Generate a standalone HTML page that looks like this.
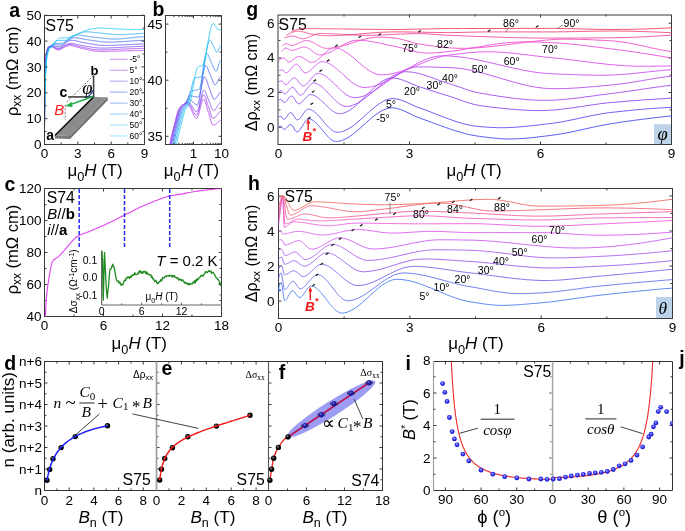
<!DOCTYPE html>
<html><head><meta charset="utf-8"><style>
html,body{margin:0;padding:0;background:#fff;}
svg{display:block;will-change:transform;}
</style></head><body>
<svg width="685" height="531" viewBox="0 0 685 531">
<rect width="685" height="531" fill="#fff"/>
<clipPath id="ca"><rect x="44.5" y="15.5" width="100" height="129"/></clipPath>
<clipPath id="cb"><rect x="165.5" y="15.5" width="56" height="129"/></clipPath>
<clipPath id="cc"><rect x="44.5" y="188.5" width="177" height="128"/></clipPath>
<clipPath id="cg"><rect x="278.5" y="14.5" width="393" height="130"/></clipPath>
<clipPath id="ch"><rect x="278.5" y="188.5" width="394" height="130"/></clipPath>
<clipPath id="ci"><rect x="433.5" y="361.5" width="119" height="129"/></clipPath>
<clipPath id="cj"><rect x="552.5" y="361.5" width="120" height="129"/></clipPath>
<clipPath id="cij"><rect x="433.5" y="361.5" width="239" height="129"/></clipPath>
<g clip-path="url(#ca)">
<path d="M44.5,126.4 44.6,108.3 44.7,97.7 44.8,90.2 45.0,84.4 45.1,79.5 45.2,75.2 45.3,71.3 45.4,68.0 45.5,65.3 45.6,62.8 45.7,60.5 45.9,58.6 46.0,57.1 46.1,55.8 46.2,54.9 46.3,54.0 46.4,53.3 46.5,52.7 46.6,52.1 46.8,51.5 46.9,51.0 47.0,50.5 47.1,50.0 47.2,49.5 47.3,49.0 47.4,48.6 47.6,48.3 47.7,48.1 47.8,47.9 47.9,47.7 48.0,47.5 48.1,47.4 48.2,47.3 48.3,47.1 48.5,47.0 48.6,47.0 48.7,46.9 48.8,46.8 48.9,46.8 49.0,46.8 49.1,46.7 49.2,46.7 49.4,46.7 49.5,46.7 49.6,46.7 49.7,46.6 49.8,46.6 49.9,46.6 50.0,46.6 50.1,46.6 50.3,46.6 50.4,46.6 50.5,46.6 50.6,46.5 50.7,46.5 50.8,46.5 50.9,46.5 51.1,46.5 51.2,46.5 51.6,46.6 52.1,46.8 52.6,47.1 53.1,47.4 53.6,47.7 54.0,48.1 54.5,48.4 55.0,48.7 55.5,49.0 56.0,49.2 56.4,49.4 56.9,49.6 57.4,49.7 57.9,49.8 58.4,49.9 58.8,49.9 59.3,49.8 59.8,49.7 60.3,49.5 60.8,49.3 61.3,49.1 61.7,48.8 62.2,48.5 62.7,48.2 63.2,47.9 63.7,47.6 64.1,47.4 64.6,47.1 65.1,46.8 65.6,46.6 66.1,46.4 66.5,46.2 67.0,46.0 67.5,45.9 68.0,45.7 68.5,45.6 68.9,45.6 69.4,45.5 69.9,45.5 70.4,45.5 70.9,45.5 71.3,45.6 71.8,45.7 72.3,45.7 72.8,45.8 73.3,46.0 73.7,46.1 74.2,46.2 74.7,46.4 75.2,46.5 75.7,46.6 76.1,46.8 76.6,46.9 77.1,47.1 77.6,47.2 78.1,47.4 78.5,47.5 79.0,47.7 79.5,47.8 80.0,47.9 80.5,48.1 80.9,48.2 81.4,48.3 81.9,48.4 82.4,48.5 82.9,48.6 83.3,48.7 83.8,48.8 84.3,48.9 84.8,49.1 85.3,49.2 85.7,49.3 86.2,49.4 86.7,49.5 87.2,49.6 87.7,49.7 88.1,49.9 88.6,50.0 89.1,50.1 89.6,50.2 90.1,50.3 90.5,50.4 91.0,50.5 91.5,50.6 92.0,50.7 92.5,50.7 92.9,50.8 93.4,50.9 93.9,51.0 94.4,51.0 94.9,51.1 95.3,51.2 95.8,51.2 96.3,51.3 96.8,51.3 97.3,51.3 97.7,51.4 98.2,51.4 98.7,51.4 99.2,51.4 99.7,51.4 100.1,51.4 100.6,51.4 101.1,51.4 101.6,51.4 102.1,51.4 102.5,51.4 103.0,51.4 103.5,51.4 104.0,51.4 104.5,51.4 104.9,51.4 105.4,51.4 105.9,51.4 106.4,51.4 106.9,51.4 107.3,51.4 107.8,51.4 108.3,51.3 108.8,51.3 109.3,51.3 109.7,51.3 110.2,51.3 110.7,51.3 111.2,51.3 111.7,51.3 112.1,51.3 112.6,51.2 113.1,51.2 113.6,51.2 114.1,51.2 114.6,51.2 115.0,51.2 115.5,51.2 116.0,51.1 116.5,51.1 117.0,51.1 117.4,51.1 117.9,51.1 118.4,51.1 118.9,51.1 119.4,51.1 119.8,51.0 120.3,51.0 120.8,51.0 121.3,51.0 121.8,51.0 122.2,51.0 122.7,51.0 123.2,50.9 123.7,50.9 124.2,50.9 124.6,50.9 125.1,50.9 125.6,50.9 126.1,50.9 126.6,50.8 127.0,50.8 127.5,50.8 128.0,50.8 128.5,50.8 129.0,50.8 129.4,50.8 129.9,50.7 130.4,50.7 130.9,50.7 131.4,50.7 131.8,50.7 132.3,50.7 132.8,50.7 133.3,50.7 133.8,50.6 134.2,50.6 134.7,50.6 135.2,50.6 135.7,50.6 136.2,50.6 136.6,50.6 137.1,50.6 137.6,50.6 138.1,50.5 138.6,50.5 139.0,50.5 139.5,50.5 140.0,50.5 140.5,50.5 141.0,50.5 141.4,50.5 141.9,50.5 142.4,50.4 142.9,50.4 143.4,50.4 143.8,50.4 144.3,50.4 144.8,50.4 145.3,50.4 145.8,50.4 146.2,50.4 146.7,50.4" fill="none" stroke="#b84cf0" stroke-width="0.9" stroke-linejoin="round" />
<path d="M44.5,126.4 44.6,108.8 44.7,98.4 44.8,91.0 45.0,85.2 45.1,80.4 45.2,76.1 45.3,72.3 45.4,69.0 45.5,66.2 45.6,63.7 45.7,61.5 45.9,59.5 46.0,57.8 46.1,56.5 46.2,55.4 46.3,54.5 46.4,53.8 46.5,53.1 46.6,52.5 46.8,51.9 46.9,51.4 47.0,50.9 47.1,50.4 47.2,49.9 47.3,49.5 47.4,49.0 47.6,48.7 47.7,48.3 47.8,48.1 47.9,47.9 48.0,47.7 48.1,47.6 48.2,47.4 48.3,47.3 48.5,47.2 48.6,47.1 48.7,47.0 48.8,47.0 48.9,46.9 49.0,46.8 49.1,46.8 49.2,46.7 49.4,46.7 49.5,46.6 49.6,46.6 49.7,46.6 49.8,46.5 49.9,46.5 50.0,46.4 50.1,46.4 50.3,46.4 50.4,46.4 50.5,46.3 50.6,46.3 50.7,46.3 50.8,46.3 50.9,46.3 51.1,46.3 51.2,46.3 51.6,46.3 52.1,46.5 52.6,46.7 53.1,47.0 53.6,47.3 54.0,47.6 54.5,47.9 55.0,48.1 55.5,48.3 56.0,48.6 56.4,48.7 56.9,48.9 57.4,49.0 57.9,49.1 58.4,49.1 58.8,49.1 59.3,49.0 59.8,48.9 60.3,48.7 60.8,48.5 61.3,48.2 61.7,47.9 62.2,47.6 62.7,47.3 63.2,47.0 63.7,46.7 64.1,46.4 64.6,46.2 65.1,45.9 65.6,45.6 66.1,45.4 66.5,45.2 67.0,45.0 67.5,44.9 68.0,44.7 68.5,44.6 68.9,44.5 69.4,44.5 69.9,44.5 70.4,44.5 70.9,44.5 71.3,44.5 71.8,44.6 72.3,44.7 72.8,44.8 73.3,44.9 73.7,45.0 74.2,45.1 74.7,45.2 75.2,45.4 75.7,45.5 76.1,45.6 76.6,45.8 77.1,45.9 77.6,46.1 78.1,46.2 78.5,46.3 79.0,46.5 79.5,46.6 80.0,46.7 80.5,46.8 80.9,46.9 81.4,47.0 81.9,47.1 82.4,47.2 82.9,47.3 83.3,47.4 83.8,47.5 84.3,47.6 84.8,47.7 85.3,47.8 85.7,47.9 86.2,48.0 86.7,48.1 87.2,48.2 87.7,48.3 88.1,48.4 88.6,48.5 89.1,48.6 89.6,48.7 90.1,48.8 90.5,48.9 91.0,49.0 91.5,49.1 92.0,49.2 92.5,49.3 92.9,49.3 93.4,49.4 93.9,49.5 94.4,49.5 94.9,49.6 95.3,49.6 95.8,49.7 96.3,49.7 96.8,49.8 97.3,49.8 97.7,49.8 98.2,49.9 98.7,49.9 99.2,49.9 99.7,49.9 100.1,49.9 100.6,49.9 101.1,49.9 101.6,49.9 102.1,49.9 102.5,49.9 103.0,49.9 103.5,49.9 104.0,49.8 104.5,49.8 104.9,49.8 105.4,49.8 105.9,49.8 106.4,49.8 106.9,49.8 107.3,49.8 107.8,49.7 108.3,49.7 108.8,49.7 109.3,49.7 109.7,49.7 110.2,49.7 110.7,49.6 111.2,49.6 111.7,49.6 112.1,49.6 112.6,49.6 113.1,49.5 113.6,49.5 114.1,49.5 114.6,49.5 115.0,49.5 115.5,49.4 116.0,49.4 116.5,49.4 117.0,49.4 117.4,49.4 117.9,49.3 118.4,49.3 118.9,49.3 119.4,49.3 119.8,49.2 120.3,49.2 120.8,49.2 121.3,49.2 121.8,49.2 122.2,49.1 122.7,49.1 123.2,49.1 123.7,49.1 124.2,49.0 124.6,49.0 125.1,49.0 125.6,49.0 126.1,49.0 126.6,48.9 127.0,48.9 127.5,48.9 128.0,48.9 128.5,48.9 129.0,48.8 129.4,48.8 129.9,48.8 130.4,48.8 130.9,48.8 131.4,48.7 131.8,48.7 132.3,48.7 132.8,48.7 133.3,48.7 133.8,48.7 134.2,48.6 134.7,48.6 135.2,48.6 135.7,48.6 136.2,48.6 136.6,48.6 137.1,48.5 137.6,48.5 138.1,48.5 138.6,48.5 139.0,48.5 139.5,48.5 140.0,48.5 140.5,48.4 141.0,48.4 141.4,48.4 141.9,48.4 142.4,48.4 142.9,48.4 143.4,48.4 143.8,48.4 144.3,48.3 144.8,48.3 145.3,48.3 145.8,48.3 146.2,48.3 146.7,48.3" fill="none" stroke="#a04cf2" stroke-width="0.9" stroke-linejoin="round" />
<path d="M44.5,126.4 44.6,109.3 44.7,99.2 44.8,91.9 45.0,86.2 45.1,81.4 45.2,77.3 45.3,73.5 45.4,70.2 45.5,67.3 45.6,64.8 45.7,62.6 45.9,60.5 46.0,58.8 46.1,57.3 46.2,56.1 46.3,55.2 46.4,54.3 46.5,53.6 46.6,53.0 46.8,52.4 46.9,51.9 47.0,51.4 47.1,50.9 47.2,50.5 47.3,50.0 47.4,49.6 47.6,49.1 47.7,48.8 47.8,48.4 47.9,48.2 48.0,48.0 48.1,47.8 48.2,47.7 48.3,47.5 48.5,47.4 48.6,47.3 48.7,47.2 48.8,47.1 48.9,47.1 49.0,47.0 49.1,46.9 49.2,46.8 49.4,46.8 49.5,46.7 49.6,46.6 49.7,46.6 49.8,46.5 49.9,46.5 50.0,46.4 50.1,46.3 50.3,46.3 50.4,46.2 50.5,46.2 50.6,46.1 50.7,46.1 50.8,46.1 50.9,46.1 51.1,46.0 51.2,46.0 51.6,46.0 52.1,46.1 52.6,46.3 53.1,46.5 53.6,46.7 54.0,47.0 54.5,47.2 55.0,47.4 55.5,47.6 56.0,47.8 56.4,48.0 56.9,48.1 57.4,48.2 57.9,48.3 58.4,48.3 58.8,48.3 59.3,48.3 59.8,48.2 60.3,48.0 60.8,47.8 61.3,47.6 61.7,47.3 62.2,47.0 62.7,46.7 63.2,46.4 63.7,46.1 64.1,45.8 64.6,45.5 65.1,45.2 65.6,44.9 66.1,44.6 66.5,44.4 67.0,44.2 67.5,44.0 68.0,43.8 68.5,43.7 68.9,43.6 69.4,43.5 69.9,43.5 70.4,43.4 70.9,43.4 71.3,43.4 71.8,43.5 72.3,43.5 72.8,43.6 73.3,43.7 73.7,43.7 74.2,43.8 74.7,43.9 75.2,44.0 75.7,44.1 76.1,44.3 76.6,44.4 77.1,44.5 77.6,44.6 78.1,44.7 78.5,44.8 79.0,44.9 79.5,45.0 80.0,45.1 80.5,45.2 80.9,45.3 81.4,45.4 81.9,45.5 82.4,45.6 82.9,45.7 83.3,45.8 83.8,45.8 84.3,45.9 84.8,46.0 85.3,46.1 85.7,46.1 86.2,46.2 86.7,46.3 87.2,46.4 87.7,46.5 88.1,46.6 88.6,46.7 89.1,46.7 89.6,46.8 90.1,46.9 90.5,47.0 91.0,47.1 91.5,47.1 92.0,47.2 92.5,47.3 92.9,47.4 93.4,47.4 93.9,47.5 94.4,47.6 94.9,47.6 95.3,47.7 95.8,47.7 96.3,47.8 96.8,47.8 97.3,47.9 97.7,47.9 98.2,47.9 98.7,48.0 99.2,48.0 99.7,48.0 100.1,48.0 100.6,48.1 101.1,48.1 101.6,48.1 102.1,48.1 102.5,48.1 103.0,48.1 103.5,48.1 104.0,48.1 104.5,48.1 104.9,48.1 105.4,48.0 105.9,48.0 106.4,48.0 106.9,48.0 107.3,48.0 107.8,48.0 108.3,48.0 108.8,47.9 109.3,47.9 109.7,47.9 110.2,47.9 110.7,47.9 111.2,47.8 111.7,47.8 112.1,47.8 112.6,47.8 113.1,47.7 113.6,47.7 114.1,47.7 114.6,47.7 115.0,47.6 115.5,47.6 116.0,47.6 116.5,47.6 117.0,47.5 117.4,47.5 117.9,47.5 118.4,47.5 118.9,47.4 119.4,47.4 119.8,47.4 120.3,47.4 120.8,47.3 121.3,47.3 121.8,47.3 122.2,47.2 122.7,47.2 123.2,47.2 123.7,47.2 124.2,47.1 124.6,47.1 125.1,47.1 125.6,47.1 126.1,47.0 126.6,47.0 127.0,47.0 127.5,46.9 128.0,46.9 128.5,46.9 129.0,46.9 129.4,46.8 129.9,46.8 130.4,46.8 130.9,46.8 131.4,46.8 131.8,46.7 132.3,46.7 132.8,46.7 133.3,46.7 133.8,46.6 134.2,46.6 134.7,46.6 135.2,46.6 135.7,46.6 136.2,46.5 136.6,46.5 137.1,46.5 137.6,46.5 138.1,46.5 138.6,46.4 139.0,46.4 139.5,46.4 140.0,46.4 140.5,46.4 141.0,46.4 141.4,46.4 141.9,46.3 142.4,46.3 142.9,46.3 143.4,46.3 143.8,46.3 144.3,46.3 144.8,46.3 145.3,46.3 145.8,46.2 146.2,46.2 146.7,46.2" fill="none" stroke="#8a52f2" stroke-width="0.9" stroke-linejoin="round" />
<path d="M44.5,126.4 44.6,110.0 44.7,100.2 44.8,93.1 45.0,87.5 45.1,82.8 45.2,78.7 45.3,75.0 45.4,71.7 45.5,68.8 45.6,66.3 45.7,64.0 45.9,62.0 46.0,60.1 46.1,58.5 46.2,57.2 46.3,56.1 46.4,55.2 46.5,54.4 46.6,53.7 46.8,53.1 46.9,52.6 47.0,52.1 47.1,51.6 47.2,51.2 47.3,50.7 47.4,50.3 47.6,49.8 47.7,49.4 47.8,49.0 47.9,48.7 48.0,48.4 48.1,48.2 48.2,48.0 48.3,47.8 48.5,47.7 48.6,47.6 48.7,47.5 48.8,47.4 48.9,47.3 49.0,47.2 49.1,47.1 49.2,47.1 49.4,47.0 49.5,46.9 49.6,46.8 49.7,46.8 49.8,46.7 49.9,46.6 50.0,46.5 50.1,46.4 50.3,46.3 50.4,46.2 50.5,46.1 50.6,46.0 50.7,45.9 50.8,45.9 50.9,45.8 51.1,45.7 51.2,45.7 51.6,45.5 52.1,45.5 52.6,45.6 53.1,45.7 53.6,45.8 54.0,45.9 54.5,46.0 55.0,46.1 55.5,46.3 56.0,46.4 56.4,46.5 56.9,46.6 57.4,46.6 57.9,46.7 58.4,46.7 58.8,46.8 59.3,46.8 59.8,46.8 60.3,46.7 60.8,46.5 61.3,46.3 61.7,46.0 62.2,45.6 62.7,45.3 63.2,44.9 63.7,44.5 64.1,44.1 64.6,43.7 65.1,43.3 65.6,42.9 66.1,42.6 66.5,42.2 67.0,41.9 67.5,41.6 68.0,41.3 68.5,41.1 68.9,40.9 69.4,40.7 69.9,40.6 70.4,40.5 70.9,40.4 71.3,40.3 71.8,40.3 72.3,40.3 72.8,40.4 73.3,40.4 73.7,40.5 74.2,40.5 74.7,40.6 75.2,40.7 75.7,40.8 76.1,40.9 76.6,41.0 77.1,41.1 77.6,41.2 78.1,41.4 78.5,41.5 79.0,41.6 79.5,41.7 80.0,41.8 80.5,41.9 80.9,42.0 81.4,42.2 81.9,42.3 82.4,42.4 82.9,42.5 83.3,42.6 83.8,42.7 84.3,42.7 84.8,42.8 85.3,42.9 85.7,43.0 86.2,43.1 86.7,43.1 87.2,43.2 87.7,43.3 88.1,43.4 88.6,43.5 89.1,43.6 89.6,43.7 90.1,43.8 90.5,43.8 91.0,43.9 91.5,44.0 92.0,44.1 92.5,44.2 92.9,44.3 93.4,44.4 93.9,44.4 94.4,44.5 94.9,44.6 95.3,44.7 95.8,44.7 96.3,44.8 96.8,44.9 97.3,44.9 97.7,45.0 98.2,45.1 98.7,45.1 99.2,45.2 99.7,45.2 100.1,45.2 100.6,45.3 101.1,45.3 101.6,45.4 102.1,45.4 102.5,45.4 103.0,45.4 103.5,45.5 104.0,45.5 104.5,45.5 104.9,45.5 105.4,45.5 105.9,45.5 106.4,45.5 106.9,45.5 107.3,45.5 107.8,45.5 108.3,45.5 108.8,45.5 109.3,45.4 109.7,45.4 110.2,45.4 110.7,45.4 111.2,45.4 111.7,45.4 112.1,45.4 112.6,45.3 113.1,45.3 113.6,45.3 114.1,45.3 114.6,45.3 115.0,45.2 115.5,45.2 116.0,45.2 116.5,45.2 117.0,45.2 117.4,45.1 117.9,45.1 118.4,45.1 118.9,45.1 119.4,45.0 119.8,45.0 120.3,45.0 120.8,45.0 121.3,44.9 121.8,44.9 122.2,44.9 122.7,44.9 123.2,44.8 123.7,44.8 124.2,44.8 124.6,44.8 125.1,44.7 125.6,44.7 126.1,44.7 126.6,44.7 127.0,44.6 127.5,44.6 128.0,44.6 128.5,44.6 129.0,44.5 129.4,44.5 129.9,44.5 130.4,44.5 130.9,44.4 131.4,44.4 131.8,44.4 132.3,44.4 132.8,44.4 133.3,44.3 133.8,44.3 134.2,44.3 134.7,44.3 135.2,44.3 135.7,44.2 136.2,44.2 136.6,44.2 137.1,44.2 137.6,44.2 138.1,44.1 138.6,44.1 139.0,44.1 139.5,44.1 140.0,44.1 140.5,44.1 141.0,44.0 141.4,44.0 141.9,44.0 142.4,44.0 142.9,44.0 143.4,44.0 143.8,44.0 144.3,43.9 144.8,43.9 145.3,43.9 145.8,43.9 146.2,43.9 146.7,43.9" fill="none" stroke="#6a5cf2" stroke-width="0.9" stroke-linejoin="round" />
<path d="M44.5,126.4 44.6,110.9 44.7,101.5 44.8,94.6 45.0,89.1 45.1,84.5 45.2,80.6 45.3,77.0 45.4,73.8 45.5,70.8 45.6,68.2 45.7,66.0 45.9,63.9 46.0,62.0 46.1,60.3 46.2,58.8 46.3,57.5 46.4,56.4 46.5,55.5 46.6,54.8 46.8,54.1 46.9,53.5 47.0,53.0 47.1,52.5 47.2,52.0 47.3,51.6 47.4,51.2 47.6,50.8 47.7,50.4 47.8,50.0 47.9,49.6 48.0,49.2 48.1,48.9 48.2,48.6 48.3,48.3 48.5,48.1 48.6,47.9 48.7,47.8 48.8,47.7 48.9,47.6 49.0,47.5 49.1,47.4 49.2,47.3 49.4,47.3 49.5,47.2 49.6,47.1 49.7,47.1 49.8,47.0 49.9,46.9 50.0,46.8 50.1,46.7 50.3,46.6 50.4,46.5 50.5,46.4 50.6,46.3 50.7,46.1 50.8,46.0 50.9,45.9 51.1,45.7 51.2,45.6 51.6,45.1 52.1,44.8 52.6,44.7 53.1,44.7 53.6,44.7 54.0,44.8 54.5,44.8 55.0,44.8 55.5,44.8 56.0,44.8 56.4,44.9 56.9,44.9 57.4,44.9 57.9,44.9 58.4,44.9 58.8,44.9 59.3,45.0 59.8,45.0 60.3,45.0 60.8,45.0 61.3,45.0 61.7,44.9 62.2,44.8 62.7,44.5 63.2,44.3 63.7,44.0 64.1,43.6 64.6,43.2 65.1,42.8 65.6,42.4 66.1,42.0 66.5,41.6 67.0,41.2 67.5,40.8 68.0,40.5 68.5,40.1 68.9,39.8 69.4,39.5 69.9,39.2 70.4,38.9 70.9,38.6 71.3,38.4 71.8,38.2 72.3,38.1 72.8,37.9 73.3,37.8 73.7,37.8 74.2,37.7 74.7,37.7 75.2,37.8 75.7,37.8 76.1,37.8 76.6,37.9 77.1,37.9 77.6,38.0 78.1,38.0 78.5,38.1 79.0,38.2 79.5,38.3 80.0,38.4 80.5,38.5 80.9,38.6 81.4,38.6 81.9,38.7 82.4,38.8 82.9,38.9 83.3,39.0 83.8,39.1 84.3,39.2 84.8,39.3 85.3,39.4 85.7,39.5 86.2,39.5 86.7,39.6 87.2,39.7 87.7,39.8 88.1,39.8 88.6,39.9 89.1,40.0 89.6,40.0 90.1,40.1 90.5,40.2 91.0,40.2 91.5,40.3 92.0,40.4 92.5,40.4 92.9,40.5 93.4,40.6 93.9,40.7 94.4,40.7 94.9,40.8 95.3,40.9 95.8,41.0 96.3,41.0 96.8,41.1 97.3,41.2 97.7,41.2 98.2,41.3 98.7,41.3 99.2,41.4 99.7,41.5 100.1,41.5 100.6,41.6 101.1,41.6 101.6,41.7 102.1,41.7 102.5,41.8 103.0,41.8 103.5,41.9 104.0,41.9 104.5,41.9 104.9,42.0 105.4,42.0 105.9,42.0 106.4,42.0 106.9,42.1 107.3,42.1 107.8,42.1 108.3,42.1 108.8,42.1 109.3,42.1 109.7,42.1 110.2,42.1 110.7,42.1 111.2,42.1 111.7,42.1 112.1,42.1 112.6,42.1 113.1,42.1 113.6,42.1 114.1,42.1 114.6,42.0 115.0,42.0 115.5,42.0 116.0,42.0 116.5,41.9 117.0,41.9 117.4,41.9 117.9,41.9 118.4,41.8 118.9,41.8 119.4,41.8 119.8,41.8 120.3,41.7 120.8,41.7 121.3,41.7 121.8,41.6 122.2,41.6 122.7,41.6 123.2,41.5 123.7,41.5 124.2,41.5 124.6,41.4 125.1,41.4 125.6,41.4 126.1,41.3 126.6,41.3 127.0,41.3 127.5,41.2 128.0,41.2 128.5,41.2 129.0,41.1 129.4,41.1 129.9,41.1 130.4,41.0 130.9,41.0 131.4,41.0 131.8,40.9 132.3,40.9 132.8,40.9 133.3,40.8 133.8,40.8 134.2,40.8 134.7,40.7 135.2,40.7 135.7,40.7 136.2,40.7 136.6,40.6 137.1,40.6 137.6,40.6 138.1,40.6 138.6,40.5 139.0,40.5 139.5,40.5 140.0,40.5 140.5,40.5 141.0,40.4 141.4,40.4 141.9,40.4 142.4,40.4 142.9,40.4 143.4,40.4 143.8,40.3 144.3,40.3 144.8,40.3 145.3,40.3 145.8,40.3 146.2,40.3 146.7,40.3" fill="none" stroke="#5070f2" stroke-width="0.9" stroke-linejoin="round" />
<path d="M44.5,126.4 44.6,111.9 44.7,102.9 44.8,96.2 45.0,90.9 45.1,86.5 45.2,82.6 45.3,79.2 45.4,76.0 45.5,73.1 45.6,70.5 45.7,68.1 45.9,66.1 46.0,64.2 46.1,62.4 46.2,60.8 46.3,59.4 46.4,58.1 46.5,57.0 46.6,56.1 46.8,55.3 46.9,54.7 47.0,54.1 47.1,53.5 47.2,53.0 47.3,52.6 47.4,52.2 47.6,51.8 47.7,51.4 47.8,51.0 47.9,50.6 48.0,50.2 48.1,49.9 48.2,49.5 48.3,49.2 48.5,48.9 48.6,48.6 48.7,48.4 48.8,48.2 48.9,48.0 49.0,47.9 49.1,47.8 49.2,47.7 49.4,47.6 49.5,47.5 49.6,47.4 49.7,47.4 49.8,47.3 49.9,47.2 50.0,47.2 50.1,47.1 50.3,47.1 50.4,47.0 50.5,46.9 50.6,46.8 50.7,46.7 50.8,46.6 50.9,46.5 51.1,46.3 51.2,46.2 51.6,45.4 52.1,44.7 52.6,44.2 53.1,43.8 53.6,43.7 54.0,43.6 54.5,43.5 55.0,43.5 55.5,43.5 56.0,43.5 56.4,43.4 56.9,43.4 57.4,43.4 57.9,43.4 58.4,43.4 58.8,43.4 59.3,43.3 59.8,43.3 60.3,43.3 60.8,43.3 61.3,43.2 61.7,43.2 62.2,43.2 62.7,43.1 63.2,42.9 63.7,42.7 64.1,42.5 64.6,42.1 65.1,41.8 65.6,41.4 66.1,41.0 66.5,40.6 67.0,40.2 67.5,39.7 68.0,39.3 68.5,38.9 68.9,38.5 69.4,38.1 69.9,37.7 70.4,37.4 70.9,37.0 71.3,36.7 71.8,36.4 72.3,36.1 72.8,35.9 73.3,35.7 73.7,35.5 74.2,35.3 74.7,35.2 75.2,35.1 75.7,35.0 76.1,34.9 76.6,34.9 77.1,34.9 77.6,34.9 78.1,34.9 78.5,35.0 79.0,35.0 79.5,35.1 80.0,35.1 80.5,35.2 80.9,35.2 81.4,35.3 81.9,35.4 82.4,35.4 82.9,35.5 83.3,35.6 83.8,35.7 84.3,35.8 84.8,35.8 85.3,35.9 85.7,36.0 86.2,36.1 86.7,36.2 87.2,36.2 87.7,36.3 88.1,36.4 88.6,36.5 89.1,36.5 89.6,36.6 90.1,36.7 90.5,36.7 91.0,36.8 91.5,36.9 92.0,36.9 92.5,37.0 92.9,37.0 93.4,37.1 93.9,37.1 94.4,37.2 94.9,37.3 95.3,37.3 95.8,37.4 96.3,37.4 96.8,37.5 97.3,37.6 97.7,37.6 98.2,37.7 98.7,37.8 99.2,37.8 99.7,37.9 100.1,37.9 100.6,38.0 101.1,38.1 101.6,38.1 102.1,38.2 102.5,38.2 103.0,38.3 103.5,38.3 104.0,38.4 104.5,38.4 104.9,38.5 105.4,38.5 105.9,38.6 106.4,38.6 106.9,38.7 107.3,38.7 107.8,38.7 108.3,38.8 108.8,38.8 109.3,38.8 109.7,38.9 110.2,38.9 110.7,38.9 111.2,38.9 111.7,39.0 112.1,39.0 112.6,39.0 113.1,39.0 113.6,39.0 114.1,39.0 114.6,39.0 115.0,39.0 115.5,39.0 116.0,39.0 116.5,39.0 117.0,39.0 117.4,39.0 117.9,39.0 118.4,39.0 118.9,38.9 119.4,38.9 119.8,38.9 120.3,38.8 120.8,38.8 121.3,38.8 121.8,38.7 122.2,38.7 122.7,38.6 123.2,38.6 123.7,38.6 124.2,38.5 124.6,38.5 125.1,38.4 125.6,38.4 126.1,38.3 126.6,38.2 127.0,38.2 127.5,38.1 128.0,38.1 128.5,38.0 129.0,38.0 129.4,37.9 129.9,37.9 130.4,37.8 130.9,37.8 131.4,37.7 131.8,37.7 132.3,37.6 132.8,37.6 133.3,37.5 133.8,37.5 134.2,37.4 134.7,37.4 135.2,37.3 135.7,37.3 136.2,37.2 136.6,37.2 137.1,37.1 137.6,37.1 138.1,37.1 138.6,37.0 139.0,37.0 139.5,37.0 140.0,36.9 140.5,36.9 141.0,36.9 141.4,36.8 141.9,36.8 142.4,36.8 142.9,36.8 143.4,36.7 143.8,36.7 144.3,36.7 144.8,36.7 145.3,36.7 145.8,36.7 146.2,36.7 146.7,36.6" fill="none" stroke="#3c90f4" stroke-width="0.9" stroke-linejoin="round" />
<path d="M44.5,126.4 44.6,113.0 44.7,104.5 44.8,98.2 45.0,93.2 45.1,88.8 45.2,85.1 45.3,81.8 45.4,78.8 45.5,76.0 45.6,73.4 45.7,71.0 45.9,68.8 46.0,66.9 46.1,65.2 46.2,63.6 46.3,62.0 46.4,60.6 46.5,59.3 46.6,58.2 46.8,57.2 46.9,56.3 47.0,55.6 47.1,55.0 47.2,54.4 47.3,53.9 47.4,53.5 47.6,53.0 47.7,52.6 47.8,52.2 47.9,51.9 48.0,51.5 48.1,51.2 48.2,50.8 48.3,50.5 48.5,50.2 48.6,49.9 48.7,49.5 48.8,49.2 48.9,49.0 49.0,48.7 49.1,48.5 49.2,48.3 49.4,48.1 49.5,48.0 49.6,47.9 49.7,47.8 49.8,47.7 49.9,47.6 50.0,47.5 50.1,47.5 50.3,47.4 50.4,47.4 50.5,47.3 50.6,47.3 50.7,47.2 50.8,47.1 50.9,47.1 51.1,47.0 51.2,46.9 51.6,46.5 52.1,45.9 52.6,45.2 53.1,44.4 53.6,43.6 54.0,42.8 54.5,42.1 55.0,41.6 55.5,41.1 56.0,40.8 56.4,40.6 56.9,40.6 57.4,40.5 57.9,40.5 58.4,40.5 58.8,40.5 59.3,40.5 59.8,40.5 60.3,40.5 60.8,40.4 61.3,40.4 61.7,40.4 62.2,40.4 62.7,40.4 63.2,40.4 63.7,40.4 64.1,40.4 64.6,40.4 65.1,40.3 65.6,40.3 66.1,40.3 66.5,40.2 67.0,40.1 67.5,39.9 68.0,39.7 68.5,39.5 68.9,39.3 69.4,39.0 69.9,38.7 70.4,38.5 70.9,38.2 71.3,37.9 71.8,37.6 72.3,37.3 72.8,37.0 73.3,36.7 73.7,36.4 74.2,36.1 74.7,35.8 75.2,35.5 75.7,35.2 76.1,34.9 76.6,34.7 77.1,34.4 77.6,34.2 78.1,33.9 78.5,33.7 79.0,33.5 79.5,33.3 80.0,33.1 80.5,32.9 80.9,32.8 81.4,32.6 81.9,32.5 82.4,32.3 82.9,32.2 83.3,32.1 83.8,32.0 84.3,32.0 84.8,31.9 85.3,31.9 85.7,31.8 86.2,31.8 86.7,31.8 87.2,31.8 87.7,31.8 88.1,31.8 88.6,31.9 89.1,31.9 89.6,31.9 90.1,32.0 90.5,32.0 91.0,32.0 91.5,32.1 92.0,32.1 92.5,32.2 92.9,32.3 93.4,32.3 93.9,32.4 94.4,32.4 94.9,32.5 95.3,32.6 95.8,32.6 96.3,32.7 96.8,32.7 97.3,32.8 97.7,32.8 98.2,32.9 98.7,33.0 99.2,33.0 99.7,33.1 100.1,33.1 100.6,33.1 101.1,33.2 101.6,33.2 102.1,33.3 102.5,33.3 103.0,33.4 103.5,33.4 104.0,33.5 104.5,33.5 104.9,33.6 105.4,33.6 105.9,33.6 106.4,33.7 106.9,33.7 107.3,33.8 107.8,33.8 108.3,33.9 108.8,33.9 109.3,34.0 109.7,34.0 110.2,34.1 110.7,34.1 111.2,34.2 111.7,34.2 112.1,34.2 112.6,34.3 113.1,34.3 113.6,34.4 114.1,34.4 114.6,34.4 115.0,34.4 115.5,34.5 116.0,34.5 116.5,34.5 117.0,34.5 117.4,34.6 117.9,34.6 118.4,34.6 118.9,34.6 119.4,34.6 119.8,34.6 120.3,34.6 120.8,34.6 121.3,34.6 121.8,34.6 122.2,34.6 122.7,34.6 123.2,34.6 123.7,34.6 124.2,34.6 124.6,34.6 125.1,34.5 125.6,34.5 126.1,34.5 126.6,34.5 127.0,34.4 127.5,34.4 128.0,34.4 128.5,34.3 129.0,34.3 129.4,34.3 129.9,34.2 130.4,34.2 130.9,34.2 131.4,34.1 131.8,34.1 132.3,34.1 132.8,34.0 133.3,34.0 133.8,34.0 134.2,33.9 134.7,33.9 135.2,33.8 135.7,33.8 136.2,33.8 136.6,33.7 137.1,33.7 137.6,33.7 138.1,33.6 138.6,33.6 139.0,33.6 139.5,33.6 140.0,33.5 140.5,33.5 141.0,33.5 141.4,33.5 141.9,33.4 142.4,33.4 142.9,33.4 143.4,33.4 143.8,33.4 144.3,33.4 144.8,33.3 145.3,33.3 145.8,33.3 146.2,33.3 146.7,33.3" fill="none" stroke="#2cb0f6" stroke-width="0.9" stroke-linejoin="round" />
<path d="M44.5,126.4 44.6,114.1 44.7,106.1 44.8,100.2 45.0,95.4 45.1,91.3 45.2,87.6 45.3,84.4 45.4,81.5 45.5,78.9 45.6,76.4 45.7,74.0 45.9,71.8 46.0,69.9 46.1,68.0 46.2,66.4 46.3,64.9 46.4,63.5 46.5,62.1 46.6,60.9 46.8,59.7 46.9,58.6 47.0,57.7 47.1,56.9 47.2,56.2 47.3,55.5 47.4,55.0 47.6,54.5 47.7,54.0 47.8,53.6 47.9,53.2 48.0,52.8 48.1,52.5 48.2,52.1 48.3,51.8 48.5,51.5 48.6,51.2 48.7,50.9 48.8,50.6 48.9,50.3 49.0,50.0 49.1,49.8 49.2,49.5 49.4,49.2 49.5,49.0 49.6,48.8 49.7,48.5 49.8,48.4 49.9,48.2 50.0,48.1 50.1,47.9 50.3,47.8 50.4,47.8 50.5,47.7 50.6,47.6 50.7,47.5 50.8,47.5 50.9,47.4 51.1,47.4 51.2,47.3 51.6,47.1 52.1,46.9 52.6,46.5 53.1,46.0 53.6,45.3 54.0,44.6 54.5,43.8 55.0,43.1 55.5,42.3 56.0,41.6 56.4,41.0 56.9,40.4 57.4,39.8 57.9,39.4 58.4,39.0 58.8,38.6 59.3,38.4 59.8,38.2 60.3,38.0 60.8,38.0 61.3,38.0 61.7,37.9 62.2,37.9 62.7,37.9 63.2,37.9 63.7,37.9 64.1,37.9 64.6,37.8 65.1,37.8 65.6,37.8 66.1,37.8 66.5,37.8 67.0,37.8 67.5,37.7 68.0,37.7 68.5,37.6 68.9,37.5 69.4,37.4 69.9,37.2 70.4,37.1 70.9,36.9 71.3,36.7 71.8,36.6 72.3,36.4 72.8,36.2 73.3,35.9 73.7,35.7 74.2,35.5 74.7,35.3 75.2,35.1 75.7,34.8 76.1,34.6 76.6,34.4 77.1,34.1 77.6,33.9 78.1,33.7 78.5,33.5 79.0,33.2 79.5,33.0 80.0,32.8 80.5,32.6 80.9,32.4 81.4,32.2 81.9,32.0 82.4,31.8 82.9,31.6 83.3,31.4 83.8,31.2 84.3,31.0 84.8,30.8 85.3,30.7 85.7,30.5 86.2,30.3 86.7,30.2 87.2,30.0 87.7,29.9 88.1,29.7 88.6,29.6 89.1,29.5 89.6,29.3 90.1,29.2 90.5,29.1 91.0,29.0 91.5,28.9 92.0,28.8 92.5,28.7 92.9,28.6 93.4,28.6 93.9,28.5 94.4,28.4 94.9,28.4 95.3,28.3 95.8,28.3 96.3,28.2 96.8,28.2 97.3,28.1 97.7,28.1 98.2,28.1 98.7,28.1 99.2,28.1 99.7,28.0 100.1,28.0 100.6,28.0 101.1,28.1 101.6,28.1 102.1,28.1 102.5,28.1 103.0,28.1 103.5,28.1 104.0,28.1 104.5,28.2 104.9,28.2 105.4,28.2 105.9,28.2 106.4,28.3 106.9,28.3 107.3,28.3 107.8,28.4 108.3,28.4 108.8,28.4 109.3,28.5 109.7,28.5 110.2,28.5 110.7,28.5 111.2,28.6 111.7,28.6 112.1,28.6 112.6,28.7 113.1,28.7 113.6,28.7 114.1,28.7 114.6,28.8 115.0,28.8 115.5,28.8 116.0,28.8 116.5,28.9 117.0,28.9 117.4,28.9 117.9,28.9 118.4,29.0 118.9,29.0 119.4,29.0 119.8,29.0 120.3,29.1 120.8,29.1 121.3,29.1 121.8,29.1 122.2,29.2 122.7,29.2 123.2,29.2 123.7,29.2 124.2,29.3 124.6,29.3 125.1,29.3 125.6,29.3 126.1,29.4 126.6,29.4 127.0,29.4 127.5,29.4 128.0,29.4 128.5,29.5 129.0,29.5 129.4,29.5 129.9,29.5 130.4,29.5 130.9,29.5 131.4,29.5 131.8,29.6 132.3,29.6 132.8,29.6 133.3,29.6 133.8,29.6 134.2,29.6 134.7,29.6 135.2,29.6 135.7,29.6 136.2,29.6 136.6,29.6 137.1,29.6 137.6,29.6 138.1,29.6 138.6,29.6 139.0,29.6 139.5,29.6 140.0,29.6 140.5,29.6 141.0,29.6 141.4,29.5 141.9,29.5 142.4,29.5 142.9,29.5 143.4,29.5 143.8,29.5 144.3,29.5 144.8,29.5 145.3,29.5 145.8,29.5 146.2,29.4 146.7,29.4" fill="none" stroke="#28ccf6" stroke-width="0.9" stroke-linejoin="round" />
</g>
<g clip-path="url(#cb)">
<path d="M164.1,187.8 164.3,185.9 164.5,184.1 164.8,182.3 165.0,180.4 165.2,178.5 165.4,176.7 165.7,174.8 165.9,172.9 166.1,171.0 166.3,169.2 166.5,167.3 166.8,165.5 167.0,163.7 167.2,161.9 167.4,160.1 167.6,158.4 167.9,156.7 168.1,155.0 168.3,153.4 168.5,151.9 168.8,150.4 169.0,148.9 169.2,147.6 169.4,146.3 169.6,145.0 169.9,143.8 170.1,142.6 170.3,141.5 170.5,140.4 170.7,139.4 171.0,138.3 171.2,137.3 171.4,136.3 171.6,135.3 171.9,134.4 172.1,133.5 172.3,132.6 172.5,131.7 172.7,130.8 173.0,129.9 173.2,129.1 173.4,128.2 173.6,127.3 173.9,126.5 174.1,125.7 174.3,124.8 174.5,124.0 174.7,123.1 175.0,122.2 175.2,121.4 175.4,120.5 175.6,119.6 175.8,118.6 176.1,117.7 176.3,116.8 176.5,116.0 176.7,115.1 177.0,114.3 177.2,113.5 177.4,112.7 177.6,112.0 177.8,111.4 178.1,110.8 178.3,110.3 178.5,109.8 178.7,109.4 178.9,109.0 179.2,108.6 179.4,108.2 179.6,107.9 179.8,107.5 180.1,107.2 180.3,106.8 180.5,106.5 180.7,106.3 180.9,106.0 181.2,105.8 181.4,105.5 181.6,105.3 181.8,105.2 182.1,105.0 182.3,104.9 182.5,104.8 182.7,104.7 182.9,104.7 183.2,104.6 183.4,104.5 183.6,104.4 183.8,104.4 184.0,104.3 184.3,104.2 184.5,104.2 184.7,104.1 184.9,104.1 185.2,104.0 185.4,104.0 185.6,103.9 185.8,103.9 186.0,103.8 186.3,103.8 186.5,103.8 186.7,103.8 186.9,103.8 187.1,103.8 187.4,103.8 187.6,103.8 187.8,103.9 188.0,104.0 188.3,104.2 188.5,104.4 188.7,104.7 188.9,105.0 189.1,105.3 189.4,105.6 189.6,106.0 189.8,106.4 190.0,106.9 190.3,107.3 190.5,107.8 190.7,108.2 190.9,108.7 191.1,109.3 191.4,109.8 191.6,110.3 191.8,110.8 192.0,111.3 192.2,111.9 192.5,112.4 192.7,112.9 192.9,113.4 193.1,113.9 193.4,114.4 193.6,114.9 193.8,115.3 194.0,115.7 194.2,116.1 194.5,116.5 194.7,116.9 194.9,117.2 195.1,117.5 195.3,117.7 195.6,117.9 195.8,118.1 196.0,118.2 196.2,118.3 196.5,118.3 196.7,118.3 196.9,118.2 197.1,117.9 197.3,117.6 197.6,117.2 197.8,116.7 198.0,116.2 198.2,115.5 198.5,114.9 198.7,114.1 198.9,113.4 199.1,112.5 199.3,111.7 199.6,110.8 199.8,110.0 200.0,109.1 200.2,108.2 200.4,107.3 200.7,106.4 200.9,105.6 201.1,104.7 201.3,103.9 201.6,103.2 201.8,102.5 202.0,101.8 202.2,101.2 202.4,100.7 202.7,100.2 202.9,99.9 203.1,99.6 203.3,99.4 203.5,99.3 203.8,99.3 204.0,99.4 204.2,99.6 204.4,100.0 204.7,100.4 204.9,100.8 205.1,101.4 205.3,102.0 205.5,102.7 205.8,103.4 206.0,104.1 206.2,104.9 206.4,105.7 206.7,106.5 206.9,107.3 207.1,108.1 207.3,108.9 207.5,109.6 207.8,110.4 208.0,111.1 208.2,111.8 208.4,112.4 208.6,113.0 208.9,113.7 209.1,114.5 209.3,115.2 209.5,116.0 209.8,116.8 210.0,117.6 210.2,118.4 210.4,119.2 210.6,120.0 210.9,120.8 211.1,121.5 211.3,122.1 211.5,122.8 211.7,123.3 212.0,123.8 212.2,124.3 212.4,124.6 212.6,124.9 212.9,125.0 213.1,125.1 213.3,125.1 213.5,125.0 213.7,125.0 214.0,125.0 214.2,124.9 214.4,124.8 214.6,124.7 214.9,124.6 215.1,124.5 215.3,124.4 215.5,124.2 215.7,124.1 216.0,123.9 216.2,123.8 216.4,123.6 216.6,123.5 216.8,123.3 217.1,123.1 217.3,122.9 217.5,122.7 217.7,122.6 218.0,122.4 218.2,122.2 218.4,122.0 218.6,121.8 218.8,121.6 219.1,121.5 219.3,121.3 219.5,121.1 219.7,120.9 219.9,120.8 220.2,120.6 220.4,120.5 220.6,120.3 220.8,120.2 221.1,120.0 221.3,119.8 221.5,119.7" fill="none" stroke="#b84cf0" stroke-width="0.9" stroke-linejoin="round" />
<path d="M164.1,191.7 164.3,189.9 164.5,188.0 164.8,186.2 165.0,184.4 165.2,182.5 165.4,180.7 165.7,178.8 165.9,176.9 166.1,175.1 166.3,173.2 166.5,171.3 166.8,169.4 167.0,167.6 167.2,165.7 167.4,163.9 167.6,162.1 167.9,160.4 168.1,158.6 168.3,156.9 168.5,155.3 168.8,153.7 169.0,152.1 169.2,150.6 169.4,149.2 169.6,147.8 169.9,146.4 170.1,145.2 170.3,144.0 170.5,142.8 170.7,141.7 171.0,140.6 171.2,139.5 171.4,138.5 171.6,137.5 171.9,136.5 172.1,135.5 172.3,134.5 172.5,133.6 172.7,132.7 173.0,131.8 173.2,130.9 173.4,130.0 173.6,129.2 173.9,128.3 174.1,127.5 174.3,126.6 174.5,125.8 174.7,124.9 175.0,124.1 175.2,123.2 175.4,122.4 175.6,121.5 175.8,120.6 176.1,119.7 176.3,118.8 176.5,117.9 176.7,117.0 177.0,116.1 177.2,115.2 177.4,114.4 177.6,113.6 177.8,112.8 178.1,112.1 178.3,111.5 178.5,110.9 178.7,110.3 178.9,109.9 179.2,109.5 179.4,109.1 179.6,108.7 179.8,108.3 180.1,108.0 180.3,107.7 180.5,107.3 180.7,107.0 180.9,106.8 181.2,106.5 181.4,106.2 181.6,106.0 181.8,105.8 182.1,105.5 182.3,105.3 182.5,105.1 182.7,105.0 182.9,104.8 183.2,104.6 183.4,104.5 183.6,104.3 183.8,104.2 184.0,104.0 184.3,103.9 184.5,103.7 184.7,103.6 184.9,103.4 185.2,103.3 185.4,103.2 185.6,103.1 185.8,103.0 186.0,102.9 186.3,102.8 186.5,102.7 186.7,102.7 186.9,102.7 187.1,102.6 187.4,102.6 187.6,102.7 187.8,102.8 188.0,102.9 188.3,103.0 188.5,103.2 188.7,103.4 188.9,103.7 189.1,103.9 189.4,104.2 189.6,104.5 189.8,104.9 190.0,105.3 190.3,105.6 190.5,106.0 190.7,106.4 190.9,106.9 191.1,107.3 191.4,107.7 191.6,108.2 191.8,108.6 192.0,109.1 192.2,109.5 192.5,109.9 192.7,110.4 192.9,110.8 193.1,111.2 193.4,111.6 193.6,112.0 193.8,112.4 194.0,112.8 194.2,113.1 194.5,113.4 194.7,113.7 194.9,114.0 195.1,114.2 195.3,114.4 195.6,114.6 195.8,114.8 196.0,114.9 196.2,115.0 196.5,115.0 196.7,114.9 196.9,114.8 197.1,114.6 197.3,114.2 197.6,113.8 197.8,113.3 198.0,112.7 198.2,112.0 198.5,111.3 198.7,110.5 198.9,109.7 199.1,108.8 199.3,107.9 199.6,107.0 199.8,106.1 200.0,105.2 200.2,104.2 200.4,103.3 200.7,102.4 200.9,101.5 201.1,100.6 201.3,99.7 201.6,98.9 201.8,98.2 202.0,97.5 202.2,96.8 202.4,96.3 202.7,95.8 202.9,95.4 203.1,95.1 203.3,94.9 203.5,94.8 203.8,94.8 204.0,94.9 204.2,95.1 204.4,95.4 204.7,95.8 204.9,96.2 205.1,96.7 205.3,97.3 205.5,97.9 205.8,98.5 206.0,99.2 206.2,99.9 206.4,100.6 206.7,101.4 206.9,102.1 207.1,102.8 207.3,103.5 207.5,104.3 207.8,104.9 208.0,105.6 208.2,106.2 208.4,106.8 208.6,107.3 208.9,108.0 209.1,108.7 209.3,109.4 209.5,110.1 209.8,110.8 210.0,111.5 210.2,112.3 210.4,113.0 210.6,113.7 210.9,114.4 211.1,115.1 211.3,115.7 211.5,116.2 211.7,116.8 212.0,117.2 212.2,117.6 212.4,117.9 212.6,118.2 212.9,118.3 213.1,118.3 213.3,118.3 213.5,118.3 213.7,118.2 214.0,118.1 214.2,118.0 214.4,117.9 214.6,117.7 214.9,117.6 215.1,117.4 215.3,117.2 215.5,117.0 215.7,116.7 216.0,116.5 216.2,116.2 216.4,116.0 216.6,115.7 216.8,115.4 217.1,115.2 217.3,114.9 217.5,114.6 217.7,114.3 218.0,114.1 218.2,113.8 218.4,113.5 218.6,113.2 218.8,113.0 219.1,112.7 219.3,112.5 219.5,112.3 219.7,112.0 219.9,111.8 220.2,111.7 220.4,111.5 220.6,111.3 220.8,111.1 221.1,111.0 221.3,110.8 221.5,110.7" fill="none" stroke="#a04cf2" stroke-width="0.9" stroke-linejoin="round" />
<path d="M164.1,196.6 164.3,194.7 164.5,192.8 164.8,190.9 165.0,189.1 165.2,187.3 165.4,185.5 165.7,183.6 165.9,181.8 166.1,179.9 166.3,178.0 166.5,176.1 166.8,174.3 167.0,172.4 167.2,170.5 167.4,168.7 167.6,166.8 167.9,165.0 168.1,163.2 168.3,161.4 168.5,159.6 168.8,157.9 169.0,156.2 169.2,154.6 169.4,153.0 169.6,151.5 169.9,150.0 170.1,148.6 170.3,147.2 170.5,145.9 170.7,144.7 171.0,143.5 171.2,142.3 171.4,141.2 171.6,140.1 171.9,139.1 172.1,138.0 172.3,137.0 172.5,136.1 172.7,135.1 173.0,134.1 173.2,133.2 173.4,132.3 173.6,131.4 173.9,130.5 174.1,129.7 174.3,128.8 174.5,128.0 174.7,127.1 175.0,126.3 175.2,125.4 175.4,124.6 175.6,123.7 175.8,122.9 176.1,122.0 176.3,121.1 176.5,120.2 176.7,119.3 177.0,118.4 177.2,117.5 177.4,116.6 177.6,115.7 177.8,114.9 178.1,114.0 178.3,113.3 178.5,112.5 178.7,111.8 178.9,111.2 179.2,110.6 179.4,110.1 179.6,109.7 179.8,109.3 180.1,108.9 180.3,108.6 180.5,108.2 180.7,107.9 180.9,107.6 181.2,107.3 181.4,107.0 181.6,106.8 181.8,106.5 182.1,106.3 182.3,106.0 182.5,105.8 182.7,105.6 182.9,105.3 183.2,105.1 183.4,104.9 183.6,104.7 183.8,104.5 184.0,104.2 184.3,104.0 184.5,103.8 184.7,103.5 184.9,103.3 185.2,103.1 185.4,102.8 185.6,102.6 185.8,102.4 186.0,102.2 186.3,102.1 186.5,101.9 186.7,101.8 186.9,101.7 187.1,101.6 187.4,101.5 187.6,101.5 187.8,101.5 188.0,101.6 188.3,101.6 188.5,101.7 188.7,101.9 188.9,102.0 189.1,102.2 189.4,102.4 189.6,102.7 189.8,102.9 190.0,103.2 190.3,103.5 190.5,103.8 190.7,104.1 190.9,104.5 191.1,104.8 191.4,105.2 191.6,105.5 191.8,105.9 192.0,106.3 192.2,106.6 192.5,107.0 192.7,107.4 192.9,107.8 193.1,108.1 193.4,108.5 193.6,108.8 193.8,109.1 194.0,109.5 194.2,109.8 194.5,110.1 194.7,110.3 194.9,110.6 195.1,110.8 195.3,111.0 195.6,111.2 195.8,111.3 196.0,111.5 196.2,111.5 196.5,111.6 196.7,111.6 196.9,111.6 197.1,111.4 197.3,111.1 197.6,110.8 197.8,110.3 198.0,109.7 198.2,109.1 198.5,108.4 198.7,107.7 198.9,106.9 199.1,106.0 199.3,105.1 199.6,104.2 199.8,103.2 200.0,102.2 200.2,101.3 200.4,100.3 200.7,99.3 200.9,98.3 201.1,97.4 201.3,96.5 201.6,95.6 201.8,94.7 202.0,94.0 202.2,93.2 202.4,92.5 202.7,92.0 202.9,91.4 203.1,91.0 203.3,90.7 203.5,90.4 203.8,90.3 204.0,90.3 204.2,90.4 204.4,90.5 204.7,90.8 204.9,91.1 205.1,91.4 205.3,91.8 205.5,92.3 205.8,92.8 206.0,93.3 206.2,93.8 206.4,94.4 206.7,95.0 206.9,95.6 207.1,96.2 207.3,96.9 207.5,97.5 207.8,98.1 208.0,98.7 208.2,99.2 208.4,99.7 208.6,100.2 208.9,100.7 209.1,101.2 209.3,101.8 209.5,102.3 209.8,102.9 210.0,103.5 210.2,104.1 210.4,104.8 210.6,105.4 210.9,106.0 211.1,106.6 211.3,107.1 211.5,107.7 211.7,108.2 212.0,108.7 212.2,109.1 212.4,109.5 212.6,109.8 212.9,110.1 213.1,110.3 213.3,110.4 213.5,110.5 213.7,110.5 214.0,110.4 214.2,110.3 214.4,110.2 214.6,110.1 214.9,109.9 215.1,109.7 215.3,109.4 215.5,109.2 215.7,108.9 216.0,108.6 216.2,108.3 216.4,108.0 216.6,107.7 216.8,107.3 217.1,107.0 217.3,106.6 217.5,106.3 217.7,105.9 218.0,105.6 218.2,105.2 218.4,104.9 218.6,104.6 218.8,104.2 219.1,103.9 219.3,103.6 219.5,103.4 219.7,103.1 219.9,102.9 220.2,102.7 220.4,102.5 220.6,102.3 220.8,102.1 221.1,102.0 221.3,101.8 221.5,101.7" fill="none" stroke="#8a52f2" stroke-width="0.9" stroke-linejoin="round" />
<path d="M164.1,203.2 164.3,201.2 164.5,199.3 164.8,197.4 165.0,195.5 165.2,193.6 165.4,191.7 165.7,189.9 165.9,188.0 166.1,186.2 166.3,184.4 166.5,182.5 166.8,180.7 167.0,178.8 167.2,176.9 167.4,175.0 167.6,173.2 167.9,171.3 168.1,169.4 168.3,167.6 168.5,165.7 168.8,163.9 169.0,162.1 169.2,160.4 169.4,158.6 169.6,156.9 169.9,155.3 170.1,153.7 170.3,152.1 170.5,150.6 170.7,149.1 171.0,147.8 171.2,146.4 171.4,145.2 171.6,144.0 171.9,142.8 172.1,141.7 172.3,140.6 172.5,139.5 172.7,138.5 173.0,137.4 173.2,136.5 173.4,135.5 173.6,134.5 173.9,133.6 174.1,132.7 174.3,131.8 174.5,130.9 174.7,130.0 175.0,129.2 175.2,128.3 175.4,127.5 175.6,126.6 175.8,125.8 176.1,124.9 176.3,124.1 176.5,123.2 176.7,122.4 177.0,121.5 177.2,120.6 177.4,119.7 177.6,118.8 177.8,117.9 178.1,117.0 178.3,116.1 178.5,115.2 178.7,114.4 178.9,113.6 179.2,112.8 179.4,112.1 179.6,111.5 179.8,110.9 180.1,110.3 180.3,109.9 180.5,109.5 180.7,109.1 180.9,108.8 181.2,108.4 181.4,108.1 181.6,107.8 181.8,107.6 182.1,107.3 182.3,107.0 182.5,106.8 182.7,106.5 182.9,106.3 183.2,106.1 183.4,105.8 183.6,105.6 183.8,105.3 184.0,105.0 184.3,104.7 184.5,104.4 184.7,104.1 184.9,103.7 185.2,103.4 185.4,103.0 185.6,102.6 185.8,102.2 186.0,101.8 186.3,101.5 186.5,101.1 186.7,100.8 186.9,100.4 187.1,100.2 187.4,99.9 187.6,99.7 187.8,99.5 188.0,99.4 188.3,99.3 188.5,99.3 188.7,99.3 188.9,99.3 189.1,99.4 189.4,99.4 189.6,99.5 189.8,99.6 190.0,99.8 190.3,99.9 190.5,100.0 190.7,100.2 190.9,100.3 191.1,100.5 191.4,100.7 191.6,100.9 191.8,101.1 192.0,101.3 192.2,101.5 192.5,101.7 192.7,101.9 192.9,102.1 193.1,102.3 193.4,102.6 193.6,102.8 193.8,103.0 194.0,103.2 194.2,103.4 194.5,103.6 194.7,103.7 194.9,103.9 195.1,104.1 195.3,104.2 195.6,104.4 195.8,104.5 196.0,104.6 196.2,104.7 196.5,104.8 196.7,104.8 196.9,104.9 197.1,104.9 197.3,104.9 197.6,104.7 197.8,104.4 198.0,104.0 198.2,103.4 198.5,102.7 198.7,102.0 198.9,101.1 199.1,100.1 199.3,99.1 199.6,98.0 199.8,96.8 200.0,95.6 200.2,94.3 200.4,93.1 200.7,91.8 200.9,90.5 201.1,89.2 201.3,87.9 201.6,86.6 201.8,85.4 202.0,84.2 202.2,83.1 202.4,82.0 202.7,81.0 202.9,80.1 203.1,79.2 203.3,78.5 203.5,77.9 203.8,77.4 204.0,77.1 204.2,76.9 204.4,76.8 204.7,76.9 204.9,77.0 205.1,77.3 205.3,77.6 205.5,77.9 205.8,78.3 206.0,78.8 206.2,79.3 206.4,79.9 206.7,80.5 206.9,81.1 207.1,81.7 207.3,82.4 207.5,83.1 207.8,83.7 208.0,84.4 208.2,85.1 208.4,85.7 208.6,86.4 208.9,87.0 209.1,87.5 209.3,88.0 209.5,88.6 209.8,89.1 210.0,89.7 210.2,90.4 210.4,91.0 210.6,91.7 210.9,92.4 211.1,93.0 211.3,93.7 211.5,94.4 211.7,95.0 212.0,95.6 212.2,96.2 212.4,96.8 212.6,97.3 212.9,97.8 213.1,98.2 213.3,98.5 213.5,98.8 213.7,99.1 214.0,99.2 214.2,99.3 214.4,99.3 214.6,99.2 214.9,99.1 215.1,99.0 215.3,98.8 215.5,98.7 215.7,98.4 216.0,98.2 216.2,98.0 216.4,97.7 216.6,97.4 216.8,97.1 217.1,96.8 217.3,96.4 217.5,96.1 217.7,95.8 218.0,95.4 218.2,95.1 218.4,94.8 218.6,94.5 218.8,94.1 219.1,93.8 219.3,93.5 219.5,93.3 219.7,93.0 219.9,92.8 220.2,92.6 220.4,92.4 220.6,92.2 220.8,92.1 221.1,91.9 221.3,91.7 221.5,91.6" fill="none" stroke="#6a5cf2" stroke-width="0.9" stroke-linejoin="round" />
<path d="M164.1,212.1 164.3,210.1 164.5,208.2 164.8,206.2 165.0,204.2 165.2,202.3 165.4,200.3 165.7,198.4 165.9,196.5 166.1,194.6 166.3,192.7 166.5,190.9 166.8,189.0 167.0,187.2 167.2,185.4 167.4,183.5 167.6,181.7 167.9,179.8 168.1,177.9 168.3,176.1 168.5,174.2 168.8,172.3 169.0,170.4 169.2,168.6 169.4,166.7 169.6,164.9 169.9,163.1 170.1,161.3 170.3,159.6 170.5,157.8 170.7,156.2 171.0,154.5 171.2,152.9 171.4,151.4 171.6,149.9 171.9,148.5 172.1,147.1 172.3,145.8 172.5,144.6 172.7,143.4 173.0,142.3 173.2,141.2 173.4,140.1 173.6,139.0 173.9,138.0 174.1,137.0 174.3,136.0 174.5,135.0 174.7,134.1 175.0,133.2 175.2,132.3 175.4,131.4 175.6,130.5 175.8,129.6 176.1,128.8 176.3,127.9 176.5,127.1 176.7,126.2 177.0,125.4 177.2,124.5 177.4,123.7 177.6,122.8 177.8,122.0 178.1,121.1 178.3,120.2 178.5,119.3 178.7,118.3 178.9,117.4 179.2,116.5 179.4,115.7 179.6,114.8 179.8,114.0 180.1,113.2 180.3,112.5 180.5,111.8 180.7,111.2 180.9,110.6 181.2,110.1 181.4,109.7 181.6,109.3 181.8,109.0 182.1,108.6 182.3,108.3 182.5,108.1 182.7,107.8 182.9,107.5 183.2,107.3 183.4,107.1 183.6,106.8 183.8,106.6 184.0,106.4 184.3,106.1 184.5,105.8 184.7,105.5 184.9,105.2 185.2,104.9 185.4,104.5 185.6,104.1 185.8,103.6 186.0,103.1 186.3,102.5 186.5,101.9 186.7,101.3 186.9,100.7 187.1,100.1 187.4,99.5 187.6,98.9 187.8,98.3 188.0,97.8 188.3,97.3 188.5,96.9 188.7,96.5 188.9,96.2 189.1,96.0 189.4,95.9 189.6,95.9 189.8,95.9 190.0,95.9 190.3,95.9 190.5,95.9 190.7,96.0 190.9,96.0 191.1,96.0 191.4,96.0 191.6,96.1 191.8,96.1 192.0,96.1 192.2,96.2 192.5,96.2 192.7,96.2 192.9,96.3 193.1,96.3 193.4,96.4 193.6,96.4 193.8,96.4 194.0,96.5 194.2,96.5 194.5,96.6 194.7,96.6 194.9,96.6 195.1,96.7 195.3,96.7 195.6,96.8 195.8,96.8 196.0,96.8 196.2,96.9 196.5,96.9 196.7,96.9 196.9,96.9 197.1,97.0 197.3,97.0 197.6,97.0 197.8,97.0 198.0,97.0 198.2,97.0 198.5,97.0 198.7,96.9 198.9,96.7 199.1,96.2 199.3,95.6 199.6,94.9 199.8,94.1 200.0,93.1 200.2,92.1 200.4,91.0 200.7,89.7 200.9,88.5 201.1,87.1 201.3,85.7 201.6,84.3 201.8,82.8 202.0,81.4 202.2,79.9 202.4,78.5 202.7,77.0 202.9,75.7 203.1,74.3 203.3,73.0 203.5,71.8 203.8,70.6 204.0,69.6 204.2,68.6 204.4,67.8 204.7,67.0 204.9,66.5 205.1,66.0 205.3,65.7 205.5,65.6 205.8,65.6 206.0,65.7 206.2,65.9 206.4,66.2 206.7,66.5 206.9,66.8 207.1,67.2 207.3,67.7 207.5,68.2 207.8,68.7 208.0,69.3 208.2,69.8 208.4,70.4 208.6,71.0 208.9,71.6 209.1,72.2 209.3,72.8 209.5,73.3 209.8,73.9 210.0,74.4 210.2,74.9 210.4,75.3 210.6,75.8 210.9,76.3 211.1,76.9 211.3,77.4 211.5,78.0 211.7,78.6 212.0,79.2 212.2,79.8 212.4,80.4 212.6,80.9 212.9,81.5 213.1,82.0 213.3,82.5 213.5,83.0 213.7,83.4 214.0,83.8 214.2,84.1 214.4,84.3 214.6,84.5 214.9,84.6 215.1,84.7 215.3,84.7 215.5,84.6 215.7,84.4 216.0,84.2 216.2,83.9 216.4,83.6 216.6,83.3 216.8,82.9 217.1,82.5 217.3,82.1 217.5,81.6 217.7,81.2 218.0,80.7 218.2,80.3 218.4,79.8 218.6,79.3 218.8,78.9 219.1,78.5 219.3,78.1 219.5,77.7 219.7,77.4 219.9,77.1 220.2,76.9 220.4,76.7 220.6,76.5 220.8,76.3 221.1,76.1 221.3,76.0 221.5,75.8" fill="none" stroke="#5070f2" stroke-width="0.9" stroke-linejoin="round" />
<path d="M164.1,222.0 164.3,220.0 164.5,218.0 164.8,216.0 165.0,214.1 165.2,212.1 165.4,210.1 165.7,208.1 165.9,206.2 166.1,204.2 166.3,202.3 166.5,200.3 166.8,198.4 167.0,196.5 167.2,194.6 167.4,192.7 167.6,190.8 167.9,189.0 168.1,187.2 168.3,185.4 168.5,183.5 168.8,181.7 169.0,179.8 169.2,177.9 169.4,176.0 169.6,174.2 169.9,172.3 170.1,170.4 170.3,168.5 170.5,166.7 170.7,164.9 171.0,163.1 171.2,161.3 171.4,159.5 171.6,157.8 171.9,156.1 172.1,154.5 172.3,152.9 172.5,151.4 172.7,149.9 173.0,148.5 173.2,147.1 173.4,145.8 173.6,144.6 173.9,143.4 174.1,142.3 174.3,141.2 174.5,140.1 174.7,139.0 175.0,138.0 175.2,137.0 175.4,136.0 175.6,135.0 175.8,134.1 176.1,133.2 176.3,132.3 176.5,131.4 176.7,130.5 177.0,129.6 177.2,128.8 177.4,127.9 177.6,127.1 177.8,126.2 178.1,125.4 178.3,124.5 178.5,123.7 178.7,122.8 178.9,122.0 179.2,121.1 179.4,120.2 179.6,119.3 179.8,118.3 180.1,117.4 180.3,116.5 180.5,115.7 180.7,114.8 180.9,114.0 181.2,113.2 181.4,112.5 181.6,111.8 181.8,111.2 182.1,110.6 182.3,110.1 182.5,109.7 182.7,109.3 182.9,109.0 183.2,108.7 183.4,108.4 183.6,108.1 183.8,107.9 184.0,107.6 184.3,107.4 184.5,107.2 184.7,107.0 184.9,106.7 185.2,106.5 185.4,106.2 185.6,105.9 185.8,105.6 186.0,105.3 186.3,104.9 186.5,104.5 186.7,103.9 186.9,103.3 187.1,102.6 187.4,101.9 187.6,101.1 187.8,100.2 188.0,99.4 188.3,98.5 188.5,97.7 188.7,96.8 188.9,96.0 189.1,95.2 189.4,94.4 189.6,93.7 189.8,93.1 190.0,92.5 190.3,92.1 190.5,91.7 190.7,91.5 190.9,91.4 191.1,91.2 191.4,91.1 191.6,91.1 191.8,91.0 192.0,90.9 192.2,90.8 192.5,90.8 192.7,90.7 192.9,90.6 193.1,90.6 193.4,90.5 193.6,90.5 193.8,90.5 194.0,90.4 194.2,90.4 194.5,90.4 194.7,90.3 194.9,90.3 195.1,90.3 195.3,90.2 195.6,90.2 195.8,90.2 196.0,90.1 196.2,90.1 196.5,90.1 196.7,90.0 196.9,90.0 197.1,89.9 197.3,89.9 197.6,89.8 197.8,89.8 198.0,89.7 198.2,89.6 198.5,89.5 198.7,89.4 198.9,89.3 199.1,89.2 199.3,89.1 199.6,88.8 199.8,88.3 200.0,87.7 200.2,86.9 200.4,86.0 200.7,84.9 200.9,83.8 201.1,82.5 201.3,81.2 201.6,79.8 201.8,78.3 202.0,76.8 202.2,75.2 202.4,73.6 202.7,72.0 202.9,70.4 203.1,68.8 203.3,67.2 203.5,65.6 203.8,64.1 204.0,62.6 204.2,61.2 204.4,59.9 204.7,58.6 204.9,57.5 205.1,56.4 205.3,55.5 205.5,54.8 205.8,54.1 206.0,53.7 206.2,53.4 206.4,53.3 206.7,53.3 206.9,53.4 207.1,53.6 207.3,53.8 207.5,54.1 207.8,54.4 208.0,54.8 208.2,55.2 208.4,55.7 208.6,56.2 208.9,56.7 209.1,57.2 209.3,57.7 209.5,58.3 209.8,58.8 210.0,59.4 210.2,59.9 210.4,60.5 210.6,61.0 210.9,61.4 211.1,61.9 211.3,62.3 211.5,62.8 211.7,63.2 212.0,63.7 212.2,64.3 212.4,64.8 212.6,65.3 212.9,65.9 213.1,66.4 213.3,67.0 213.5,67.5 213.7,68.0 214.0,68.5 214.2,69.0 214.4,69.4 214.6,69.9 214.9,70.2 215.1,70.5 215.3,70.8 215.5,71.0 215.7,71.1 216.0,71.2 216.2,71.2 216.4,71.1 216.6,70.8 216.8,70.4 217.1,69.9 217.3,69.4 217.5,68.8 217.7,68.1 218.0,67.4 218.2,66.6 218.4,65.9 218.6,65.1 218.8,64.4 219.1,63.7 219.3,63.0 219.5,62.4 219.7,61.9 219.9,61.5 220.2,61.2 220.4,60.9 220.6,60.7 220.8,60.5 221.1,60.3 221.3,60.2 221.5,60.0" fill="none" stroke="#3c90f4" stroke-width="0.9" stroke-linejoin="round" />
<path d="M164.1,234.4 164.3,232.4 164.5,230.5 164.8,228.6 165.0,226.6 165.2,224.7 165.4,222.7 165.7,220.7 165.9,218.8 166.1,216.8 166.3,214.8 166.5,212.8 166.8,210.9 167.0,208.9 167.2,206.9 167.4,205.0 167.6,203.0 167.9,201.1 168.1,199.1 168.3,197.2 168.5,195.3 168.8,193.4 169.0,191.5 169.2,189.7 169.4,187.8 169.6,186.0 169.9,184.2 170.1,182.4 170.3,180.5 170.5,178.6 170.7,176.7 171.0,174.9 171.2,173.0 171.4,171.1 171.6,169.2 171.9,167.4 172.1,165.6 172.3,163.7 172.5,161.9 172.7,160.2 173.0,158.5 173.2,156.8 173.4,155.1 173.6,153.5 173.9,152.0 174.1,150.5 174.3,149.0 174.5,147.6 174.7,146.3 175.0,145.1 175.2,143.9 175.4,142.7 175.6,141.6 175.8,140.5 176.1,139.4 176.3,138.4 176.5,137.4 176.7,136.4 177.0,135.4 177.2,134.4 177.4,133.5 177.6,132.6 177.8,131.7 178.1,130.8 178.3,130.0 178.5,129.1 178.7,128.2 178.9,127.4 179.2,126.5 179.4,125.7 179.6,124.8 179.8,124.0 180.1,123.1 180.3,122.3 180.5,121.4 180.7,120.5 180.9,119.6 181.2,118.7 181.4,117.8 181.6,116.9 181.8,116.0 182.1,115.1 182.3,114.3 182.5,113.5 182.7,112.7 182.9,112.0 183.2,111.4 183.4,110.8 183.6,110.3 183.8,109.8 184.0,109.5 184.3,109.1 184.5,108.8 184.7,108.5 184.9,108.2 185.2,108.0 185.4,107.7 185.6,107.5 185.8,107.3 186.0,107.1 186.3,106.8 186.5,106.6 186.7,106.3 186.9,106.1 187.1,105.8 187.4,105.4 187.6,105.1 187.8,104.6 188.0,104.1 188.3,103.5 188.5,102.8 188.7,102.0 188.9,101.2 189.1,100.3 189.4,99.3 189.6,98.3 189.8,97.2 190.0,96.1 190.3,95.0 190.5,93.8 190.7,92.6 190.9,91.5 191.1,90.3 191.4,89.1 191.6,88.0 191.8,86.9 192.0,85.8 192.2,84.7 192.5,83.7 192.7,82.8 192.9,81.9 193.1,81.1 193.4,80.4 193.6,79.7 193.8,79.1 194.0,78.7 194.2,78.3 194.5,78.1 194.7,77.9 194.9,77.9 195.1,77.8 195.3,77.8 195.6,77.7 195.8,77.7 196.0,77.6 196.2,77.6 196.5,77.6 196.7,77.5 196.9,77.5 197.1,77.5 197.3,77.5 197.6,77.4 197.8,77.4 198.0,77.4 198.2,77.4 198.5,77.3 198.7,77.3 198.9,77.3 199.1,77.3 199.3,77.2 199.6,77.2 199.8,77.2 200.0,77.1 200.2,77.1 200.4,77.1 200.7,77.0 200.9,77.0 201.1,76.9 201.3,76.8 201.6,76.7 201.8,76.4 202.0,75.9 202.2,75.4 202.4,74.7 202.7,74.0 202.9,73.1 203.1,72.1 203.3,71.1 203.5,70.0 203.8,68.8 204.0,67.6 204.2,66.3 204.4,64.9 204.7,63.6 204.9,62.2 205.1,60.7 205.3,59.3 205.5,57.9 205.8,56.4 206.0,55.0 206.2,53.6 206.4,52.2 206.7,50.8 206.9,49.5 207.1,48.3 207.3,47.1 207.5,45.9 207.8,44.8 208.0,43.9 208.2,43.0 208.4,42.2 208.6,41.5 208.9,40.9 209.1,40.4 209.3,40.1 209.5,39.9 209.8,39.8 210.0,39.9 210.2,40.0 210.4,40.2 210.6,40.5 210.9,40.8 211.1,41.2 211.3,41.6 211.5,42.1 211.7,42.6 212.0,43.1 212.2,43.6 212.4,44.1 212.6,44.5 212.9,45.0 213.1,45.5 213.3,45.9 213.5,46.3 213.7,46.7 214.0,47.1 214.2,47.6 214.4,48.1 214.6,48.6 214.9,49.1 215.1,49.6 215.3,50.1 215.5,50.5 215.7,50.9 216.0,51.3 216.2,51.6 216.4,51.9 216.6,52.0 216.8,52.1 217.1,52.1 217.3,52.0 217.5,51.8 217.7,51.5 218.0,51.1 218.2,50.7 218.4,50.2 218.6,49.7 218.8,49.2 219.1,48.6 219.3,48.1 219.5,47.7 219.7,47.2 219.9,46.9 220.2,46.6 220.4,46.4 220.6,46.2 220.8,46.0 221.1,45.8 221.3,45.6 221.5,45.5" fill="none" stroke="#2cb0f6" stroke-width="0.9" stroke-linejoin="round" />
<path d="M164.1,246.7 164.3,244.9 164.5,243.1 164.8,241.2 165.0,239.4 165.2,237.5 165.4,235.6 165.7,233.7 165.9,231.8 166.1,229.9 166.3,227.9 166.5,226.0 166.8,224.0 167.0,222.0 167.2,220.1 167.4,218.1 167.6,216.1 167.9,214.1 168.1,212.2 168.3,210.2 168.5,208.2 168.8,206.2 169.0,204.3 169.2,202.3 169.4,200.4 169.6,198.5 169.9,196.6 170.1,194.7 170.3,192.8 170.5,190.9 170.7,189.1 171.0,187.2 171.2,185.4 171.4,183.6 171.6,181.7 171.9,179.9 172.1,178.0 172.3,176.1 172.5,174.2 172.7,172.3 173.0,170.5 173.2,168.6 173.4,166.8 173.6,164.9 173.9,163.1 174.1,161.3 174.3,159.6 174.5,157.9 174.7,156.2 175.0,154.6 175.2,153.0 175.4,151.4 175.6,150.0 175.8,148.5 176.1,147.2 176.3,145.9 176.5,144.7 176.7,143.5 177.0,142.3 177.2,141.2 177.4,140.1 177.6,139.0 177.8,138.0 178.1,137.0 178.3,136.0 178.5,135.1 178.7,134.1 178.9,133.2 179.2,132.3 179.4,131.4 179.6,130.5 179.8,129.7 180.1,128.8 180.3,127.9 180.5,127.1 180.7,126.3 180.9,125.4 181.2,124.6 181.4,123.7 181.6,122.9 181.8,122.0 182.1,121.1 182.3,120.2 182.5,119.3 182.7,118.4 182.9,117.5 183.2,116.6 183.4,115.7 183.6,114.8 183.8,114.0 184.0,113.2 184.3,112.5 184.5,111.8 184.7,111.2 184.9,110.6 185.2,110.1 185.4,109.7 185.6,109.3 185.8,109.0 186.0,108.7 186.3,108.4 186.5,108.1 186.7,107.9 186.9,107.7 187.1,107.4 187.4,107.2 187.6,107.0 187.8,106.8 188.0,106.5 188.3,106.3 188.5,106.0 188.7,105.7 188.9,105.3 189.1,104.9 189.4,104.5 189.6,103.9 189.8,103.3 190.0,102.6 190.3,101.8 190.5,100.9 190.7,100.0 190.9,99.0 191.1,98.0 191.4,96.9 191.6,95.8 191.8,94.6 192.0,93.4 192.2,92.1 192.5,90.9 192.7,89.6 192.9,88.3 193.1,87.0 193.4,85.7 193.6,84.4 193.8,83.1 194.0,81.8 194.2,80.5 194.5,79.3 194.7,78.1 194.9,76.9 195.1,75.7 195.3,74.6 195.6,73.6 195.8,72.6 196.0,71.6 196.2,70.8 196.5,69.9 196.7,69.2 196.9,68.6 197.1,68.0 197.3,67.5 197.6,67.2 197.8,66.9 198.0,66.7 198.2,66.6 198.5,66.6 198.7,66.5 198.9,66.4 199.1,66.4 199.3,66.3 199.6,66.3 199.8,66.2 200.0,66.2 200.2,66.2 200.4,66.1 200.7,66.1 200.9,66.0 201.1,66.0 201.3,65.9 201.6,65.9 201.8,65.8 202.0,65.7 202.2,65.6 202.4,65.5 202.7,65.2 202.9,64.9 203.1,64.5 203.3,64.0 203.5,63.5 203.8,62.8 204.0,62.1 204.2,61.3 204.4,60.5 204.7,59.6 204.9,58.6 205.1,57.7 205.3,56.6 205.5,55.5 205.8,54.4 206.0,53.3 206.2,52.1 206.4,50.9 206.7,49.7 206.9,48.4 207.1,47.2 207.3,45.9 207.5,44.6 207.8,43.4 208.0,42.1 208.2,40.9 208.4,39.6 208.6,38.4 208.9,37.2 209.1,36.0 209.3,34.9 209.5,33.7 209.8,32.6 210.0,31.6 210.2,30.6 210.4,29.7 210.6,28.8 210.9,27.9 211.1,27.1 211.3,26.4 211.5,25.8 211.7,25.2 212.0,24.7 212.2,24.3 212.4,24.0 212.6,23.7 212.9,23.6 213.1,23.5 213.3,23.6 213.5,23.7 213.7,23.8 214.0,24.0 214.2,24.3 214.4,24.6 214.6,24.9 214.9,25.2 215.1,25.5 215.3,25.9 215.5,26.2 215.7,26.5 216.0,26.8 216.2,27.0 216.4,27.3 216.6,27.6 216.8,27.9 217.1,28.3 217.3,28.6 217.5,28.9 217.7,29.2 218.0,29.5 218.2,29.7 218.4,30.0 218.6,30.1 218.8,30.2 219.1,30.3 219.3,30.3 219.5,30.2 219.7,30.1 219.9,30.0 220.2,29.8 220.4,29.6 220.6,29.4 220.8,29.1 221.1,28.8 221.3,28.5 221.5,28.1" fill="none" stroke="#28ccf6" stroke-width="0.9" stroke-linejoin="round" />
</g>
<rect x="44.5" y="15.5" width="100" height="129" fill="none" stroke="#3a3a3a" stroke-width="1"/>
<line x1="44.5" y1="144.5" x2="47.5" y2="144.5" stroke="#3a3a3a" stroke-width="1" />
<line x1="144.5" y1="144.5" x2="141.5" y2="144.5" stroke="#3a3a3a" stroke-width="1" />
<line x1="44.5" y1="118.65" x2="47.5" y2="118.65" stroke="#3a3a3a" stroke-width="1" />
<line x1="144.5" y1="118.65" x2="141.5" y2="118.65" stroke="#3a3a3a" stroke-width="1" />
<line x1="44.5" y1="92.8" x2="47.5" y2="92.8" stroke="#3a3a3a" stroke-width="1" />
<line x1="144.5" y1="92.8" x2="141.5" y2="92.8" stroke="#3a3a3a" stroke-width="1" />
<line x1="44.5" y1="66.95" x2="47.5" y2="66.95" stroke="#3a3a3a" stroke-width="1" />
<line x1="144.5" y1="66.95" x2="141.5" y2="66.95" stroke="#3a3a3a" stroke-width="1" />
<line x1="44.5" y1="41.1" x2="47.5" y2="41.1" stroke="#3a3a3a" stroke-width="1" />
<line x1="144.5" y1="41.1" x2="141.5" y2="41.1" stroke="#3a3a3a" stroke-width="1" />
<line x1="44.5" y1="15.25" x2="47.5" y2="15.25" stroke="#3a3a3a" stroke-width="1" />
<line x1="144.5" y1="15.25" x2="141.5" y2="15.25" stroke="#3a3a3a" stroke-width="1" />
<line x1="44.5" y1="131.57" x2="46.5" y2="131.57" stroke="#3a3a3a" stroke-width="1" />
<line x1="144.5" y1="131.57" x2="142.5" y2="131.57" stroke="#3a3a3a" stroke-width="1" />
<line x1="44.5" y1="105.72" x2="46.5" y2="105.72" stroke="#3a3a3a" stroke-width="1" />
<line x1="144.5" y1="105.72" x2="142.5" y2="105.72" stroke="#3a3a3a" stroke-width="1" />
<line x1="44.5" y1="79.88" x2="46.5" y2="79.88" stroke="#3a3a3a" stroke-width="1" />
<line x1="144.5" y1="79.88" x2="142.5" y2="79.88" stroke="#3a3a3a" stroke-width="1" />
<line x1="44.5" y1="54.03" x2="46.5" y2="54.03" stroke="#3a3a3a" stroke-width="1" />
<line x1="144.5" y1="54.03" x2="142.5" y2="54.03" stroke="#3a3a3a" stroke-width="1" />
<line x1="44.5" y1="28.17" x2="46.5" y2="28.17" stroke="#3a3a3a" stroke-width="1" />
<line x1="144.5" y1="28.17" x2="142.5" y2="28.17" stroke="#3a3a3a" stroke-width="1" />
<line x1="77.83" y1="144.5" x2="77.83" y2="141.5" stroke="#3a3a3a" stroke-width="1" />
<line x1="77.83" y1="15.5" x2="77.83" y2="18.5" stroke="#3a3a3a" stroke-width="1" />
<line x1="111.17" y1="144.5" x2="111.17" y2="141.5" stroke="#3a3a3a" stroke-width="1" />
<line x1="111.17" y1="15.5" x2="111.17" y2="18.5" stroke="#3a3a3a" stroke-width="1" />
<line x1="61.17" y1="144.5" x2="61.17" y2="142.5" stroke="#3a3a3a" stroke-width="1" />
<line x1="61.17" y1="15.5" x2="61.17" y2="17.5" stroke="#3a3a3a" stroke-width="1" />
<line x1="94.5" y1="144.5" x2="94.5" y2="142.5" stroke="#3a3a3a" stroke-width="1" />
<line x1="94.5" y1="15.5" x2="94.5" y2="17.5" stroke="#3a3a3a" stroke-width="1" />
<line x1="127.83" y1="144.5" x2="127.83" y2="142.5" stroke="#3a3a3a" stroke-width="1" />
<line x1="127.83" y1="15.5" x2="127.83" y2="17.5" stroke="#3a3a3a" stroke-width="1" />
<text x="41.5" y="149.1" font-family="Liberation Sans" font-size="13.5" text-anchor="end" fill="#000" >0</text>
<text x="41.5" y="123.25" font-family="Liberation Sans" font-size="13.5" text-anchor="end" fill="#000" >10</text>
<text x="41.5" y="97.4" font-family="Liberation Sans" font-size="13.5" text-anchor="end" fill="#000" >20</text>
<text x="41.5" y="71.55" font-family="Liberation Sans" font-size="13.5" text-anchor="end" fill="#000" >30</text>
<text x="41.5" y="45.7" font-family="Liberation Sans" font-size="13.5" text-anchor="end" fill="#000" >40</text>
<text x="41.5" y="19.85" font-family="Liberation Sans" font-size="13.5" text-anchor="end" fill="#000" >50</text>
<text x="44.5" y="158" font-family="Liberation Sans" font-size="13.5" text-anchor="middle" fill="#000" >0</text>
<text x="77.83" y="158" font-family="Liberation Sans" font-size="13.5" text-anchor="middle" fill="#000" >3</text>
<text x="111.17" y="158" font-family="Liberation Sans" font-size="13.5" text-anchor="middle" fill="#000" >6</text>
<text x="144.5" y="158" font-family="Liberation Sans" font-size="13.5" text-anchor="middle" fill="#000" >9</text>
<text x="45.6" y="31.3" font-family="Liberation Sans" font-size="15.8" text-anchor="start" fill="#000" >S75</text>
<text x="9.3" y="16.7" font-family="Liberation Sans" font-size="19.5" text-anchor="start" font-weight="bold" fill="#000" >a</text>
<rect x="165.5" y="15.5" width="56" height="129" fill="none" stroke="#3a3a3a" stroke-width="1"/>
<line x1="165.5" y1="136.3" x2="168.5" y2="136.3" stroke="#3a3a3a" stroke-width="1" />
<line x1="221.5" y1="136.3" x2="218.5" y2="136.3" stroke="#3a3a3a" stroke-width="1" />
<line x1="165.5" y1="80.2" x2="168.5" y2="80.2" stroke="#3a3a3a" stroke-width="1" />
<line x1="221.5" y1="80.2" x2="218.5" y2="80.2" stroke="#3a3a3a" stroke-width="1" />
<line x1="165.5" y1="24.1" x2="168.5" y2="24.1" stroke="#3a3a3a" stroke-width="1" />
<line x1="221.5" y1="24.1" x2="218.5" y2="24.1" stroke="#3a3a3a" stroke-width="1" />
<line x1="165.5" y1="108.25" x2="167.5" y2="108.25" stroke="#3a3a3a" stroke-width="1" />
<line x1="221.5" y1="108.25" x2="219.5" y2="108.25" stroke="#3a3a3a" stroke-width="1" />
<line x1="165.5" y1="52.15" x2="167.5" y2="52.15" stroke="#3a3a3a" stroke-width="1" />
<line x1="221.5" y1="52.15" x2="219.5" y2="52.15" stroke="#3a3a3a" stroke-width="1" />
<line x1="193.5" y1="144.5" x2="193.5" y2="141.5" stroke="#3a3a3a" stroke-width="1" />
<line x1="193.5" y1="15.5" x2="193.5" y2="18.5" stroke="#3a3a3a" stroke-width="1" />
<line x1="173.93" y1="144.5" x2="173.93" y2="142.9" stroke="#3a3a3a" stroke-width="1" />
<line x1="173.93" y1="15.5" x2="173.93" y2="17.1" stroke="#3a3a3a" stroke-width="1" />
<line x1="178.86" y1="144.5" x2="178.86" y2="142.9" stroke="#3a3a3a" stroke-width="1" />
<line x1="178.86" y1="15.5" x2="178.86" y2="17.1" stroke="#3a3a3a" stroke-width="1" />
<line x1="182.36" y1="144.5" x2="182.36" y2="142.9" stroke="#3a3a3a" stroke-width="1" />
<line x1="182.36" y1="15.5" x2="182.36" y2="17.1" stroke="#3a3a3a" stroke-width="1" />
<line x1="185.07" y1="144.5" x2="185.07" y2="142.9" stroke="#3a3a3a" stroke-width="1" />
<line x1="185.07" y1="15.5" x2="185.07" y2="17.1" stroke="#3a3a3a" stroke-width="1" />
<line x1="187.29" y1="144.5" x2="187.29" y2="142.9" stroke="#3a3a3a" stroke-width="1" />
<line x1="187.29" y1="15.5" x2="187.29" y2="17.1" stroke="#3a3a3a" stroke-width="1" />
<line x1="189.16" y1="144.5" x2="189.16" y2="142.9" stroke="#3a3a3a" stroke-width="1" />
<line x1="189.16" y1="15.5" x2="189.16" y2="17.1" stroke="#3a3a3a" stroke-width="1" />
<line x1="190.79" y1="144.5" x2="190.79" y2="142.9" stroke="#3a3a3a" stroke-width="1" />
<line x1="190.79" y1="15.5" x2="190.79" y2="17.1" stroke="#3a3a3a" stroke-width="1" />
<line x1="192.22" y1="144.5" x2="192.22" y2="142.9" stroke="#3a3a3a" stroke-width="1" />
<line x1="192.22" y1="15.5" x2="192.22" y2="17.1" stroke="#3a3a3a" stroke-width="1" />
<line x1="201.93" y1="144.5" x2="201.93" y2="142.9" stroke="#3a3a3a" stroke-width="1" />
<line x1="201.93" y1="15.5" x2="201.93" y2="17.1" stroke="#3a3a3a" stroke-width="1" />
<line x1="206.86" y1="144.5" x2="206.86" y2="142.9" stroke="#3a3a3a" stroke-width="1" />
<line x1="206.86" y1="15.5" x2="206.86" y2="17.1" stroke="#3a3a3a" stroke-width="1" />
<line x1="210.36" y1="144.5" x2="210.36" y2="142.9" stroke="#3a3a3a" stroke-width="1" />
<line x1="210.36" y1="15.5" x2="210.36" y2="17.1" stroke="#3a3a3a" stroke-width="1" />
<line x1="213.07" y1="144.5" x2="213.07" y2="142.9" stroke="#3a3a3a" stroke-width="1" />
<line x1="213.07" y1="15.5" x2="213.07" y2="17.1" stroke="#3a3a3a" stroke-width="1" />
<line x1="215.29" y1="144.5" x2="215.29" y2="142.9" stroke="#3a3a3a" stroke-width="1" />
<line x1="215.29" y1="15.5" x2="215.29" y2="17.1" stroke="#3a3a3a" stroke-width="1" />
<line x1="217.16" y1="144.5" x2="217.16" y2="142.9" stroke="#3a3a3a" stroke-width="1" />
<line x1="217.16" y1="15.5" x2="217.16" y2="17.1" stroke="#3a3a3a" stroke-width="1" />
<line x1="218.79" y1="144.5" x2="218.79" y2="142.9" stroke="#3a3a3a" stroke-width="1" />
<line x1="218.79" y1="15.5" x2="218.79" y2="17.1" stroke="#3a3a3a" stroke-width="1" />
<line x1="220.22" y1="144.5" x2="220.22" y2="142.9" stroke="#3a3a3a" stroke-width="1" />
<line x1="220.22" y1="15.5" x2="220.22" y2="17.1" stroke="#3a3a3a" stroke-width="1" />
<text x="162.5" y="140.9" font-family="Liberation Sans" font-size="13.5" text-anchor="end" fill="#000" >35</text>
<text x="162.5" y="84.8" font-family="Liberation Sans" font-size="13.5" text-anchor="end" fill="#000" >40</text>
<text x="162.5" y="28.7" font-family="Liberation Sans" font-size="13.5" text-anchor="end" fill="#000" >45</text>
<text x="193.5" y="158" font-family="Liberation Sans" font-size="13.5" text-anchor="middle" fill="#000" >1</text>
<text x="221.5" y="158" font-family="Liberation Sans" font-size="13.5" text-anchor="middle" fill="#000" >10</text>
<text x="152.6" y="16" font-family="Liberation Sans" font-size="19.5" text-anchor="start" font-weight="bold" fill="#000" >b</text>
<text x="67.4" y="175.5" font-family="Liberation Sans" font-size="16.9">&#956;<tspan font-size="12.8" dy="5.1">0</tspan><tspan font-style="italic" dy="-5.1">H</tspan> (T)</text>
<text x="163.8" y="175.5" font-family="Liberation Sans" font-size="16.9">&#956;<tspan font-size="12.8" dy="5.1">0</tspan><tspan font-style="italic" dy="-5.1">H</tspan> (T)</text>
<text x="0" y="0" font-family="Liberation Sans" font-size="16.5" text-anchor="middle" transform="translate(17.6 71.3) rotate(-90)">&#961;<tspan font-size="11.9" dy="3.6">xx</tspan><tspan dy="-3.6"> (m&#937; cm)</tspan></text>
<line x1="109.9" y1="59.3" x2="127.6" y2="59.3" stroke="#d99cf8" stroke-width="1.2" />
<text x="129.5" y="62.3" font-family="Liberation Sans" font-size="8.5" text-anchor="start" fill="#000" >-5&#176;</text>
<line x1="109.9" y1="70.25" x2="127.6" y2="70.25" stroke="#c9a4f8" stroke-width="1.2" />
<text x="129.5" y="73.25" font-family="Liberation Sans" font-size="8.5" text-anchor="start" fill="#000" >5&#176;</text>
<line x1="109.9" y1="81.2" x2="127.6" y2="81.2" stroke="#bdb0f8" stroke-width="1.2" />
<text x="129.5" y="84.2" font-family="Liberation Sans" font-size="8.5" text-anchor="start" fill="#000" >10&#176;</text>
<line x1="109.9" y1="92.15" x2="127.6" y2="92.15" stroke="#a9b2f8" stroke-width="1.2" />
<text x="129.5" y="95.15" font-family="Liberation Sans" font-size="8.5" text-anchor="start" fill="#000" >20&#176;</text>
<line x1="109.9" y1="103.1" x2="127.6" y2="103.1" stroke="#a6c2f8" stroke-width="1.2" />
<text x="129.5" y="106.1" font-family="Liberation Sans" font-size="8.5" text-anchor="start" fill="#000" >30&#176;</text>
<line x1="109.9" y1="114.05" x2="127.6" y2="114.05" stroke="#a8d4f8" stroke-width="1.2" />
<text x="129.5" y="117.05" font-family="Liberation Sans" font-size="8.5" text-anchor="start" fill="#000" >40&#176;</text>
<line x1="109.9" y1="125" x2="127.6" y2="125" stroke="#a8e2f8" stroke-width="1.2" />
<text x="129.5" y="128" font-family="Liberation Sans" font-size="8.5" text-anchor="start" fill="#000" >50&#176;</text>
<line x1="109.9" y1="135.95" x2="127.6" y2="135.95" stroke="#a8ecfa" stroke-width="1.2" />
<text x="129.5" y="138.95" font-family="Liberation Sans" font-size="8.5" text-anchor="start" fill="#000" >60&#176;</text>
<path d="M54.9,135.5 L93.6,96.9 L107.7,97.3 L70,136 Z" fill="#8c8c8c" stroke="none" stroke-width="0"/>
<path d="M70,136 L107.7,97.3 L107.7,100.3 L70,138.9 Z" fill="#6c6c6c" stroke="none" stroke-width="0"/>
<path d="M54.9,135.5 L70,136 L70,138.9 L54.9,138.5 Z" fill="#7a7a7a" stroke="none" stroke-width="0"/>
<line x1="54.9" y1="135.5" x2="93.6" y2="96.9" stroke="#111" stroke-width="1.5" />
<line x1="68.1" y1="96.9" x2="94.2" y2="96.9" stroke="#444" stroke-width="1.6" />
<line x1="93.6" y1="97.5" x2="93.6" y2="75.3" stroke="#444" stroke-width="1.6" />
<line x1="93.6" y1="75.3" x2="66.1" y2="102.7" stroke="#555" stroke-width="0.8" stroke-dasharray="2.2,1.4"/>
<line x1="65.2" y1="104.7" x2="65.2" y2="120.3" stroke="#777" stroke-width="0.9" stroke-dasharray="2.2,1.4"/>
<path d="M87.2,97.2 Q91.5,94.5 93.2,90.3" fill="none" stroke="#1c3c8c" stroke-width="1.3"/>
<line x1="93" y1="96.6" x2="70.5" y2="104.4" stroke="#22b04a" stroke-width="1.6" />
<path d="M65.2,106.1 L71.6,101.9 L72.6,107.2 Z" fill="#22b04a" stroke="none" stroke-width="0"/>
<text x="54.2" y="114.6" font-family="Liberation Sans" font-size="15" text-anchor="start" font-style="italic" fill="#ff1a1a" >B</text>
<text x="82.2" y="94.2" font-family="Liberation Serif" font-size="18.5" text-anchor="start" font-style="italic" fill="#000" >&#966;</text>
<text x="46.2" y="140.2" font-family="Liberation Sans" font-size="14" text-anchor="start" font-weight="bold" fill="#000" >a</text>
<text x="90.6" y="74.6" font-family="Liberation Sans" font-size="13" text-anchor="start" font-weight="bold" fill="#000" >b</text>
<text x="59.6" y="96.6" font-family="Liberation Sans" font-size="14" text-anchor="start" font-weight="bold" fill="#000" >c</text>
<rect x="44.5" y="188.5" width="177" height="128" fill="none" stroke="#3a3a3a" stroke-width="1"/>
<line x1="44.5" y1="284.5" x2="47.5" y2="284.5" stroke="#3a3a3a" stroke-width="1" />
<line x1="221.5" y1="284.5" x2="218.5" y2="284.5" stroke="#3a3a3a" stroke-width="1" />
<line x1="44.5" y1="252.5" x2="47.5" y2="252.5" stroke="#3a3a3a" stroke-width="1" />
<line x1="221.5" y1="252.5" x2="218.5" y2="252.5" stroke="#3a3a3a" stroke-width="1" />
<line x1="44.5" y1="220.5" x2="47.5" y2="220.5" stroke="#3a3a3a" stroke-width="1" />
<line x1="221.5" y1="220.5" x2="218.5" y2="220.5" stroke="#3a3a3a" stroke-width="1" />
<line x1="44.5" y1="300.5" x2="46.5" y2="300.5" stroke="#3a3a3a" stroke-width="1" />
<line x1="221.5" y1="300.5" x2="219.5" y2="300.5" stroke="#3a3a3a" stroke-width="1" />
<line x1="44.5" y1="268.5" x2="46.5" y2="268.5" stroke="#3a3a3a" stroke-width="1" />
<line x1="221.5" y1="268.5" x2="219.5" y2="268.5" stroke="#3a3a3a" stroke-width="1" />
<line x1="44.5" y1="236.5" x2="46.5" y2="236.5" stroke="#3a3a3a" stroke-width="1" />
<line x1="221.5" y1="236.5" x2="219.5" y2="236.5" stroke="#3a3a3a" stroke-width="1" />
<line x1="44.5" y1="204.5" x2="46.5" y2="204.5" stroke="#3a3a3a" stroke-width="1" />
<line x1="221.5" y1="204.5" x2="219.5" y2="204.5" stroke="#3a3a3a" stroke-width="1" />
<line x1="103.5" y1="316.5" x2="103.5" y2="313.5" stroke="#3a3a3a" stroke-width="1" />
<line x1="103.5" y1="188.5" x2="103.5" y2="191.5" stroke="#3a3a3a" stroke-width="1" />
<line x1="162.5" y1="316.5" x2="162.5" y2="313.5" stroke="#3a3a3a" stroke-width="1" />
<line x1="162.5" y1="188.5" x2="162.5" y2="191.5" stroke="#3a3a3a" stroke-width="1" />
<line x1="74" y1="316.5" x2="74" y2="314.5" stroke="#3a3a3a" stroke-width="1" />
<line x1="74" y1="188.5" x2="74" y2="190.5" stroke="#3a3a3a" stroke-width="1" />
<line x1="133" y1="316.5" x2="133" y2="314.5" stroke="#3a3a3a" stroke-width="1" />
<line x1="133" y1="188.5" x2="133" y2="190.5" stroke="#3a3a3a" stroke-width="1" />
<line x1="192" y1="316.5" x2="192" y2="314.5" stroke="#3a3a3a" stroke-width="1" />
<line x1="192" y1="188.5" x2="192" y2="190.5" stroke="#3a3a3a" stroke-width="1" />
<text x="41.5" y="321.1" font-family="Liberation Sans" font-size="13.5" text-anchor="end" fill="#000" >40</text>
<text x="41.5" y="289.1" font-family="Liberation Sans" font-size="13.5" text-anchor="end" fill="#000" >60</text>
<text x="41.5" y="257.1" font-family="Liberation Sans" font-size="13.5" text-anchor="end" fill="#000" >80</text>
<text x="41.5" y="225.1" font-family="Liberation Sans" font-size="13.5" text-anchor="end" fill="#000" >100</text>
<text x="41.5" y="193.1" font-family="Liberation Sans" font-size="13.5" text-anchor="end" fill="#000" >120</text>
<text x="44.5" y="330" font-family="Liberation Sans" font-size="13.5" text-anchor="middle" fill="#000" >0</text>
<text x="103.5" y="330" font-family="Liberation Sans" font-size="13.5" text-anchor="middle" fill="#000" >6</text>
<text x="162.5" y="330" font-family="Liberation Sans" font-size="13.5" text-anchor="middle" fill="#000" >12</text>
<text x="221.5" y="330" font-family="Liberation Sans" font-size="13.5" text-anchor="middle" fill="#000" >18</text>
<text x="4.4" y="190.8" font-family="Liberation Sans" font-size="19.5" text-anchor="start" font-weight="bold" fill="#000" >c</text>
<text x="0" y="0" font-family="Liberation Sans" font-size="16.5" text-anchor="middle" transform="translate(17.6 249.6) rotate(-90)">&#961;<tspan font-size="11.9" dy="3.6">xx</tspan><tspan dy="-3.6"> (m&#937; cm)</tspan></text>
<text x="111.6" y="349" font-family="Liberation Sans" font-size="16.9">&#956;<tspan font-size="12.8" dy="5.1">0</tspan><tspan font-style="italic" dy="-5.1">H</tspan> (T)</text>
<g clip-path="url(#cc)">
<path d="M44.5,318.9 44.8,318.6 45.0,318.0 45.3,316.9 45.5,313.8 45.8,309.0 46.0,303.8 46.3,299.3 46.5,296.4 46.8,293.9 47.0,291.6 47.3,289.5 47.5,287.5 47.8,285.7 48.0,284.0 48.3,282.4 48.5,280.8 48.8,279.3 49.0,277.8 49.3,276.3 49.5,274.8 49.8,273.3 50.0,271.8 50.3,270.4 50.6,269.0 50.8,267.7 51.1,266.4 51.3,265.3 51.6,264.2 51.8,263.3 52.1,262.5 52.3,261.9 52.6,261.5 52.8,261.1 53.1,260.8 53.3,260.5 53.6,260.2 53.8,259.9 54.1,259.7 54.3,259.5 55.7,258.5 57.1,257.6 58.5,256.6 60.0,255.2 61.4,253.7 62.8,252.1 64.2,250.5 65.6,248.8 67.0,247.2 68.4,245.6 69.8,244.0 71.2,242.4 72.6,240.7 74.0,239.2 75.4,237.8 76.8,236.7 78.2,235.9 79.6,235.2 81.0,234.6 82.4,234.1 83.8,233.6 85.2,233.1 86.6,232.6 88.0,232.0 89.5,231.4 90.9,230.8 92.3,230.2 93.7,229.6 95.1,229.0 96.5,228.4 97.9,227.8 99.3,227.2 100.7,226.6 102.1,226.0 103.5,225.4 104.9,224.7 106.3,224.1 107.7,223.4 109.1,222.7 110.5,222.1 111.9,221.4 113.3,220.7 114.7,220.0 116.1,219.2 117.5,218.5 119.0,217.8 120.4,217.1 121.8,216.4 123.2,215.7 124.6,215.0 126.0,214.3 127.4,213.6 128.8,212.9 130.2,212.2 131.6,211.4 133.0,210.7 134.4,210.0 135.8,209.3 137.2,208.7 138.6,208.0 140.0,207.3 141.4,206.7 142.8,206.1 144.2,205.4 145.6,204.8 147.0,204.2 148.5,203.6 149.9,203.0 151.3,202.5 152.7,201.9 154.1,201.3 155.5,200.8 156.9,200.3 158.3,199.8 159.7,199.2 161.1,198.7 162.5,198.2 163.9,197.7 165.3,197.3 166.7,196.8 168.1,196.4 169.5,196.1 170.9,195.8 172.3,195.5 173.7,195.3 175.1,195.1 176.5,194.8 178.0,194.6 179.4,194.4 180.8,194.2 182.2,193.9 183.6,193.6 185.0,193.4 186.4,193.1 187.8,192.8 189.2,192.5 190.6,192.3 192.0,192.0 193.4,191.8 194.8,191.5 196.2,191.3 197.6,191.1 199.0,190.9 200.4,190.8 201.8,190.6 203.2,190.4 204.6,190.2 206.0,190.0 207.5,189.9 208.9,189.7 210.3,189.5 211.7,189.4 213.1,189.2 214.5,189.1 215.9,189.0 217.3,188.8 218.7,188.7 220.1,188.6 221.5,188.5" fill="none" stroke="#e040f0" stroke-width="1.1" stroke-linejoin="round" />
</g>
<line x1="79.2" y1="189" x2="79.2" y2="248" stroke="#2a2af5" stroke-width="1.5" stroke-dasharray="4,2"/>
<line x1="124.5" y1="189" x2="124.5" y2="248" stroke="#2a2af5" stroke-width="1.5" stroke-dasharray="4,2"/>
<line x1="169.7" y1="189" x2="169.7" y2="248" stroke="#2a2af5" stroke-width="1.5" stroke-dasharray="4,2"/>
<text x="46.8" y="203.3" font-family="Liberation Sans" font-size="15.8" text-anchor="start" fill="#000" >S74</text>
<text x="47.3" y="219" font-family="Liberation Sans" font-size="15"><tspan font-style="italic">B</tspan>//<tspan font-weight="bold">b</tspan></text>
<text x="47.3" y="234.8" font-family="Liberation Sans" font-size="15"><tspan font-style="italic">i</tspan>//<tspan font-weight="bold">a</tspan></text>
<line x1="101.7" y1="250.5" x2="101.7" y2="305" stroke="#444" stroke-width="1" />
<line x1="101.7" y1="305" x2="221.5" y2="305" stroke="#999" stroke-width="1.4" />
<line x1="101.7" y1="259.9" x2="103.7" y2="259.9" stroke="#444" stroke-width="0.8" />
<line x1="221.5" y1="259.9" x2="219.5" y2="259.9" stroke="#444" stroke-width="0.8" />
<line x1="101.7" y1="277.4" x2="103.7" y2="277.4" stroke="#444" stroke-width="0.8" />
<line x1="221.5" y1="277.4" x2="219.5" y2="277.4" stroke="#444" stroke-width="0.8" />
<line x1="101.7" y1="294.9" x2="103.7" y2="294.9" stroke="#444" stroke-width="0.8" />
<line x1="221.5" y1="294.9" x2="219.5" y2="294.9" stroke="#444" stroke-width="0.8" />
<line x1="101.7" y1="268.65" x2="102.9" y2="268.65" stroke="#444" stroke-width="0.7" />
<line x1="101.7" y1="286.15" x2="102.9" y2="286.15" stroke="#444" stroke-width="0.7" />
<line x1="121.67" y1="305" x2="121.67" y2="303.3" stroke="#444" stroke-width="0.8" />
<line x1="141.63" y1="305" x2="141.63" y2="302.6" stroke="#444" stroke-width="0.8" />
<line x1="161.6" y1="305" x2="161.6" y2="303.3" stroke="#444" stroke-width="0.8" />
<line x1="181.57" y1="305" x2="181.57" y2="302.6" stroke="#444" stroke-width="0.8" />
<line x1="201.53" y1="305" x2="201.53" y2="303.3" stroke="#444" stroke-width="0.8" />
<text x="97.4" y="263.6" font-family="Liberation Sans" font-size="10.5" text-anchor="end" fill="#000" >0.1</text>
<text x="97.4" y="281.1" font-family="Liberation Sans" font-size="10.5" text-anchor="end" fill="#000" >0.0</text>
<text x="97.4" y="298.6" font-family="Liberation Sans" font-size="10.5" text-anchor="end" fill="#000" >-0.1</text>
<text x="101.7" y="315.4" font-family="Liberation Sans" font-size="10.5" text-anchor="middle" fill="#000" >0</text>
<text x="141.63" y="315.4" font-family="Liberation Sans" font-size="10.5" text-anchor="middle" fill="#000" >6</text>
<text x="181.57" y="315.4" font-family="Liberation Sans" font-size="10.5" text-anchor="middle" fill="#000" >12</text>
<text x="145.5" y="300" font-family="Liberation Sans" font-size="10">&#956;<tspan font-size="7.2" dy="2.6">0</tspan><tspan font-style="italic" dy="-2.6">H</tspan> (T)</text>
<text x="0" y="0" font-family="Liberation Sans" font-size="10" text-anchor="middle" transform="translate(77.4 281.3) rotate(-90)">&#916;&#963;<tspan font-size="7.5" dy="2.3">xx</tspan><tspan dy="-2.3"> (&#937;</tspan><tspan font-size="7.5" dy="-3.4">-1</tspan><tspan dy="3.4">cm</tspan><tspan font-size="7.5" dy="-3.4">-1</tspan><tspan dy="3.4">)</tspan></text>
<text x="156.3" y="266" font-family="Liberation Sans" font-size="15"><tspan font-style="italic">T</tspan> = 0.2 K</text>
<path d="M101.9,251.1 102.6,262.0 102.9,285.0 103.3,300.0 103.8,280.0 104.5,252.3 105.4,269.5 106.3,288.0 107.2,298.2 107.8,291.8 108.5,286.7 109.1,278.7 109.7,271.4 110.3,268.9 110.9,269.0 111.5,267.9 112.1,266.3 112.7,264.1 113.3,266.1 114.0,267.2 114.6,269.3 115.2,273.6 115.8,276.3 116.4,279.6 117.0,281.1 117.5,281.2 118.0,281.4 118.5,281.0 119.0,283.3 119.5,282.1 120.0,282.4 120.5,283.6 121.0,285.3 121.5,284.7 122.0,284.2 122.5,284.9 123.0,284.6 123.5,282.8 124.0,281.2 124.5,280.3 125.0,279.9 125.6,280.6 126.2,278.0 126.8,278.3 127.4,278.0 127.9,276.6 128.4,277.5 128.9,277.2 129.5,278.6 130.0,277.5 130.5,276.2 131.0,277.5 131.6,276.4 132.1,275.0 132.7,275.5 133.2,275.1 133.7,274.5 134.3,274.8 134.8,272.7 135.3,274.0 135.9,274.7 136.4,274.3 136.9,274.3 137.4,274.1 137.9,274.1 138.5,271.9 139.0,273.1 139.5,271.0 140.1,271.9 140.6,270.9 141.1,273.0 141.7,273.2 142.2,271.9 142.7,273.3 143.2,271.4 143.8,272.0 144.3,271.9 144.8,271.2 145.4,272.5 145.9,273.9 146.4,271.8 147.0,273.5 147.5,272.9 148.1,274.7 148.6,274.1 149.2,274.6 149.7,275.0 150.3,275.1 150.8,274.6 151.4,277.4 151.9,276.1 152.4,278.0 152.9,279.0 153.5,278.6 154.0,280.1 154.5,281.5 155.0,281.2 155.5,281.1 156.0,280.2 156.5,282.2 157.0,283.1 157.5,283.7 158.0,282.8 158.5,283.2 159.0,281.9 159.5,281.6 160.0,281.6 160.5,279.9 161.0,279.7 161.5,281.1 162.1,279.6 162.6,277.4 163.1,277.8 163.6,277.7 164.2,278.0 164.7,277.0 165.3,276.3 165.9,275.9 166.4,276.7 167.0,276.2 167.5,275.6 168.1,275.7 168.6,275.5 169.2,276.3 169.7,275.2 170.3,276.0 170.8,276.2 171.3,276.1 171.9,275.3 172.4,277.1 172.9,275.7 173.5,276.7 174.0,275.9 174.5,275.4 175.0,277.2 175.5,277.5 176.0,277.4 176.5,278.0 177.0,277.5 177.5,277.7 178.0,278.4 178.5,280.2 179.0,279.6 179.5,278.9 180.0,279.9 180.5,279.4 181.0,279.7 181.5,280.9 182.0,280.1 182.5,279.6 183.0,280.4 183.5,281.5 184.0,281.8 184.5,283.0 185.0,281.8 185.5,283.2 186.0,283.3 186.5,283.1 187.0,284.0 187.5,284.0 188.0,283.2 188.5,284.8 189.0,283.3 189.5,284.4 190.0,284.6 190.5,284.6 191.0,283.5 191.5,283.7 192.0,283.3 192.5,283.8 193.0,282.2 193.5,282.6 194.0,281.9 194.6,280.7 195.1,283.3 195.7,280.8 196.2,279.4 196.8,281.2 197.3,278.9 197.8,279.5 198.4,279.4 198.9,277.8 199.4,277.5 199.9,277.0 200.5,276.9 201.0,275.3 201.5,275.2 202.0,275.6 202.5,276.1 203.0,275.4 203.5,275.8 204.0,274.6 204.5,273.3 205.0,273.3 205.5,271.6 206.0,272.1 206.5,271.8 207.0,272.5 207.5,272.5 208.0,271.5 208.5,271.3 209.0,270.5 209.5,271.4 210.0,271.6 210.5,271.6 211.0,271.0 211.5,273.4 212.0,273.0 212.5,272.4 213.0,272.3 213.5,272.8 214.0,273.8 214.5,274.4 215.1,275.5 215.6,276.4 216.1,277.6 216.6,278.2 217.2,278.1 217.8,279.4 218.4,279.8 219.0,280.6 219.6,283.4 220.2,282.7 220.7,285.5 221.3,285.0" fill="none" stroke="#1f8a1f" stroke-width="1.3" stroke-linejoin="round" />
<rect x="278" y="15" width="393.5" height="129.5" fill="none" stroke="#3a3a3a" stroke-width="1"/>
<line x1="278.5" y1="127.2" x2="281.5" y2="127.2" stroke="#3a3a3a" stroke-width="1" />
<line x1="671.5" y1="127.2" x2="668.5" y2="127.2" stroke="#3a3a3a" stroke-width="1" />
<line x1="278.5" y1="92.54" x2="281.5" y2="92.54" stroke="#3a3a3a" stroke-width="1" />
<line x1="671.5" y1="92.54" x2="668.5" y2="92.54" stroke="#3a3a3a" stroke-width="1" />
<line x1="278.5" y1="57.88" x2="281.5" y2="57.88" stroke="#3a3a3a" stroke-width="1" />
<line x1="671.5" y1="57.88" x2="668.5" y2="57.88" stroke="#3a3a3a" stroke-width="1" />
<line x1="278.5" y1="23.22" x2="281.5" y2="23.22" stroke="#3a3a3a" stroke-width="1" />
<line x1="671.5" y1="23.22" x2="668.5" y2="23.22" stroke="#3a3a3a" stroke-width="1" />
<line x1="278.5" y1="144.53" x2="280.5" y2="144.53" stroke="#3a3a3a" stroke-width="1" />
<line x1="671.5" y1="144.53" x2="669.5" y2="144.53" stroke="#3a3a3a" stroke-width="1" />
<line x1="278.5" y1="109.87" x2="280.5" y2="109.87" stroke="#3a3a3a" stroke-width="1" />
<line x1="671.5" y1="109.87" x2="669.5" y2="109.87" stroke="#3a3a3a" stroke-width="1" />
<line x1="278.5" y1="75.21" x2="280.5" y2="75.21" stroke="#3a3a3a" stroke-width="1" />
<line x1="671.5" y1="75.21" x2="669.5" y2="75.21" stroke="#3a3a3a" stroke-width="1" />
<line x1="278.5" y1="40.55" x2="280.5" y2="40.55" stroke="#3a3a3a" stroke-width="1" />
<line x1="671.5" y1="40.55" x2="669.5" y2="40.55" stroke="#3a3a3a" stroke-width="1" />
<line x1="409.51" y1="144.5" x2="409.51" y2="141.5" stroke="#3a3a3a" stroke-width="1" />
<line x1="409.51" y1="14.5" x2="409.51" y2="17.5" stroke="#3a3a3a" stroke-width="1" />
<line x1="540.52" y1="144.5" x2="540.52" y2="141.5" stroke="#3a3a3a" stroke-width="1" />
<line x1="540.52" y1="14.5" x2="540.52" y2="17.5" stroke="#3a3a3a" stroke-width="1" />
<line x1="344" y1="144.5" x2="344" y2="142.5" stroke="#3a3a3a" stroke-width="1" />
<line x1="344" y1="14.5" x2="344" y2="16.5" stroke="#3a3a3a" stroke-width="1" />
<line x1="475.01" y1="144.5" x2="475.01" y2="142.5" stroke="#3a3a3a" stroke-width="1" />
<line x1="475.01" y1="14.5" x2="475.01" y2="16.5" stroke="#3a3a3a" stroke-width="1" />
<line x1="606.03" y1="144.5" x2="606.03" y2="142.5" stroke="#3a3a3a" stroke-width="1" />
<line x1="606.03" y1="14.5" x2="606.03" y2="16.5" stroke="#3a3a3a" stroke-width="1" />
<text x="274.5" y="131.8" font-family="Liberation Sans" font-size="13.5" text-anchor="end" fill="#000" >0</text>
<text x="274.5" y="97.14" font-family="Liberation Sans" font-size="13.5" text-anchor="end" fill="#000" >2</text>
<text x="274.5" y="62.48" font-family="Liberation Sans" font-size="13.5" text-anchor="end" fill="#000" >4</text>
<text x="274.5" y="27.82" font-family="Liberation Sans" font-size="13.5" text-anchor="end" fill="#000" >6</text>
<text x="278.5" y="158" font-family="Liberation Sans" font-size="13.5" text-anchor="middle" fill="#000" >0</text>
<text x="409.51" y="158" font-family="Liberation Sans" font-size="13.5" text-anchor="middle" fill="#000" >3</text>
<text x="540.52" y="158" font-family="Liberation Sans" font-size="13.5" text-anchor="middle" fill="#000" >6</text>
<text x="671.53" y="158" font-family="Liberation Sans" font-size="13.5" text-anchor="middle" fill="#000" >9</text>
<text x="246.2" y="16.3" font-family="Liberation Sans" font-size="19.5" text-anchor="start" font-weight="bold" fill="#000" >g</text>
<text x="0" y="0" font-family="Liberation Sans" font-size="16" text-anchor="middle" transform="translate(256.5 82.5) rotate(-90)">&#916;&#961;<tspan font-size="11.5" dy="3.5">xx</tspan><tspan dy="-3.5"> (m&#937; cm)</tspan></text>
<text x="446.4" y="175.5" font-family="Liberation Sans" font-size="16.9">&#956;<tspan font-size="12.8" dy="5.1">0</tspan><tspan font-style="italic" dy="-5.1">H</tspan> (T)</text>
<text x="278.6" y="29.8" font-family="Liberation Sans" font-size="15.8" text-anchor="start" fill="#000" >S75</text>
<g clip-path="url(#cg)">
<path d="M278.5,127.2 279.0,126.8 279.6,126.5 280.1,126.4 280.7,126.3 281.2,126.3 281.7,126.7 282.3,127.4 282.8,128.2 283.4,128.9 283.9,129.4 284.5,129.4 285.0,129.2 285.5,128.9 286.1,128.4 286.6,127.9 287.2,127.3 287.7,126.7 288.2,126.0 288.8,125.5 289.3,125.0 289.9,124.7 290.4,124.5 291.0,124.5 291.5,124.7 292.0,125.3 292.6,126.1 293.1,127.0 293.7,127.9 294.2,128.9 294.7,129.8 295.3,130.7 295.8,131.3 296.4,131.8 296.9,131.9 297.4,131.8 298.0,131.5 298.5,131.2 299.1,130.7 299.6,130.1 300.2,129.4 300.7,128.6 301.2,127.8 301.8,127.0 302.3,126.1 302.9,125.2 303.4,124.3 303.9,123.4 304.5,122.6 305.0,121.8 305.6,121.1 306.1,120.4 306.7,119.9 307.2,119.4 307.7,119.1 308.3,118.9 308.8,118.9 309.4,118.9 309.9,119.0 310.4,119.2 311.0,119.3 311.5,119.6 312.1,119.8 312.6,120.2 313.1,120.5 313.7,120.9 314.2,121.3 314.8,121.7 315.3,122.2 315.9,122.7 316.4,123.3 316.9,123.8 317.5,124.4 318.0,125.0 318.6,125.6 319.1,126.2 319.6,126.8 320.2,127.5 320.7,128.1 321.3,128.8 321.8,129.4 322.4,130.1 322.9,130.8 323.4,131.4 324.0,132.1 324.5,132.7 325.1,133.4 325.6,134.0 326.1,134.6 326.7,135.2 327.2,135.8 327.8,136.4 328.3,137.0 328.8,137.5 329.4,138.0 329.9,138.5 330.5,138.9 331.0,139.4 331.6,139.7 332.1,140.1 332.6,140.4 333.2,140.7 333.7,140.9 334.3,141.1 334.8,141.3 335.3,141.4 335.9,141.4 336.4,141.4 337.0,141.4 337.5,141.4 338.1,141.3 338.6,141.2 339.1,141.1 339.7,141.0 340.2,140.9 340.8,140.8 341.3,140.6 341.8,140.4 342.4,140.2 342.9,140.0 343.5,139.8 344.0,139.6 346.8,138.2 349.7,136.5 352.5,134.5 355.3,132.3 358.1,129.9 361.0,127.4 363.8,124.9 366.6,122.3 369.4,119.8 372.3,117.4 375.1,115.2 377.9,113.1 380.7,111.4 383.6,109.9 386.4,108.8 389.2,108.0 392.0,107.8 394.9,108.0 397.7,108.6 400.5,109.5 403.3,110.6 406.2,111.9 409.0,113.2 411.8,114.6 414.6,116.0 417.5,117.2 420.3,118.3 423.1,119.3 426.0,120.3 428.8,121.3 431.6,122.3 434.4,123.4 437.3,124.4 440.1,125.5 442.9,126.5 445.7,127.5 448.6,128.5 451.4,129.5 454.2,130.4 457.0,131.3 459.9,132.1 462.7,132.9 465.5,133.7 468.3,134.4 471.2,135.0 474.0,135.5 476.8,136.0 479.6,136.4 482.5,136.7 485.3,137.1 488.1,137.4 490.9,137.8 493.8,138.1 496.6,138.3 499.4,138.6 502.2,138.8 505.1,138.9 507.9,139.0 510.7,139.0 513.5,138.9 516.4,138.8 519.2,138.7 522.0,138.5 524.9,138.3 527.7,138.1 530.5,137.8 533.3,137.5 536.2,137.2 539.0,136.8 541.8,136.5 544.6,136.2 547.5,135.8 550.3,135.5 553.1,135.1 555.9,134.7 558.8,134.3 561.6,133.8 564.4,133.3 567.2,132.8 570.1,132.2 572.9,131.6 575.7,131.0 578.5,130.4 581.4,129.8 584.2,129.1 587.0,128.5 589.8,127.9 592.7,127.3 595.5,126.7 598.3,126.1 601.1,125.5 604.0,125.0 606.8,124.4 609.6,124.0 612.4,123.5 615.3,123.1 618.1,122.7 620.9,122.2 623.7,121.8 626.6,121.4 629.4,121.0 632.2,120.6 635.1,120.2 637.9,119.9 640.7,119.5 643.5,119.1 646.4,118.8 649.2,118.4 652.0,118.1 654.8,117.7 657.7,117.4 660.5,117.1 663.3,116.8 666.1,116.4 669.0,116.2 671.8,115.9 674.6,115.6 677.4,115.3 680.3,115.1" fill="none" stroke="#4848f2" stroke-width="0.9" stroke-linejoin="round" />
<path d="M278.5,117.1 279.0,116.8 279.6,116.6 280.1,116.5 280.7,116.5 281.2,116.5 281.7,116.9 282.3,117.7 282.8,118.6 283.4,119.2 283.9,119.4 284.5,119.2 285.0,118.8 285.5,118.3 286.1,117.6 286.6,116.9 287.2,116.1 287.7,115.3 288.2,114.6 288.8,113.9 289.3,113.3 289.9,112.9 290.4,112.7 291.0,112.7 291.5,112.9 292.0,113.4 292.6,114.1 293.1,114.8 293.7,115.7 294.2,116.6 294.7,117.5 295.3,118.3 295.8,119.0 296.4,119.5 296.9,119.9 297.4,119.9 298.0,119.8 298.5,119.5 299.1,119.1 299.6,118.7 300.2,118.1 300.7,117.4 301.2,116.7 301.8,115.9 302.3,115.2 302.9,114.4 303.4,113.6 303.9,112.8 304.5,112.1 305.0,111.4 305.6,110.7 306.1,110.2 306.7,109.8 307.2,109.4 307.7,109.2 308.3,109.2 308.8,109.2 309.4,109.3 309.9,109.4 310.4,109.6 311.0,109.8 311.5,110.0 312.1,110.3 312.6,110.6 313.1,110.9 313.7,111.3 314.2,111.7 314.8,112.1 315.3,112.6 315.9,113.1 316.4,113.6 316.9,114.1 317.5,114.7 318.0,115.2 318.6,115.8 319.1,116.4 319.6,117.0 320.2,117.6 320.7,118.2 321.3,118.9 321.8,119.5 322.4,120.1 322.9,120.8 323.4,121.4 324.0,122.1 324.5,122.7 325.1,123.3 325.6,123.9 326.1,124.6 326.7,125.2 327.2,125.7 327.8,126.3 328.3,126.9 328.8,127.4 329.4,127.9 329.9,128.4 330.5,128.9 331.0,129.4 331.6,129.8 332.1,130.2 332.6,130.6 333.2,130.9 333.7,131.2 334.3,131.5 334.8,131.7 335.3,131.9 335.9,132.0 336.4,132.1 337.0,132.2 337.5,132.2 338.1,132.2 338.6,132.2 339.1,132.1 339.7,132.1 340.2,132.0 340.8,131.9 341.3,131.8 341.8,131.6 342.4,131.5 342.9,131.3 343.5,131.1 344.0,130.9 346.8,129.7 349.7,128.1 352.5,126.2 355.3,124.0 358.1,121.7 361.0,119.2 363.8,116.7 366.6,114.1 369.4,111.6 372.3,109.1 375.1,106.8 377.9,104.7 380.7,102.8 383.6,101.2 386.4,99.9 389.2,99.0 392.0,98.6 394.9,98.7 397.7,99.2 400.5,99.9 403.3,100.9 406.2,102.1 409.0,103.4 411.8,104.7 414.6,106.0 417.5,107.2 420.3,108.2 423.1,109.2 426.0,110.2 428.8,111.3 431.6,112.4 434.4,113.5 437.3,114.6 440.1,115.7 442.9,116.8 445.7,117.8 448.6,118.9 451.4,119.9 454.2,120.9 457.0,121.9 459.9,122.7 462.7,123.6 465.5,124.3 468.3,124.9 471.2,125.5 474.0,126.0 476.8,126.3 479.6,126.6 482.5,126.8 485.3,127.0 488.1,127.2 490.9,127.4 493.8,127.5 496.6,127.7 499.4,127.7 502.2,127.7 505.1,127.7 507.9,127.6 510.7,127.5 513.5,127.3 516.4,127.1 519.2,126.9 522.0,126.7 524.9,126.4 527.7,126.1 530.5,125.8 533.3,125.5 536.2,125.2 539.0,124.9 541.8,124.5 544.6,124.2 547.5,123.9 550.3,123.5 553.1,123.2 555.9,122.8 558.8,122.3 561.6,121.9 564.4,121.4 567.2,120.8 570.1,120.2 572.9,119.7 575.7,119.1 578.5,118.4 581.4,117.8 584.2,117.2 587.0,116.6 589.8,116.0 592.7,115.4 595.5,114.9 598.3,114.4 601.1,113.9 604.0,113.4 606.8,113.0 609.6,112.6 612.4,112.3 615.3,112.0 618.1,111.7 620.9,111.4 623.7,111.1 626.6,110.8 629.4,110.5 632.2,110.2 635.1,109.9 637.9,109.7 640.7,109.4 643.5,109.2 646.4,108.9 649.2,108.7 652.0,108.5 654.8,108.3 657.7,108.1 660.5,107.9 663.3,107.8 666.1,107.6 669.0,107.5 671.8,107.4 674.6,107.3 677.4,107.2 680.3,107.1" fill="none" stroke="#6448f2" stroke-width="0.9" stroke-linejoin="round" />
<path d="M278.5,100.3 279.0,99.9 279.6,99.7 280.1,99.5 280.7,99.5 281.2,99.5 281.7,99.8 282.3,100.5 282.8,101.3 283.4,102.1 283.9,102.5 284.5,102.6 285.0,102.4 285.5,102.0 286.1,101.5 286.6,100.9 287.2,100.3 287.7,99.5 288.2,98.8 288.8,98.1 289.3,97.5 289.9,96.9 290.4,96.5 291.0,96.1 291.5,96.0 292.0,96.1 292.6,96.4 293.1,96.9 293.7,97.6 294.2,98.4 294.7,99.3 295.3,100.2 295.8,101.1 296.4,101.9 296.9,102.7 297.4,103.2 298.0,103.6 298.5,103.8 299.1,103.8 299.6,103.6 300.2,103.4 300.7,103.0 301.2,102.6 301.8,102.2 302.3,101.6 302.9,101.1 303.4,100.5 303.9,99.8 304.5,99.2 305.0,98.6 305.6,98.0 306.1,97.4 306.7,96.8 307.2,96.3 307.7,95.8 308.3,95.4 308.8,95.1 309.4,94.8 309.9,94.7 310.4,94.6 311.0,94.6 311.5,94.7 312.1,94.8 312.6,94.9 313.1,95.1 313.7,95.3 314.2,95.5 314.8,95.8 315.3,96.1 315.9,96.4 316.4,96.7 316.9,97.1 317.5,97.4 318.0,97.8 318.6,98.3 319.1,98.7 319.6,99.1 320.2,99.6 320.7,100.1 321.3,100.6 321.8,101.1 322.4,101.6 322.9,102.1 323.4,102.6 324.0,103.1 324.5,103.7 325.1,104.2 325.6,104.7 326.1,105.3 326.7,105.8 327.2,106.3 327.8,106.8 328.3,107.3 328.8,107.8 329.4,108.3 329.9,108.8 330.5,109.2 331.0,109.7 331.6,110.1 332.1,110.5 332.6,110.9 333.2,111.3 333.7,111.7 334.3,112.0 334.8,112.3 335.3,112.6 335.9,112.8 336.4,113.0 337.0,113.2 337.5,113.4 338.1,113.5 338.6,113.6 339.1,113.7 339.7,113.7 340.2,113.7 340.8,113.6 341.3,113.6 341.8,113.5 342.4,113.4 342.9,113.3 343.5,113.1 344.0,113.0 346.8,111.8 349.7,110.3 352.5,108.3 355.3,106.0 358.1,103.5 361.0,100.8 363.8,97.9 366.6,95.0 369.4,92.2 372.3,89.4 375.1,86.8 377.9,84.4 380.7,82.2 383.6,80.5 386.4,79.1 389.2,78.3 392.0,78.0 394.9,78.2 397.7,78.6 400.5,79.4 403.3,80.3 406.2,81.4 409.0,82.6 411.8,83.8 414.6,85.0 417.5,86.1 420.3,87.1 423.1,88.0 426.0,88.9 428.8,89.8 431.6,90.7 434.4,91.6 437.3,92.5 440.1,93.4 442.9,94.2 445.7,95.1 448.6,96.0 451.4,96.9 454.2,97.8 457.0,98.8 459.9,99.9 462.7,100.9 465.5,101.8 468.3,102.8 471.2,103.6 474.0,104.4 476.8,105.0 479.6,105.5 482.5,105.9 485.3,106.3 488.1,106.7 490.9,107.0 493.8,107.4 496.6,107.7 499.4,108.0 502.2,108.3 505.1,108.6 507.9,108.9 510.7,109.2 513.5,109.4 516.4,109.6 519.2,109.8 522.0,110.0 524.9,110.1 527.7,110.3 530.5,110.4 533.3,110.5 536.2,110.5 539.0,110.6 541.8,110.6 544.6,110.5 547.5,110.4 550.3,110.2 553.1,110.1 555.9,109.8 558.8,109.5 561.6,109.2 564.4,108.9 567.2,108.5 570.1,108.2 572.9,107.8 575.7,107.3 578.5,106.9 581.4,106.5 584.2,106.1 587.0,105.6 589.8,105.2 592.7,104.8 595.5,104.4 598.3,104.0 601.1,103.6 604.0,103.3 606.8,102.9 609.6,102.6 612.4,102.4 615.3,102.2 618.1,101.9 620.9,101.7 623.7,101.5 626.6,101.2 629.4,101.0 632.2,100.8 635.1,100.6 637.9,100.4 640.7,100.1 643.5,99.9 646.4,99.7 649.2,99.5 652.0,99.4 654.8,99.2 657.7,99.0 660.5,98.8 663.3,98.6 666.1,98.5 669.0,98.3 671.8,98.2 674.6,98.0 677.4,97.9 680.3,97.7" fill="none" stroke="#8c48f2" stroke-width="0.9" stroke-linejoin="round" />
<path d="M278.5,91.5 279.0,91.2 279.6,91.0 280.1,90.9 280.7,90.8 281.2,90.8 281.7,90.8 282.3,91.3 282.8,92.0 283.4,92.8 283.9,93.5 284.5,93.9 285.0,93.9 285.5,93.7 286.1,93.3 286.6,92.9 287.2,92.3 287.7,91.7 288.2,91.0 288.8,90.3 289.3,89.7 289.9,89.0 290.4,88.5 291.0,88.0 291.5,87.6 292.0,87.4 292.6,87.3 293.1,87.5 293.7,87.8 294.2,88.3 294.7,88.9 295.3,89.6 295.8,90.4 296.4,91.2 296.9,92.0 297.4,92.8 298.0,93.5 298.5,94.1 299.1,94.6 299.6,95.0 300.2,95.1 300.7,95.1 301.2,95.0 301.8,94.7 302.3,94.4 302.9,94.0 303.4,93.5 303.9,92.9 304.5,92.3 305.0,91.6 305.6,90.9 306.1,90.1 306.7,89.4 307.2,88.6 307.7,87.9 308.3,87.2 308.8,86.5 309.4,85.8 309.9,85.2 310.4,84.6 311.0,84.1 311.5,83.7 312.1,83.4 312.6,83.1 313.1,83.0 313.7,83.0 314.2,83.0 314.8,83.1 315.3,83.2 315.9,83.4 316.4,83.5 316.9,83.8 317.5,84.0 318.0,84.3 318.6,84.5 319.1,84.9 319.6,85.2 320.2,85.6 320.7,86.0 321.3,86.4 321.8,86.8 322.4,87.3 322.9,87.7 323.4,88.2 324.0,88.7 324.5,89.2 325.1,89.8 325.6,90.3 326.1,90.8 326.7,91.4 327.2,92.0 327.8,92.5 328.3,93.1 328.8,93.7 329.4,94.3 329.9,94.8 330.5,95.4 331.0,96.0 331.6,96.6 332.1,97.1 332.6,97.7 333.2,98.3 333.7,98.8 334.3,99.4 334.8,99.9 335.3,100.4 335.9,100.9 336.4,101.4 337.0,101.9 337.5,102.3 338.1,102.8 338.6,103.2 339.1,103.6 339.7,104.0 340.2,104.4 340.8,104.7 341.3,105.0 341.8,105.3 342.4,105.5 342.9,105.8 343.5,105.9 344.0,106.1 346.8,106.4 349.7,106.1 352.5,105.3 355.3,104.2 358.1,102.8 361.0,101.1 363.8,99.2 366.6,97.0 369.4,94.8 372.3,92.4 375.1,90.0 377.9,87.5 380.7,85.1 383.6,82.7 386.4,80.5 389.2,78.4 392.0,76.5 394.9,74.9 397.7,73.6 400.5,72.6 403.3,71.9 406.2,71.7 409.0,71.9 411.8,72.1 414.6,72.6 417.5,73.2 420.3,73.9 423.1,74.7 426.0,75.6 428.8,76.5 431.6,77.5 434.4,78.6 437.3,79.6 440.1,80.7 442.9,81.7 445.7,82.6 448.6,83.5 451.4,84.4 454.2,85.3 457.0,86.2 459.9,87.2 462.7,88.2 465.5,89.2 468.3,90.1 471.2,91.0 474.0,91.8 476.8,92.5 479.6,93.0 482.5,93.5 485.3,94.0 488.1,94.5 490.9,95.0 493.8,95.4 496.6,95.9 499.4,96.3 502.2,96.7 505.1,97.1 507.9,97.5 510.7,97.9 513.5,98.3 516.4,98.6 519.2,98.9 522.0,99.2 524.9,99.4 527.7,99.7 530.5,99.9 533.3,100.0 536.2,100.2 539.0,100.3 541.8,100.3 544.6,100.3 547.5,100.3 550.3,100.3 553.1,100.2 555.9,100.0 558.8,99.8 561.6,99.6 564.4,99.4 567.2,99.1 570.1,98.8 572.9,98.5 575.7,98.2 578.5,97.9 581.4,97.5 584.2,97.1 587.0,96.7 589.8,96.4 592.7,96.0 595.5,95.6 598.3,95.2 601.1,94.8 604.0,94.4 606.8,94.1 609.6,93.7 612.4,93.4 615.3,93.0 618.1,92.7 620.9,92.3 623.7,91.9 626.6,91.5 629.4,91.1 632.2,90.7 635.1,90.3 637.9,89.9 640.7,89.4 643.5,89.0 646.4,88.6 649.2,88.2 652.0,87.8 654.8,87.4 657.7,87.0 660.5,86.6 663.3,86.2 666.1,85.9 669.0,85.6 671.8,85.2 674.6,84.9 677.4,84.7 680.3,84.4" fill="none" stroke="#a448f2" stroke-width="0.9" stroke-linejoin="round" />
<path d="M278.5,82.0 279.0,81.6 279.6,81.4 280.1,81.2 280.7,81.1 281.2,81.1 281.7,81.1 282.3,81.2 282.8,81.6 283.4,82.4 283.9,83.2 284.5,84.0 285.0,84.5 285.5,84.7 286.1,84.7 286.6,84.4 287.2,84.1 287.7,83.6 288.2,83.1 288.8,82.5 289.3,81.9 289.9,81.3 290.4,80.6 291.0,80.0 291.5,79.4 292.0,78.9 292.6,78.5 293.1,78.1 293.7,77.9 294.2,77.8 294.7,77.9 295.3,78.1 295.8,78.5 296.4,79.0 296.9,79.6 297.4,80.3 298.0,81.0 298.5,81.8 299.1,82.6 299.6,83.3 300.2,84.0 300.7,84.6 301.2,85.1 301.8,85.6 302.3,85.8 302.9,86.0 303.4,85.9 303.9,85.8 304.5,85.6 305.0,85.3 305.6,84.9 306.1,84.5 306.7,84.0 307.2,83.5 307.7,82.9 308.3,82.3 308.8,81.7 309.4,81.0 309.9,80.3 310.4,79.6 311.0,79.0 311.5,78.3 312.1,77.6 312.6,77.0 313.1,76.4 313.7,75.8 314.2,75.3 314.8,74.8 315.3,74.4 315.9,74.1 316.4,73.8 316.9,73.6 317.5,73.5 318.0,73.5 318.6,73.5 319.1,73.6 319.6,73.7 320.2,73.8 320.7,73.9 321.3,74.1 321.8,74.3 322.4,74.5 322.9,74.7 323.4,75.0 324.0,75.3 324.5,75.6 325.1,75.9 325.6,76.3 326.1,76.7 326.7,77.1 327.2,77.5 327.8,77.9 328.3,78.3 328.8,78.8 329.4,79.2 329.9,79.7 330.5,80.2 331.0,80.6 331.6,81.1 332.1,81.7 332.6,82.2 333.2,82.7 333.7,83.2 334.3,83.7 334.8,84.3 335.3,84.8 335.9,85.4 336.4,85.9 337.0,86.4 337.5,87.0 338.1,87.5 338.6,88.0 339.1,88.5 339.7,89.1 340.2,89.6 340.8,90.1 341.3,90.6 341.8,91.1 342.4,91.6 342.9,92.0 343.5,92.5 344.0,92.9 346.8,95.0 349.7,96.6 352.5,97.5 355.3,97.7 358.1,97.4 361.0,96.8 363.8,96.0 366.6,94.8 369.4,93.4 372.3,91.9 375.1,90.2 377.9,88.3 380.7,86.4 383.6,84.3 386.4,82.3 389.2,80.3 392.0,78.2 394.9,76.3 397.7,74.4 400.5,72.7 403.3,71.2 406.2,69.8 409.0,68.7 411.8,67.8 414.6,67.2 417.5,66.9 420.3,66.9 423.1,66.9 426.0,66.9 428.8,67.0 431.6,67.0 434.4,67.1 437.3,67.2 440.1,67.3 442.9,67.4 445.7,67.4 448.6,67.5 451.4,67.7 454.2,67.8 457.0,68.1 459.9,68.4 462.7,68.8 465.5,69.3 468.3,69.8 471.2,70.4 474.0,71.0 476.8,71.7 479.6,72.4 482.5,73.1 485.3,73.9 488.1,74.6 490.9,75.5 493.8,76.3 496.6,77.1 499.4,77.9 502.2,78.8 505.1,79.6 507.9,80.4 510.7,81.3 513.5,82.1 516.4,82.8 519.2,83.6 522.0,84.3 524.9,85.0 527.7,85.6 530.5,86.2 533.3,86.7 536.2,87.2 539.0,87.6 541.8,88.0 544.6,88.3 547.5,88.5 550.3,88.7 553.1,88.7 555.9,88.7 558.8,88.7 561.6,88.6 564.4,88.5 567.2,88.4 570.1,88.3 572.9,88.1 575.7,88.0 578.5,87.8 581.4,87.6 584.2,87.4 587.0,87.2 589.8,86.9 592.7,86.7 595.5,86.4 598.3,86.2 601.1,85.9 604.0,85.7 606.8,85.4 609.6,85.1 612.4,84.9 615.3,84.6 618.1,84.3 620.9,83.9 623.7,83.6 626.6,83.2 629.4,82.7 632.2,82.3 635.1,81.8 637.9,81.3 640.7,80.9 643.5,80.4 646.4,79.9 649.2,79.4 652.0,78.9 654.8,78.5 657.7,78.0 660.5,77.6 663.3,77.1 666.1,76.7 669.0,76.4 671.8,76.0 674.6,75.7 677.4,75.5 680.3,75.2" fill="none" stroke="#b84cf0" stroke-width="0.9" stroke-linejoin="round" />
<path d="M278.5,70.7 279.0,70.5 279.6,70.3 280.1,70.2 280.7,70.1 281.2,70.0 281.7,70.0 282.3,70.0 282.8,70.1 283.4,70.5 283.9,71.1 284.5,71.7 285.0,72.3 285.5,72.7 286.1,72.8 286.6,72.7 287.2,72.4 287.7,72.1 288.2,71.7 288.8,71.2 289.3,70.6 289.9,70.0 290.4,69.4 291.0,68.7 291.5,68.0 292.0,67.4 292.6,66.7 293.1,66.1 293.7,65.6 294.2,65.1 294.7,64.7 295.3,64.4 295.8,64.2 296.4,64.1 296.9,64.2 297.4,64.5 298.0,64.9 298.5,65.4 299.1,66.0 299.6,66.8 300.2,67.5 300.7,68.3 301.2,69.1 301.8,69.9 302.3,70.7 302.9,71.3 303.4,71.9 303.9,72.3 304.5,72.6 305.0,72.8 305.6,72.8 306.1,72.7 306.7,72.5 307.2,72.3 307.7,72.1 308.3,71.8 308.8,71.5 309.4,71.1 309.9,70.7 310.4,70.2 311.0,69.8 311.5,69.3 312.1,68.8 312.6,68.3 313.1,67.7 313.7,67.2 314.2,66.7 314.8,66.2 315.3,65.6 315.9,65.1 316.4,64.7 316.9,64.2 317.5,63.8 318.0,63.3 318.6,63.0 319.1,62.6 319.6,62.4 320.2,62.1 320.7,61.9 321.3,61.8 321.8,61.7 322.4,61.7 322.9,61.7 323.4,61.8 324.0,61.8 324.5,61.9 325.1,62.0 325.6,62.2 326.1,62.3 326.7,62.5 327.2,62.7 327.8,62.9 328.3,63.2 328.8,63.4 329.4,63.7 329.9,64.0 330.5,64.3 331.0,64.7 331.6,65.0 332.1,65.3 332.6,65.7 333.2,66.1 333.7,66.5 334.3,66.9 334.8,67.3 335.3,67.7 335.9,68.2 336.4,68.6 337.0,69.1 337.5,69.5 338.1,70.0 338.6,70.5 339.1,71.0 339.7,71.4 340.2,71.9 340.8,72.4 341.3,72.9 341.8,73.4 342.4,73.9 342.9,74.4 343.5,74.9 344.0,75.4 346.8,78.0 349.7,80.4 352.5,82.7 355.3,84.6 358.1,86.1 361.0,87.1 363.8,87.5 366.6,87.4 369.4,87.1 372.3,86.5 375.1,85.8 377.9,84.9 380.7,83.8 383.6,82.6 386.4,81.2 389.2,79.8 392.0,78.3 394.9,76.6 397.7,75.0 400.5,73.3 403.3,71.6 406.2,69.8 409.0,68.1 411.8,66.5 414.6,64.9 417.5,63.3 420.3,61.9 423.1,60.6 426.0,59.4 428.8,58.3 431.6,57.4 434.4,56.7 437.3,56.2 440.1,55.9 442.9,55.8 445.7,55.8 448.6,56.0 451.4,56.1 454.2,56.4 457.0,56.6 459.9,57.0 462.7,57.3 465.5,57.7 468.3,58.2 471.2,58.7 474.0,59.2 476.8,59.8 479.6,60.3 482.5,60.9 485.3,61.6 488.1,62.2 490.9,62.9 493.8,63.5 496.6,64.2 499.4,64.9 502.2,65.5 505.1,66.2 507.9,66.8 510.7,67.5 513.5,68.1 516.4,68.7 519.2,69.3 522.0,69.9 524.9,70.5 527.7,71.0 530.5,71.5 533.3,71.9 536.2,72.3 539.0,72.7 541.8,73.0 544.6,73.3 547.5,73.5 550.3,73.7 553.1,73.8 555.9,73.9 558.8,74.1 561.6,74.2 564.4,74.3 567.2,74.4 570.1,74.5 572.9,74.6 575.7,74.7 578.5,74.8 581.4,74.9 584.2,75.0 587.0,75.0 589.8,75.1 592.7,75.1 595.5,75.2 598.3,75.2 601.1,75.2 604.0,75.2 606.8,75.2 609.6,75.1 612.4,75.0 615.3,74.8 618.1,74.7 620.9,74.5 623.7,74.3 626.6,74.1 629.4,73.8 632.2,73.6 635.1,73.3 637.9,73.0 640.7,72.7 643.5,72.4 646.4,72.1 649.2,71.8 652.0,71.5 654.8,71.2 657.7,70.9 660.5,70.7 663.3,70.4 666.1,70.1 669.0,69.9 671.8,69.6 674.6,69.4 677.4,69.2 680.3,69.0" fill="none" stroke="#cc4cf0" stroke-width="0.9" stroke-linejoin="round" />
<path d="M278.5,60.8 279.0,60.2 279.6,59.7 280.1,59.3 280.7,59.0 281.2,58.7 281.7,58.5 282.3,58.4 282.8,58.3 283.4,58.3 283.9,58.2 284.5,58.3 285.0,58.6 285.5,59.1 286.1,59.8 286.6,60.5 287.2,61.1 287.7,61.7 288.2,62.0 288.8,62.0 289.3,62.0 289.9,61.8 290.4,61.6 291.0,61.3 291.5,61.0 292.0,60.6 292.6,60.2 293.1,59.8 293.7,59.4 294.2,58.9 294.7,58.5 295.3,58.1 295.8,57.7 296.4,57.4 296.9,57.1 297.4,56.8 298.0,56.6 298.5,56.5 299.1,56.5 299.6,56.5 300.2,56.6 300.7,56.8 301.2,57.0 301.8,57.2 302.3,57.5 302.9,57.8 303.4,58.1 303.9,58.5 304.5,58.8 305.0,59.2 305.6,59.6 306.1,60.0 306.7,60.3 307.2,60.7 307.7,61.0 308.3,61.3 308.8,61.6 309.4,61.9 309.9,62.1 310.4,62.2 311.0,62.3 311.5,62.4 312.1,62.4 312.6,62.3 313.1,62.2 313.7,62.1 314.2,61.9 314.8,61.6 315.3,61.4 315.9,61.0 316.4,60.7 316.9,60.3 317.5,59.9 318.0,59.5 318.6,59.1 319.1,58.6 319.6,58.1 320.2,57.6 320.7,57.1 321.3,56.6 321.8,56.1 322.4,55.6 322.9,55.0 323.4,54.5 324.0,54.0 324.5,53.5 325.1,52.9 325.6,52.4 326.1,52.0 326.7,51.5 327.2,51.0 327.8,50.6 328.3,50.2 328.8,49.8 329.4,49.4 329.9,49.1 330.5,48.8 331.0,48.5 331.6,48.3 332.1,48.1 332.6,48.0 333.2,47.9 333.7,47.8 334.3,47.8 334.8,47.9 335.3,47.9 335.9,48.0 336.4,48.0 337.0,48.1 337.5,48.3 338.1,48.4 338.6,48.6 339.1,48.7 339.7,48.9 340.2,49.1 340.8,49.4 341.3,49.6 341.8,49.8 342.4,50.1 342.9,50.4 343.5,50.7 344.0,51.0 346.8,52.8 349.7,54.8 352.5,57.1 355.3,59.4 358.1,61.9 361.0,64.3 363.8,66.6 366.6,68.8 369.4,70.7 372.3,72.4 375.1,73.6 377.9,74.5 380.7,74.9 383.6,74.8 386.4,74.6 389.2,74.2 392.0,73.7 394.9,73.0 397.7,72.3 400.5,71.5 403.3,70.5 406.2,69.5 409.0,68.5 411.8,67.4 414.6,66.2 417.5,65.1 420.3,63.9 423.1,62.8 426.0,61.7 428.8,60.6 431.6,59.5 434.4,58.6 437.3,57.7 440.1,56.9 442.9,56.1 445.7,55.5 448.6,55.1 451.4,54.7 454.2,54.4 457.0,54.1 459.9,53.7 462.7,53.4 465.5,53.1 468.3,52.8 471.2,52.6 474.0,52.4 476.8,52.2 479.6,52.0 482.5,51.9 485.3,51.8 488.1,51.8 490.9,51.8 493.8,51.9 496.6,52.0 499.4,52.2 502.2,52.3 505.1,52.5 507.9,52.8 510.7,53.0 513.5,53.3 516.4,53.6 519.2,54.0 522.0,54.3 524.9,54.6 527.7,55.0 530.5,55.3 533.3,55.7 536.2,56.0 539.0,56.3 541.8,56.7 544.6,57.0 547.5,57.3 550.3,57.5 553.1,57.8 555.9,58.1 558.8,58.4 561.6,58.7 564.4,59.1 567.2,59.4 570.1,59.7 572.9,60.1 575.7,60.4 578.5,60.8 581.4,61.2 584.2,61.5 587.0,61.9 589.8,62.2 592.7,62.6 595.5,62.9 598.3,63.3 601.1,63.6 604.0,63.9 606.8,64.2 609.6,64.5 612.4,64.7 615.3,65.0 618.1,65.2 620.9,65.4 623.7,65.6 626.6,65.8 629.4,65.9 632.2,66.0 635.1,66.1 637.9,66.2 640.7,66.2 643.5,66.2 646.4,66.2 649.2,66.2 652.0,66.2 654.8,66.2 657.7,66.1 660.5,66.1 663.3,66.1 666.1,66.0 669.0,65.9 671.8,65.9 674.6,65.8 677.4,65.6 680.3,65.5" fill="none" stroke="#de4cec" stroke-width="0.9" stroke-linejoin="round" />
<path d="M281.6,51.5 282.1,50.8 282.6,50.2 283.2,49.7 283.7,49.3 284.3,48.9 284.8,48.6 285.4,48.3 285.9,48.2 286.4,48.2 287.0,48.3 287.5,48.5 288.1,48.7 288.6,49.1 289.2,49.4 289.7,49.8 290.2,50.1 290.8,50.3 291.3,50.4 291.9,50.4 292.4,50.4 293.0,50.3 293.5,50.2 294.0,50.1 294.6,49.9 295.1,49.8 295.7,49.6 296.2,49.4 296.8,49.2 297.3,49.0 297.8,48.7 298.4,48.5 298.9,48.3 299.5,48.1 300.0,47.9 300.6,47.7 301.1,47.5 301.6,47.3 302.2,47.2 302.7,47.1 303.3,47.0 303.8,47.0 304.4,47.0 304.9,47.0 305.5,47.1 306.0,47.2 306.5,47.4 307.1,47.6 307.6,47.9 308.2,48.2 308.7,48.5 309.3,48.9 309.8,49.2 310.3,49.6 310.9,50.0 311.4,50.4 312.0,50.8 312.5,51.2 313.1,51.6 313.6,52.1 314.1,52.4 314.7,52.8 315.2,53.2 315.8,53.5 316.3,53.8 316.9,54.1 317.4,54.4 317.9,54.6 318.5,54.7 319.0,54.8 319.6,54.9 320.1,54.9 320.7,54.9 321.2,54.9 321.7,54.8 322.3,54.8 322.8,54.7 323.4,54.6 323.9,54.5 324.5,54.3 325.0,54.2 325.5,54.0 326.1,53.9 326.6,53.7 327.2,53.5 327.7,53.3 328.3,53.1 328.8,52.8 329.3,52.6 329.9,52.3 330.4,52.1 331.0,51.8 331.5,51.6 332.1,51.3 332.6,51.0 333.1,50.7 333.7,50.4 334.2,50.1 334.8,49.8 335.3,49.5 335.9,49.2 336.4,48.8 336.9,48.5 337.5,48.2 338.0,47.9 338.6,47.6 339.1,47.2 339.7,46.9 340.2,46.6 340.7,46.3 341.3,45.9 341.8,45.6 342.4,45.3 342.9,45.0 343.5,44.7 344.0,44.4 346.8,43.0 349.7,41.7 352.5,40.8 355.3,40.3 358.1,40.2 361.0,40.3 363.8,40.5 366.6,40.9 369.4,41.3 372.3,41.7 375.1,42.3 377.9,42.8 380.7,43.4 383.6,44.0 386.4,44.7 389.2,45.3 392.0,45.9 394.9,46.4 397.7,47.0 400.5,47.6 403.3,48.4 406.2,49.1 409.0,49.9 411.8,50.7 414.6,51.4 417.5,52.0 420.3,52.5 423.1,52.8 426.0,53.0 428.8,53.0 431.6,53.0 434.4,52.8 437.3,52.7 440.1,52.5 442.9,52.2 445.7,51.9 448.6,51.6 451.4,51.2 454.2,50.9 457.0,50.5 459.9,50.0 462.7,49.6 465.5,49.1 468.3,48.6 471.2,48.1 474.0,47.7 476.8,47.2 479.6,46.7 482.5,46.2 485.3,45.7 488.1,45.3 490.9,44.8 493.8,44.4 496.6,44.0 499.4,43.6 502.2,43.3 505.1,43.0 507.9,42.7 510.7,42.4 513.5,42.2 516.4,42.1 519.2,42.0 522.0,41.9 524.9,41.9 527.7,42.0 530.5,42.0 533.3,42.1 536.2,42.1 539.0,42.2 541.8,42.3 544.6,42.4 547.5,42.5 550.3,42.6 553.1,42.8 555.9,42.9 558.8,43.1 561.6,43.3 564.4,43.5 567.2,43.7 570.1,44.0 572.9,44.3 575.7,44.6 578.5,44.9 581.4,45.2 584.2,45.5 587.0,45.9 589.8,46.2 592.7,46.6 595.5,46.9 598.3,47.3 601.1,47.6 604.0,48.0 606.8,48.4 609.6,48.7 612.4,49.1 615.3,49.4 618.1,49.8 620.9,50.2 623.7,50.5 626.6,50.9 629.4,51.3 632.2,51.7 635.1,52.1 637.9,52.6 640.7,53.0 643.5,53.4 646.4,53.9 649.2,54.3 652.0,54.8 654.8,55.2 657.7,55.7 660.5,56.1 663.3,56.6 666.1,57.1 669.0,57.6 671.8,58.1 674.6,58.6 677.4,59.1 680.3,59.6" fill="none" stroke="#ec4cdc" stroke-width="0.9" stroke-linejoin="round" />
<path d="M282.4,45.6 283.0,45.1 283.5,44.7 284.1,44.4 284.6,44.1 285.2,43.9 285.7,43.7 286.2,43.7 286.8,43.7 287.3,43.8 287.9,44.0 288.4,44.3 289.0,44.5 289.5,44.8 290.1,45.0 290.6,45.2 291.1,45.4 291.7,45.4 292.2,45.4 292.8,45.3 293.3,45.2 293.9,45.1 294.4,44.9 295.0,44.8 295.5,44.6 296.1,44.4 296.6,44.1 297.1,43.9 297.7,43.6 298.2,43.4 298.8,43.1 299.3,42.8 299.9,42.6 300.4,42.3 301.0,42.1 301.5,41.8 302.0,41.6 302.6,41.4 303.1,41.2 303.7,41.0 304.2,40.8 304.8,40.7 305.3,40.6 305.9,40.6 306.4,40.6 307.0,40.6 307.5,40.6 308.0,40.7 308.6,40.8 309.1,40.9 309.7,41.1 310.2,41.3 310.8,41.5 311.3,41.7 311.9,41.9 312.4,42.2 312.9,42.5 313.5,42.8 314.0,43.0 314.6,43.3 315.1,43.7 315.7,44.0 316.2,44.3 316.8,44.6 317.3,44.9 317.8,45.2 318.4,45.5 318.9,45.8 319.5,46.1 320.0,46.4 320.6,46.7 321.1,47.0 321.7,47.2 322.2,47.4 322.8,47.6 323.3,47.8 323.8,48.0 324.4,48.1 324.9,48.2 325.5,48.3 326.0,48.3 326.6,48.3 327.1,48.3 327.7,48.3 328.2,48.3 328.7,48.3 329.3,48.3 329.8,48.2 330.4,48.2 330.9,48.1 331.5,48.1 332.0,48.0 332.6,47.9 333.1,47.9 333.7,47.8 334.2,47.7 334.7,47.6 335.3,47.5 335.8,47.4 336.4,47.3 336.9,47.2 337.5,47.1 338.0,47.0 338.6,46.8 339.1,46.7 339.6,46.6 340.2,46.5 340.7,46.3 341.3,46.2 341.8,46.0 342.4,45.9 342.9,45.7 343.5,45.6 344.0,45.4 346.8,44.6 349.7,43.7 352.5,42.8 355.3,41.9 358.1,41.0 361.0,40.2 363.8,39.4 366.6,38.7 369.4,38.1 372.3,37.6 375.1,37.3 377.9,37.1 380.7,37.1 383.6,37.2 386.4,37.4 389.2,37.6 392.0,37.8 394.9,38.1 397.7,38.5 400.5,39.1 403.3,39.8 406.2,40.6 409.0,41.4 411.8,42.3 414.6,43.1 417.5,43.7 420.3,44.2 423.1,44.6 426.0,45.1 428.8,45.5 431.6,45.9 434.4,46.2 437.3,46.6 440.1,46.9 442.9,47.2 445.7,47.5 448.6,47.8 451.4,48.0 454.2,48.1 457.0,48.3 459.9,48.3 462.7,48.3 465.5,48.3 468.3,48.2 471.2,48.1 474.0,48.0 476.8,47.8 479.6,47.6 482.5,47.4 485.3,47.2 488.1,46.9 490.9,46.6 493.8,46.3 496.6,46.0 499.4,45.7 502.2,45.3 505.1,45.0 507.9,44.6 510.7,44.2 513.5,43.9 516.4,43.5 519.2,43.1 522.0,42.8 524.9,42.4 527.7,42.0 530.5,41.7 533.3,41.4 536.2,41.1 539.0,40.8 541.8,40.5 544.6,40.2 547.5,40.0 550.3,39.8 553.1,39.6 555.9,39.4 558.8,39.3 561.6,39.2 564.4,39.2 567.2,39.2 570.1,39.2 572.9,39.2 575.7,39.3 578.5,39.3 581.4,39.4 584.2,39.5 587.0,39.6 589.8,39.7 592.7,39.8 595.5,40.0 598.3,40.1 601.1,40.3 604.0,40.4 606.8,40.6 609.6,40.7 612.4,40.9 615.3,41.1 618.1,41.4 620.9,41.8 623.7,42.2 626.6,42.6 629.4,43.1 632.2,43.7 635.1,44.2 637.9,44.8 640.7,45.5 643.5,46.1 646.4,46.7 649.2,47.4 652.0,48.0 654.8,48.6 657.7,49.2 660.5,49.8 663.3,50.3 666.1,50.8 669.0,51.3 671.8,51.7 674.6,52.0 677.4,52.4 680.3,52.7" fill="none" stroke="#f04cc4" stroke-width="0.9" stroke-linejoin="round" />
<path d="M284.2,38.3 284.7,38.0 285.3,37.8 285.8,37.5 286.4,37.3 286.9,37.1 287.4,36.9 288.0,36.7 288.5,36.6 289.1,36.4 289.6,36.3 290.2,36.2 290.7,36.2 291.2,36.1 291.8,36.1 292.3,36.0 292.9,36.1 293.4,36.1 294.0,36.2 294.5,36.3 295.1,36.5 295.6,36.7 296.1,36.9 296.7,37.1 297.2,37.3 297.8,37.5 298.3,37.8 298.9,38.0 299.4,38.2 299.9,38.4 300.5,38.5 301.0,38.7 301.6,38.7 302.1,38.8 302.7,38.8 303.2,38.8 303.8,38.7 304.3,38.7 304.8,38.6 305.4,38.4 305.9,38.3 306.5,38.1 307.0,37.9 307.6,37.7 308.1,37.5 308.7,37.3 309.2,37.1 309.7,36.8 310.3,36.6 310.8,36.3 311.4,36.1 311.9,35.8 312.5,35.6 313.0,35.3 313.5,35.1 314.1,34.9 314.6,34.6 315.2,34.4 315.7,34.2 316.3,34.1 316.8,33.9 317.4,33.8 317.9,33.7 318.4,33.6 319.0,33.5 319.5,33.5 320.1,33.4 320.6,33.4 321.2,33.4 321.7,33.5 322.2,33.5 322.8,33.5 323.3,33.5 323.9,33.5 324.4,33.5 325.0,33.5 325.5,33.5 326.1,33.5 326.6,33.6 327.1,33.6 327.7,33.6 328.2,33.6 328.8,33.6 329.3,33.6 329.9,33.7 330.4,33.7 331.0,33.7 331.5,33.7 332.0,33.8 332.6,33.8 333.1,33.8 333.7,33.9 334.2,33.9 334.8,33.9 335.3,33.9 335.8,34.0 336.4,34.0 336.9,34.0 337.5,34.1 338.0,34.1 338.6,34.1 339.1,34.2 339.7,34.2 340.2,34.2 340.7,34.3 341.3,34.3 341.8,34.3 342.4,34.4 342.9,34.4 343.5,34.4 344.0,34.5 346.8,34.6 349.7,34.8 352.5,35.0 355.3,35.1 358.1,35.2 361.0,35.3 363.8,35.3 366.6,35.3 369.4,35.3 372.3,35.3 375.1,35.2 377.9,35.1 380.7,35.0 383.6,34.9 386.4,34.8 389.2,34.6 392.0,34.5 394.9,34.3 397.7,34.2 400.5,34.1 403.3,34.0 406.2,33.9 409.0,33.8 411.8,33.7 414.6,33.6 417.5,33.6 420.3,33.6 423.1,33.7 426.0,33.8 428.8,34.0 431.6,34.2 434.4,34.4 437.3,34.6 440.1,34.8 442.9,35.0 445.7,35.2 448.6,35.3 451.4,35.4 454.2,35.5 457.0,35.6 459.9,35.8 462.7,35.9 465.5,36.0 468.3,36.1 471.2,36.2 474.0,36.3 476.8,36.4 479.6,36.5 482.5,36.6 485.3,36.7 488.1,36.8 490.9,36.9 493.8,37.0 496.6,37.1 499.4,37.2 502.2,37.3 505.1,37.4 507.9,37.5 510.7,37.5 513.5,37.6 516.4,37.7 519.2,37.8 522.0,37.8 524.9,37.9 527.7,37.9 530.5,38.0 533.3,38.0 536.2,38.0 539.0,38.1 541.8,38.1 544.6,38.1 547.5,38.1 550.3,38.1 553.1,38.1 555.9,38.1 558.8,38.1 561.6,38.1 564.4,38.1 567.2,38.1 570.1,38.1 572.9,38.1 575.7,38.1 578.5,38.0 581.4,38.0 584.2,38.0 587.0,38.0 589.8,38.0 592.7,37.9 595.5,37.9 598.3,37.9 601.1,37.9 604.0,37.9 606.8,37.8 609.6,37.8 612.4,37.8 615.3,37.7 618.1,37.7 620.9,37.6 623.7,37.6 626.6,37.5 629.4,37.4 632.2,37.3 635.1,37.2 637.9,37.1 640.7,36.9 643.5,36.8 646.4,36.6 649.2,36.5 652.0,36.3 654.8,36.2 657.7,36.0 660.5,35.8 663.3,35.6 666.1,35.5 669.0,35.3 671.8,35.1 674.6,34.9 677.4,34.7 680.3,34.5" fill="none" stroke="#f0489c" stroke-width="0.9" stroke-linejoin="round" />
<path d="M286.4,35.4 286.9,35.0 287.4,34.7 288.0,34.4 288.5,34.1 289.1,33.8 289.6,33.5 290.2,33.3 290.7,33.0 291.3,32.8 291.8,32.5 292.3,32.3 292.9,32.1 293.4,32.0 294.0,31.8 294.5,31.7 295.1,31.5 295.6,31.4 296.1,31.3 296.7,31.3 297.2,31.2 297.8,31.2 298.3,31.2 298.9,31.2 299.4,31.2 300.0,31.3 300.5,31.4 301.0,31.5 301.6,31.6 302.1,31.7 302.7,31.8 303.2,32.0 303.8,32.1 304.3,32.3 304.9,32.4 305.4,32.6 305.9,32.7 306.5,32.9 307.0,33.1 307.6,33.2 308.1,33.4 308.7,33.5 309.2,33.7 309.7,33.8 310.3,33.9 310.8,34.0 311.4,34.1 311.9,34.2 312.5,34.2 313.0,34.3 313.6,34.4 314.1,34.5 314.6,34.5 315.2,34.6 315.7,34.7 316.3,34.8 316.8,34.8 317.4,34.9 317.9,35.0 318.4,35.0 319.0,35.1 319.5,35.2 320.1,35.2 320.6,35.3 321.2,35.3 321.7,35.4 322.3,35.4 322.8,35.5 323.3,35.5 323.9,35.6 324.4,35.6 325.0,35.6 325.5,35.6 326.1,35.7 326.6,35.7 327.1,35.7 327.7,35.7 328.2,35.7 328.8,35.7 329.3,35.7 329.9,35.7 330.4,35.7 331.0,35.7 331.5,35.7 332.0,35.7 332.6,35.6 333.1,35.6 333.7,35.6 334.2,35.6 334.8,35.6 335.3,35.6 335.8,35.5 336.4,35.5 336.9,35.5 337.5,35.5 338.0,35.5 338.6,35.4 339.1,35.4 339.7,35.4 340.2,35.4 340.7,35.3 341.3,35.3 341.8,35.3 342.4,35.2 342.9,35.2 343.5,35.2 344.0,35.1 346.8,35.0 349.7,34.8 352.5,34.5 355.3,34.3 358.1,34.1 361.0,33.8 363.8,33.6 366.6,33.4 369.4,33.1 372.3,32.9 375.1,32.7 377.9,32.5 380.7,32.3 383.6,32.2 386.4,32.1 389.2,32.0 392.0,31.9 394.9,31.9 397.7,31.9 400.5,31.9 403.3,31.9 406.2,32.0 409.0,32.0 411.8,32.0 414.6,32.1 417.5,32.1 420.3,32.2 423.1,32.2 426.0,32.3 428.8,32.4 431.6,32.4 434.4,32.4 437.3,32.5 440.1,32.5 442.9,32.5 445.7,32.6 448.6,32.6 451.4,32.6 454.2,32.6 457.0,32.5 459.9,32.5 462.7,32.4 465.5,32.3 468.3,32.2 471.2,32.2 474.0,32.1 476.8,32.0 479.6,32.0 482.5,31.9 485.3,31.9 488.1,31.9 490.9,31.9 493.8,31.9 496.6,31.9 499.4,31.9 502.2,31.9 505.1,31.9 507.9,31.9 510.7,31.9 513.5,31.9 516.4,31.9 519.2,31.9 522.0,31.9 524.9,31.9 527.7,31.9 530.5,31.9 533.3,31.9 536.2,31.9 539.0,31.9 541.8,31.9 544.6,31.9 547.5,31.9 550.3,31.9 553.1,31.9 555.9,31.9 558.8,31.8 561.6,31.8 564.4,31.8 567.2,31.7 570.1,31.7 572.9,31.6 575.7,31.6 578.5,31.5 581.4,31.4 584.2,31.4 587.0,31.3 589.8,31.3 592.7,31.2 595.5,31.2 598.3,31.1 601.1,31.1 604.0,31.1 606.8,31.0 609.6,31.0 612.4,31.0 615.3,31.0 618.1,31.0 620.9,31.1 623.7,31.1 626.6,31.1 629.4,31.2 632.2,31.2 635.1,31.3 637.9,31.4 640.7,31.5 643.5,31.6 646.4,31.7 649.2,31.8 652.0,31.9 654.8,32.0 657.7,32.1 660.5,32.2 663.3,32.4 666.1,32.5 669.0,32.7 671.8,32.8 674.6,33.0 677.4,33.1 680.3,33.3" fill="none" stroke="#f0447c" stroke-width="0.9" stroke-linejoin="round" />
<path d="M291.2,31.5 291.7,31.4 292.3,31.2 292.8,31.0 293.3,30.9 293.9,30.7 294.4,30.5 295.0,30.3 295.5,30.1 296.1,30.0 296.6,29.8 297.2,29.6 297.7,29.5 298.2,29.3 298.8,29.2 299.3,29.0 299.9,28.9 300.4,28.8 301.0,28.7 301.5,28.7 302.1,28.6 302.6,28.6 303.1,28.6 303.7,28.6 304.2,28.6 304.8,28.6 305.3,28.6 305.9,28.6 306.4,28.6 307.0,28.6 307.5,28.6 308.1,28.6 308.6,28.6 309.1,28.6 309.7,28.6 310.2,28.6 310.8,28.6 311.3,28.6 311.9,28.6 312.4,28.6 313.0,28.6 313.5,28.6 314.0,28.6 314.6,28.6 315.1,28.6 315.7,28.6 316.2,28.6 316.8,28.6 317.3,28.6 317.9,28.7 318.4,28.7 318.9,28.7 319.5,28.7 320.0,28.7 320.6,28.7 321.1,28.7 321.7,28.7 322.2,28.7 322.8,28.7 323.3,28.7 323.8,28.7 324.4,28.7 324.9,28.7 325.5,28.7 326.0,28.7 326.6,28.7 327.1,28.7 327.7,28.7 328.2,28.8 328.8,28.8 329.3,28.8 329.8,28.8 330.4,28.8 330.9,28.8 331.5,28.8 332.0,28.8 332.6,28.8 333.1,28.8 333.7,28.8 334.2,28.8 334.7,28.8 335.3,28.8 335.8,28.8 336.4,28.9 336.9,28.9 337.5,28.9 338.0,28.9 338.6,28.9 339.1,28.9 339.6,28.9 340.2,28.9 340.7,28.9 341.3,28.9 341.8,28.9 342.4,28.9 342.9,28.9 343.5,28.9 344.0,29.0 346.8,29.0 349.7,29.0 352.5,29.1 355.3,29.1 358.1,29.2 361.0,29.2 363.8,29.2 366.6,29.3 369.4,29.3 372.3,29.3 375.1,29.4 377.9,29.4 380.7,29.4 383.6,29.4 386.4,29.4 389.2,29.4 392.0,29.5 394.9,29.5 397.7,29.5 400.5,29.4 403.3,29.4 406.2,29.4 409.0,29.3 411.8,29.3 414.6,29.2 417.5,29.2 420.3,29.1 423.1,29.0 426.0,29.0 428.8,28.9 431.6,28.8 434.4,28.8 437.3,28.7 440.1,28.7 442.9,28.6 445.7,28.6 448.6,28.6 451.4,28.6 454.2,28.6 457.0,28.6 459.9,28.6 462.7,28.6 465.5,28.5 468.3,28.5 471.2,28.5 474.0,28.5 476.8,28.5 479.6,28.5 482.5,28.5 485.3,28.5 488.1,28.5 490.9,28.5 493.8,28.5 496.6,28.5 499.4,28.5 502.2,28.5 505.1,28.5 507.9,28.5 510.7,28.4 513.5,28.4 516.4,28.4 519.2,28.4 522.0,28.4 524.9,28.4 527.7,28.4 530.5,28.4 533.3,28.4 536.2,28.4 539.0,28.4 541.8,28.4 544.6,28.4 547.5,28.4 550.3,28.4 553.1,28.4 555.9,28.4 558.8,28.5 561.6,28.5 564.4,28.6 567.2,28.6 570.1,28.7 572.9,28.7 575.7,28.8 578.5,28.9 581.4,28.9 584.2,29.0 587.0,29.1 589.8,29.2 592.7,29.2 595.5,29.3 598.3,29.3 601.1,29.4 604.0,29.4 606.8,29.4 609.6,29.5 612.4,29.5 615.3,29.5 618.1,29.4 620.9,29.4 623.7,29.4 626.6,29.4 629.4,29.3 632.2,29.3 635.1,29.2 637.9,29.1 640.7,29.1 643.5,29.0 646.4,28.9 649.2,28.8 652.0,28.7 654.8,28.6 657.7,28.5 660.5,28.4 663.3,28.2 666.1,28.1 669.0,28.0 671.8,27.8 674.6,27.7 677.4,27.5 680.3,27.4" fill="none" stroke="#f04060" stroke-width="0.9" stroke-linejoin="round" />
</g>
<line x1="307.9" y1="118.9" x2="310.5" y2="117.1" stroke="#222" stroke-width="1.3" />
<line x1="310.5" y1="104.6" x2="313.1" y2="102.8" stroke="#222" stroke-width="1.3" />
<line x1="311.8" y1="92.5" x2="314.4" y2="90.7" stroke="#222" stroke-width="1.3" />
<line x1="313.5" y1="81.4" x2="316.1" y2="79.6" stroke="#222" stroke-width="1.3" />
<line x1="319.5" y1="71.6" x2="322.1" y2="69.8" stroke="#222" stroke-width="1.3" />
<line x1="326.9" y1="61.4" x2="329.5" y2="59.6" stroke="#222" stroke-width="1.3" />
<line x1="335.1" y1="46.7" x2="337.7" y2="44.9" stroke="#222" stroke-width="1.3" />
<line x1="358.5" y1="37.8" x2="361.1" y2="36" stroke="#222" stroke-width="1.3" />
<line x1="378.5" y1="35.3" x2="381.1" y2="33.5" stroke="#222" stroke-width="1.3" />
<line x1="418.2" y1="32.3" x2="420.8" y2="30.5" stroke="#222" stroke-width="1.3" />
<line x1="487.8" y1="31.6" x2="490.4" y2="29.8" stroke="#222" stroke-width="1.3" />
<line x1="535.9" y1="27.3" x2="538.5" y2="25.5" stroke="#222" stroke-width="1.3" />
<line x1="308.2" y1="130" x2="308.2" y2="122" stroke="#f01818" stroke-width="1.4" />
<path d="M308.2,118.5 L306.3,123.6 L310.1,123.6 Z" fill="#f01818" stroke="none" stroke-width="0"/>
<text x="302.6" y="141.4" font-family="Liberation Sans" font-size="13.5" font-weight="bold" font-style="italic" fill="#f01818">B<tspan font-size="9" dy="-7">*</tspan></text>
<rect x="654" y="124.2" width="17.5" height="20.3" fill="#bcd3ea"/>
<text x="657.4" y="140.4" font-family="Liberation Serif" font-size="18.5" text-anchor="start" font-style="italic" fill="#000" >&#966;</text>
<line x1="671.5" y1="124" x2="671.5" y2="144.5" stroke="#3a3a3a" stroke-width="1" />
<line x1="654" y1="144.5" x2="672" y2="144.5" stroke="#3a3a3a" stroke-width="1" />
<text x="383" y="121.7" font-family="Liberation Sans" font-size="10.5" text-anchor="middle" fill="#000" >-5&#176;</text>
<text x="391" y="107.7" font-family="Liberation Sans" font-size="10.5" text-anchor="middle" fill="#000" >5&#176;</text>
<text x="412" y="95.3" font-family="Liberation Sans" font-size="10.5" text-anchor="middle" fill="#000" >20&#176;</text>
<text x="434.5" y="89.1" font-family="Liberation Sans" font-size="10.5" text-anchor="middle" fill="#000" >30&#176;</text>
<text x="450" y="81.7" font-family="Liberation Sans" font-size="10.5" text-anchor="middle" fill="#000" >40&#176;</text>
<text x="479.8" y="72.6" font-family="Liberation Sans" font-size="10.5" text-anchor="middle" fill="#000" >50&#176;</text>
<text x="511.7" y="64.5" font-family="Liberation Sans" font-size="10.5" text-anchor="middle" fill="#000" >60&#176;</text>
<text x="550" y="52.7" font-family="Liberation Sans" font-size="10.5" text-anchor="middle" fill="#000" >70&#176;</text>
<text x="410" y="51.7" font-family="Liberation Sans" font-size="10.5" text-anchor="middle" fill="#000" >75&#176;</text>
<text x="445" y="48.1" font-family="Liberation Sans" font-size="10.5" text-anchor="middle" fill="#000" >82&#176;</text>
<text x="511" y="27" font-family="Liberation Sans" font-size="10.5" text-anchor="middle" fill="#000" >86&#176;</text>
<text x="571.5" y="27" font-family="Liberation Sans" font-size="10.5" text-anchor="middle" fill="#000" >90&#176;</text>
<line x1="505.4" y1="32.3" x2="509" y2="27.5" stroke="#444" stroke-width="0.6" />
<line x1="557" y1="28.7" x2="563" y2="25" stroke="#444" stroke-width="0.6" />
<rect x="278.5" y="188.5" width="394" height="130" fill="none" stroke="#3a3a3a" stroke-width="1"/>
<line x1="278.5" y1="301" x2="281.5" y2="301" stroke="#3a3a3a" stroke-width="1" />
<line x1="672.5" y1="301" x2="669.5" y2="301" stroke="#3a3a3a" stroke-width="1" />
<line x1="278.5" y1="266" x2="281.5" y2="266" stroke="#3a3a3a" stroke-width="1" />
<line x1="672.5" y1="266" x2="669.5" y2="266" stroke="#3a3a3a" stroke-width="1" />
<line x1="278.5" y1="231" x2="281.5" y2="231" stroke="#3a3a3a" stroke-width="1" />
<line x1="672.5" y1="231" x2="669.5" y2="231" stroke="#3a3a3a" stroke-width="1" />
<line x1="278.5" y1="196" x2="281.5" y2="196" stroke="#3a3a3a" stroke-width="1" />
<line x1="672.5" y1="196" x2="669.5" y2="196" stroke="#3a3a3a" stroke-width="1" />
<line x1="278.5" y1="318.5" x2="280.5" y2="318.5" stroke="#3a3a3a" stroke-width="1" />
<line x1="672.5" y1="318.5" x2="670.5" y2="318.5" stroke="#3a3a3a" stroke-width="1" />
<line x1="278.5" y1="283.5" x2="280.5" y2="283.5" stroke="#3a3a3a" stroke-width="1" />
<line x1="672.5" y1="283.5" x2="670.5" y2="283.5" stroke="#3a3a3a" stroke-width="1" />
<line x1="278.5" y1="248.5" x2="280.5" y2="248.5" stroke="#3a3a3a" stroke-width="1" />
<line x1="672.5" y1="248.5" x2="670.5" y2="248.5" stroke="#3a3a3a" stroke-width="1" />
<line x1="278.5" y1="213.5" x2="280.5" y2="213.5" stroke="#3a3a3a" stroke-width="1" />
<line x1="672.5" y1="213.5" x2="670.5" y2="213.5" stroke="#3a3a3a" stroke-width="1" />
<line x1="409.84" y1="318.5" x2="409.84" y2="315.5" stroke="#3a3a3a" stroke-width="1" />
<line x1="409.84" y1="188.5" x2="409.84" y2="191.5" stroke="#3a3a3a" stroke-width="1" />
<line x1="541.18" y1="318.5" x2="541.18" y2="315.5" stroke="#3a3a3a" stroke-width="1" />
<line x1="541.18" y1="188.5" x2="541.18" y2="191.5" stroke="#3a3a3a" stroke-width="1" />
<line x1="344.17" y1="318.5" x2="344.17" y2="316.5" stroke="#3a3a3a" stroke-width="1" />
<line x1="344.17" y1="188.5" x2="344.17" y2="190.5" stroke="#3a3a3a" stroke-width="1" />
<line x1="475.51" y1="318.5" x2="475.51" y2="316.5" stroke="#3a3a3a" stroke-width="1" />
<line x1="475.51" y1="188.5" x2="475.51" y2="190.5" stroke="#3a3a3a" stroke-width="1" />
<line x1="606.85" y1="318.5" x2="606.85" y2="316.5" stroke="#3a3a3a" stroke-width="1" />
<line x1="606.85" y1="188.5" x2="606.85" y2="190.5" stroke="#3a3a3a" stroke-width="1" />
<text x="274.5" y="305.6" font-family="Liberation Sans" font-size="13.5" text-anchor="end" fill="#000" >0</text>
<text x="274.5" y="270.6" font-family="Liberation Sans" font-size="13.5" text-anchor="end" fill="#000" >2</text>
<text x="274.5" y="235.6" font-family="Liberation Sans" font-size="13.5" text-anchor="end" fill="#000" >4</text>
<text x="274.5" y="200.6" font-family="Liberation Sans" font-size="13.5" text-anchor="end" fill="#000" >6</text>
<text x="278.5" y="332" font-family="Liberation Sans" font-size="13.5" text-anchor="middle" fill="#000" >0</text>
<text x="409.84" y="332" font-family="Liberation Sans" font-size="13.5" text-anchor="middle" fill="#000" >3</text>
<text x="541.18" y="332" font-family="Liberation Sans" font-size="13.5" text-anchor="middle" fill="#000" >6</text>
<text x="672.52" y="332" font-family="Liberation Sans" font-size="13.5" text-anchor="middle" fill="#000" >9</text>
<text x="248" y="189.8" font-family="Liberation Sans" font-size="19.5" text-anchor="start" font-weight="bold" fill="#000" >h</text>
<text x="0" y="0" font-family="Liberation Sans" font-size="16" text-anchor="middle" transform="translate(256.5 253.5) rotate(-90)">&#916;&#961;<tspan font-size="11.5" dy="3.5">xx</tspan><tspan dy="-3.5"> (m&#937; cm)</tspan></text>
<text x="284.6" y="201.8" font-family="Liberation Sans" font-size="15.8" text-anchor="start" fill="#000" >S75</text>
<text x="448.2" y="349" font-family="Liberation Sans" font-size="16.9">&#956;<tspan font-size="12.8" dy="5.1">0</tspan><tspan font-style="italic" dy="-5.1">H</tspan> (T)</text>
<g clip-path="url(#ch)">
<path d="M278.5,289.6 278.8,287.8 279.2,286.2 279.5,285.0 279.8,284.1 280.2,283.4 280.5,282.9 280.9,282.7 281.2,282.6 281.5,283.3 281.9,284.7 282.2,286.7 282.5,289.0 282.9,291.6 283.2,294.1 283.6,296.4 283.9,298.4 284.2,299.8 284.6,300.5 284.9,300.4 285.2,300.3 285.6,300.1 285.9,299.8 286.2,299.4 286.6,299.0 286.9,298.5 287.3,297.9 287.6,297.4 287.9,296.8 288.3,296.1 288.6,295.5 288.9,294.9 289.3,294.3 289.6,293.7 290.0,293.1 290.3,292.6 290.6,292.1 291.0,291.7 291.3,291.3 291.6,291.0 292.4,290.7 293.2,290.8 293.9,291.4 294.7,292.2 295.4,293.3 296.2,294.4 297.0,295.4 297.7,296.4 298.5,297.1 299.2,297.5 300.0,297.4 300.8,297.1 301.5,296.5 302.3,295.8 303.1,294.8 303.8,293.8 304.6,292.7 305.3,291.5 306.1,290.4 306.9,289.3 307.6,288.3 308.4,287.4 309.1,286.7 309.9,286.2 310.7,286.0 311.4,286.0 312.2,286.1 313.0,286.3 313.7,286.6 314.5,286.9 315.2,287.4 316.0,287.9 316.8,288.5 317.5,289.1 318.3,289.8 319.0,290.6 319.8,291.4 320.6,292.2 321.3,293.1 322.1,294.0 322.9,294.9 323.6,295.9 324.4,296.8 325.1,297.8 325.9,298.8 326.7,299.8 327.4,300.8 328.2,301.8 328.9,302.8 329.7,303.7 330.5,304.7 331.2,305.6 332.0,306.5 332.7,307.3 333.5,308.1 334.3,308.9 335.0,309.6 335.8,310.3 336.6,310.9 337.3,311.4 338.1,311.9 338.8,312.3 339.6,312.6 340.4,312.9 341.1,313.0 341.9,313.1 342.6,313.1 343.4,313.0 344.2,312.9 347.3,312.2 350.4,310.9 353.4,309.2 356.5,307.2 359.6,304.8 362.7,302.2 365.8,299.4 368.9,296.6 372.0,293.7 375.1,290.9 378.2,288.3 381.3,285.8 384.4,283.7 387.5,281.9 390.6,280.5 393.7,279.6 396.7,279.3 399.8,279.4 402.9,279.7 406.0,280.1 409.1,280.7 412.2,281.5 415.3,282.4 418.4,283.3 421.5,284.4 424.6,285.5 427.7,286.8 430.8,288.0 433.9,289.3 437.0,290.6 440.0,291.9 443.1,293.2 446.2,294.5 449.3,295.7 452.4,296.9 455.5,298.0 458.6,299.0 461.7,299.9 464.8,300.7 467.9,301.4 471.0,301.9 474.1,302.4 477.2,302.9 480.2,303.4 483.3,303.8 486.4,304.3 489.5,304.6 492.6,304.9 495.7,305.2 498.8,305.3 501.9,305.4 505.0,305.3 508.1,305.3 511.2,305.1 514.3,305.0 517.4,304.8 520.5,304.6 523.5,304.3 526.6,304.1 529.7,303.8 532.8,303.5 535.9,303.3 539.0,303.0 542.1,302.7 545.2,302.4 548.3,302.1 551.4,301.8 554.5,301.4 557.6,301.0 560.7,300.6 563.8,300.1 566.8,299.7 569.9,299.3 573.0,298.8 576.1,298.4 579.2,297.9 582.3,297.5 585.4,297.1 588.5,296.6 591.6,296.2 594.7,295.8 597.8,295.5 600.9,295.1 604.0,294.8 607.1,294.4 610.1,294.1 613.2,293.8 616.3,293.4 619.4,293.1 622.5,292.8 625.6,292.5 628.7,292.1 631.8,291.8 634.9,291.5 638.0,291.2 641.1,290.9 644.2,290.6 647.3,290.3 650.3,290.0 653.4,289.7 656.5,289.4 659.6,289.2 662.7,288.9 665.8,288.6 668.9,288.4 672.0,288.1 675.1,287.8 678.2,287.6 681.3,287.4" fill="none" stroke="#4c7cf0" stroke-width="0.9" stroke-linejoin="round" />
<path d="M278.5,279.3 278.8,277.6 279.2,276.2 279.5,275.1 279.8,274.3 280.2,273.7 280.5,273.3 280.9,273.0 281.2,273.0 281.5,273.6 281.9,274.9 282.2,276.8 282.5,278.9 282.9,281.3 283.2,283.7 283.6,285.9 283.9,287.7 284.2,289.0 284.6,289.6 284.9,289.6 285.2,289.5 285.6,289.3 285.9,289.1 286.2,288.8 286.6,288.5 286.9,288.1 287.3,287.6 287.6,287.2 287.9,286.7 288.3,286.2 288.6,285.7 288.9,285.2 289.3,284.7 289.6,284.2 290.0,283.7 290.3,283.3 290.6,282.8 291.0,282.4 291.3,282.1 291.6,281.8 292.4,281.3 293.2,281.2 293.9,281.6 294.7,282.3 295.4,283.2 296.2,284.3 297.0,285.4 297.7,286.5 298.5,287.5 299.2,288.3 300.0,288.7 300.8,288.7 301.5,288.6 302.3,288.3 303.1,287.8 303.8,287.3 304.6,286.6 305.3,285.9 306.1,285.1 306.9,284.2 307.6,283.3 308.4,282.3 309.1,281.4 309.9,280.4 310.7,279.5 311.4,278.6 312.2,277.8 313.0,277.0 313.7,276.3 314.5,275.7 315.2,275.2 316.0,274.9 316.8,274.6 317.5,274.6 318.3,274.6 319.0,274.8 319.8,275.0 320.6,275.3 321.3,275.8 322.1,276.2 322.9,276.8 323.6,277.4 324.4,278.1 325.1,278.8 325.9,279.6 326.7,280.4 327.4,281.2 328.2,282.1 328.9,283.1 329.7,284.0 330.5,285.0 331.2,286.0 332.0,286.9 332.7,287.9 333.5,288.9 334.3,289.9 335.0,290.9 335.8,291.8 336.6,292.8 337.3,293.7 338.1,294.6 338.8,295.4 339.6,296.2 340.4,297.0 341.1,297.7 341.9,298.3 342.6,298.9 343.4,299.4 344.2,299.8 347.3,300.8 350.4,300.6 353.4,300.0 356.5,298.9 359.6,297.5 362.7,295.8 365.8,293.9 368.9,291.7 372.0,289.5 375.1,287.2 378.2,284.9 381.3,282.6 384.4,280.5 387.5,278.5 390.6,276.7 393.7,275.2 396.7,274.1 399.8,273.3 402.9,273.0 406.0,273.0 409.1,273.2 412.2,273.5 415.3,273.9 418.4,274.4 421.5,274.9 424.6,275.5 427.7,276.2 430.8,277.0 433.9,277.7 437.0,278.6 440.0,279.4 443.1,280.2 446.2,281.1 449.3,281.9 452.4,282.8 455.5,283.6 458.6,284.3 461.7,285.0 464.8,285.7 467.9,286.3 471.0,286.8 474.1,287.4 477.2,287.9 480.2,288.5 483.3,289.1 486.4,289.7 489.5,290.3 492.6,290.8 495.7,291.4 498.8,291.9 501.9,292.3 505.0,292.7 508.1,293.1 511.2,293.3 514.3,293.5 517.4,293.6 520.5,293.6 523.5,293.6 526.6,293.5 529.7,293.4 532.8,293.3 535.9,293.1 539.0,293.0 542.1,292.8 545.2,292.6 548.3,292.4 551.4,292.1 554.5,291.8 557.6,291.5 560.7,291.1 563.8,290.7 566.8,290.3 569.9,289.9 573.0,289.5 576.1,289.1 579.2,288.7 582.3,288.2 585.4,287.8 588.5,287.4 591.6,287.0 594.7,286.7 597.8,286.3 600.9,286.0 604.0,285.7 607.1,285.4 610.1,285.1 613.2,284.8 616.3,284.5 619.4,284.2 622.5,283.9 625.6,283.6 628.7,283.3 631.8,283.1 634.9,282.8 638.0,282.5 641.1,282.2 644.2,281.9 647.3,281.7 650.3,281.4 653.4,281.2 656.5,280.9 659.6,280.6 662.7,280.4 665.8,280.1 668.9,279.9 672.0,279.6 675.1,279.4 678.2,279.2 681.3,278.9" fill="none" stroke="#6470f0" stroke-width="0.9" stroke-linejoin="round" />
<path d="M278.5,269.9 278.8,268.8 279.2,268.0 279.5,267.4 279.8,266.9 280.2,266.5 280.5,266.3 280.9,266.1 281.2,266.0 281.5,266.0 281.9,266.2 282.2,267.0 282.5,268.1 282.9,269.4 283.2,270.9 283.6,272.3 283.9,273.5 284.2,274.3 284.6,274.7 284.9,274.7 285.2,274.7 285.6,274.6 285.9,274.5 286.2,274.4 286.6,274.3 286.9,274.1 287.3,274.0 287.6,273.8 287.9,273.6 288.3,273.4 288.6,273.1 288.9,272.9 289.3,272.7 289.6,272.5 290.0,272.3 290.3,272.1 290.6,271.8 291.0,271.7 291.3,271.5 291.6,271.3 292.4,271.0 293.2,270.8 293.9,270.7 294.7,270.9 295.4,271.2 296.2,271.6 297.0,272.2 297.7,272.8 298.5,273.5 299.2,274.2 300.0,274.8 300.8,275.4 301.5,275.9 302.3,276.3 303.1,276.5 303.8,276.5 304.6,276.4 305.3,276.1 306.1,275.8 306.9,275.3 307.6,274.8 308.4,274.2 309.1,273.6 309.9,272.9 310.7,272.2 311.4,271.4 312.2,270.6 313.0,269.8 313.7,269.1 314.5,268.3 315.2,267.6 316.0,266.9 316.8,266.3 317.5,265.7 318.3,265.2 319.0,264.8 319.8,264.5 320.6,264.3 321.3,264.3 322.1,264.3 322.9,264.3 323.6,264.5 324.4,264.7 325.1,264.9 325.9,265.1 326.7,265.5 327.4,265.8 328.2,266.2 328.9,266.6 329.7,267.1 330.5,267.6 331.2,268.1 332.0,268.6 332.7,269.2 333.5,269.8 334.3,270.4 335.0,271.0 335.8,271.6 336.6,272.3 337.3,272.9 338.1,273.6 338.8,274.3 339.6,275.0 340.4,275.6 341.1,276.3 341.9,277.0 342.6,277.6 343.4,278.3 344.2,278.9 347.3,281.3 350.4,283.3 353.4,284.8 356.5,285.5 359.6,285.5 362.7,285.2 365.8,284.5 368.9,283.6 372.0,282.4 375.1,281.1 378.2,279.7 381.3,278.2 384.4,276.6 387.5,275.0 390.6,273.4 393.7,271.9 396.7,270.5 399.8,269.2 402.9,268.1 406.0,267.3 409.1,266.7 412.2,266.4 415.3,266.4 418.4,266.5 421.5,266.6 424.6,266.8 427.7,267.1 430.8,267.4 433.9,267.8 437.0,268.2 440.0,268.6 443.1,269.1 446.2,269.5 449.3,270.0 452.4,270.5 455.5,270.9 458.6,271.4 461.7,271.8 464.8,272.2 467.9,272.6 471.0,273.0 474.1,273.3 477.2,273.7 480.2,274.1 483.3,274.5 486.4,274.9 489.5,275.3 492.6,275.7 495.7,276.1 498.8,276.5 501.9,277.0 505.0,277.4 508.1,277.7 511.2,278.1 514.3,278.5 517.4,278.8 520.5,279.1 523.5,279.4 526.6,279.7 529.7,279.9 532.8,280.1 535.9,280.3 539.0,280.4 542.1,280.5 545.2,280.5 548.3,280.5 551.4,280.4 554.5,280.3 557.6,280.2 560.7,280.0 563.8,279.7 566.8,279.5 569.9,279.2 573.0,278.9 576.1,278.6 579.2,278.3 582.3,277.9 585.4,277.6 588.5,277.3 591.6,276.9 594.7,276.6 597.8,276.3 600.9,276.1 604.0,275.8 607.1,275.5 610.1,275.2 613.2,275.0 616.3,274.7 619.4,274.4 622.5,274.1 625.6,273.8 628.7,273.5 631.8,273.2 634.9,273.0 638.0,272.7 641.1,272.4 644.2,272.1 647.3,271.8 650.3,271.4 653.4,271.1 656.5,270.8 659.6,270.5 662.7,270.2 665.8,269.9 668.9,269.6 672.0,269.3 675.1,268.9 678.2,268.6 681.3,268.3" fill="none" stroke="#7c64f0" stroke-width="0.9" stroke-linejoin="round" />
<path d="M278.5,259.5 278.8,258.9 279.2,258.3 279.5,257.9 279.8,257.7 280.2,257.5 280.5,257.3 280.9,257.3 281.2,257.3 281.5,257.3 281.9,257.4 282.2,258.0 282.5,258.9 282.9,260.0 283.2,261.2 283.6,262.3 283.9,263.2 284.2,263.9 284.6,264.2 284.9,264.2 285.2,264.2 285.6,264.1 285.9,264.1 286.2,264.0 286.6,263.8 286.9,263.7 287.3,263.6 287.6,263.4 287.9,263.2 288.3,263.0 288.6,262.9 288.9,262.7 289.3,262.5 289.6,262.3 290.0,262.1 290.3,261.9 290.6,261.7 291.0,261.6 291.3,261.4 291.6,261.3 292.4,261.0 293.2,260.8 293.9,260.8 294.7,260.9 295.4,261.1 296.2,261.5 297.0,261.9 297.7,262.4 298.5,263.0 299.2,263.6 300.0,264.2 300.8,264.7 301.5,265.2 302.3,265.6 303.1,266.0 303.8,266.1 304.6,266.2 305.3,266.1 306.1,265.9 306.9,265.7 307.6,265.4 308.4,265.0 309.1,264.6 309.9,264.1 310.7,263.6 311.4,263.0 312.2,262.4 313.0,261.8 313.7,261.1 314.5,260.4 315.2,259.8 316.0,259.1 316.8,258.4 317.5,257.7 318.3,257.1 319.0,256.5 319.8,255.9 320.6,255.3 321.3,254.8 322.1,254.3 322.9,253.9 323.6,253.5 324.4,253.3 325.1,253.1 325.9,252.9 326.7,252.9 327.4,252.9 328.2,253.0 328.9,253.1 329.7,253.3 330.5,253.5 331.2,253.7 332.0,254.0 332.7,254.3 333.5,254.6 334.3,255.0 335.0,255.4 335.8,255.9 336.6,256.3 337.3,256.8 338.1,257.3 338.8,257.8 339.6,258.4 340.4,258.9 341.1,259.5 341.9,260.1 342.6,260.6 343.4,261.2 344.2,261.8 347.3,264.2 350.4,266.5 353.4,268.5 356.5,270.2 359.6,271.3 362.7,271.8 365.8,271.7 368.9,271.4 372.0,271.0 375.1,270.4 378.2,269.8 381.3,269.0 384.4,268.1 387.5,267.2 390.6,266.2 393.7,265.2 396.7,264.3 399.8,263.3 402.9,262.4 406.0,261.6 409.1,260.8 412.2,260.2 415.3,259.6 418.4,259.2 421.5,259.0 424.6,259.0 427.7,259.0 430.8,259.1 433.9,259.2 437.0,259.3 440.0,259.5 443.1,259.6 446.2,259.8 449.3,260.0 452.4,260.2 455.5,260.5 458.6,260.7 461.7,260.9 464.8,261.1 467.9,261.3 471.0,261.5 474.1,261.7 477.2,262.0 480.2,262.2 483.3,262.5 486.4,262.8 489.5,263.1 492.6,263.5 495.7,263.8 498.8,264.1 501.9,264.5 505.0,264.8 508.1,265.1 511.2,265.5 514.3,265.8 517.4,266.1 520.5,266.4 523.5,266.6 526.6,266.9 529.7,267.1 532.8,267.3 535.9,267.5 539.0,267.7 542.1,267.8 545.2,267.9 548.3,267.9 551.4,267.9 554.5,267.9 557.6,267.9 560.7,267.8 563.8,267.7 566.8,267.6 569.9,267.5 573.0,267.4 576.1,267.3 579.2,267.2 582.3,267.0 585.4,266.9 588.5,266.7 591.6,266.6 594.7,266.4 597.8,266.3 600.9,266.1 604.0,266.0 607.1,265.8 610.1,265.6 613.2,265.5 616.3,265.3 619.4,265.1 622.5,264.9 625.6,264.7 628.7,264.5 631.8,264.2 634.9,264.0 638.0,263.8 641.1,263.5 644.2,263.3 647.3,263.0 650.3,262.7 653.4,262.4 656.5,262.2 659.6,261.9 662.7,261.6 665.8,261.3 668.9,261.0 672.0,260.7 675.1,260.4 678.2,260.0 681.3,259.7" fill="none" stroke="#9860f0" stroke-width="0.9" stroke-linejoin="round" />
<path d="M278.5,250.9 278.8,250.5 279.2,250.1 279.5,249.8 279.8,249.7 280.2,249.5 280.5,249.4 280.9,249.4 281.2,249.4 281.5,249.4 281.9,249.5 282.2,249.9 282.5,250.5 282.9,251.3 283.2,252.2 283.6,253.1 283.9,253.9 284.2,254.6 284.6,255.2 284.9,255.5 285.2,255.5 285.6,255.5 285.9,255.4 286.2,255.4 286.6,255.3 286.9,255.2 287.3,255.1 287.6,254.9 287.9,254.8 288.3,254.7 288.6,254.5 288.9,254.3 289.3,254.2 289.6,254.0 290.0,253.8 290.3,253.7 290.6,253.5 291.0,253.3 291.3,253.1 291.6,253.0 292.4,252.6 293.2,252.4 293.9,252.1 294.7,252.0 295.4,252.0 296.2,252.2 297.0,252.7 297.7,253.2 298.5,253.9 299.2,254.7 300.0,255.6 300.8,256.4 301.5,257.3 302.3,258.0 303.1,258.6 303.8,259.1 304.6,259.4 305.3,259.5 306.1,259.5 306.9,259.4 307.6,259.2 308.4,259.0 309.1,258.7 309.9,258.3 310.7,257.9 311.4,257.5 312.2,257.0 313.0,256.5 313.7,256.0 314.5,255.5 315.2,254.9 316.0,254.3 316.8,253.7 317.5,253.0 318.3,252.4 319.0,251.8 319.8,251.1 320.6,250.5 321.3,249.9 322.1,249.3 322.9,248.7 323.6,248.1 324.4,247.6 325.1,247.1 325.9,246.6 326.7,246.2 327.4,245.8 328.2,245.4 328.9,245.1 329.7,244.9 330.5,244.7 331.2,244.6 332.0,244.5 332.7,244.5 333.5,244.5 334.3,244.6 335.0,244.7 335.8,244.9 336.6,245.1 337.3,245.3 338.1,245.6 338.8,245.9 339.6,246.2 340.4,246.5 341.1,246.9 341.9,247.3 342.6,247.7 343.4,248.2 344.2,248.6 347.3,250.6 350.4,252.6 353.4,254.7 356.5,256.6 359.6,258.2 362.7,259.5 365.8,260.3 368.9,260.4 372.0,260.3 375.1,260.1 378.2,259.7 381.3,259.3 384.4,258.8 387.5,258.3 390.6,257.6 393.7,257.0 396.7,256.3 399.8,255.6 402.9,254.8 406.0,254.1 409.1,253.4 412.2,252.7 415.3,252.1 418.4,251.5 421.5,251.0 424.6,250.5 427.7,250.2 430.8,249.9 433.9,249.8 437.0,249.7 440.0,249.7 443.1,249.8 446.2,249.8 449.3,249.8 452.4,249.9 455.5,249.9 458.6,250.0 461.7,250.1 464.8,250.1 467.9,250.2 471.0,250.3 474.1,250.4 477.2,250.6 480.2,250.8 483.3,251.0 486.4,251.3 489.5,251.6 492.6,251.9 495.7,252.3 498.8,252.6 501.9,253.0 505.0,253.4 508.1,253.8 511.2,254.2 514.3,254.6 517.4,255.0 520.5,255.4 523.5,255.8 526.6,256.2 529.7,256.5 532.8,256.8 535.9,257.1 539.0,257.3 542.1,257.6 545.2,257.7 548.3,257.8 551.4,257.9 554.5,257.9 557.6,257.9 560.7,257.9 563.8,257.8 566.8,257.8 569.9,257.7 573.0,257.6 576.1,257.5 579.2,257.3 582.3,257.2 585.4,257.1 588.5,256.9 591.6,256.8 594.7,256.6 597.8,256.5 600.9,256.3 604.0,256.2 607.1,256.0 610.1,255.8 613.2,255.7 616.3,255.5 619.4,255.3 622.5,255.1 625.6,254.9 628.7,254.6 631.8,254.4 634.9,254.2 638.0,253.9 641.1,253.7 644.2,253.4 647.3,253.1 650.3,252.9 653.4,252.6 656.5,252.3 659.6,252.0 662.7,251.7 665.8,251.4 668.9,251.1 672.0,250.7 675.1,250.4 678.2,250.1 681.3,249.7" fill="none" stroke="#b05cf0" stroke-width="0.9" stroke-linejoin="round" />
<path d="M278.5,240.6 278.8,240.4 279.2,240.2 279.5,240.0 279.8,239.9 280.2,239.8 280.5,239.8 280.9,239.8 281.2,239.8 281.5,239.8 281.9,239.9 282.2,240.2 282.5,240.7 282.9,241.4 283.2,242.1 283.6,242.9 283.9,243.6 284.2,244.2 284.6,244.7 284.9,245.0 285.2,245.0 285.6,245.0 285.9,245.0 286.2,244.9 286.6,244.8 286.9,244.8 287.3,244.7 287.6,244.6 287.9,244.5 288.3,244.4 288.6,244.3 288.9,244.1 289.3,244.0 289.6,243.9 290.0,243.7 290.3,243.6 290.6,243.4 291.0,243.2 291.3,243.1 291.6,242.9 292.4,242.6 293.2,242.2 293.9,241.8 294.7,241.5 295.4,241.2 296.2,241.0 297.0,240.8 297.7,240.7 298.5,240.6 299.2,240.7 300.0,240.9 300.8,241.2 301.5,241.7 302.3,242.2 303.1,242.9 303.8,243.6 304.6,244.3 305.3,245.0 306.1,245.8 306.9,246.5 307.6,247.2 308.4,247.8 309.1,248.3 309.9,248.7 310.7,249.0 311.4,249.2 312.2,249.2 313.0,249.1 313.7,249.0 314.5,248.9 315.2,248.7 316.0,248.5 316.8,248.2 317.5,248.0 318.3,247.6 319.0,247.3 319.8,246.9 320.6,246.5 321.3,246.1 322.1,245.7 322.9,245.3 323.6,244.8 324.4,244.4 325.1,243.9 325.9,243.4 326.7,243.0 327.4,242.5 328.2,242.1 328.9,241.6 329.7,241.2 330.5,240.8 331.2,240.4 332.0,240.0 332.7,239.6 333.5,239.3 334.3,239.0 335.0,238.7 335.8,238.5 336.6,238.2 337.3,238.1 338.1,237.9 338.8,237.9 339.6,237.8 340.4,237.8 341.1,237.9 341.9,238.0 342.6,238.1 343.4,238.2 344.2,238.4 347.3,239.3 350.4,240.5 353.4,241.9 356.5,243.5 359.6,245.0 362.7,246.5 365.8,247.7 368.9,248.5 372.0,249.0 375.1,249.0 378.2,248.9 381.3,248.6 384.4,248.3 387.5,247.9 390.6,247.5 393.7,247.0 396.7,246.4 399.8,245.8 402.9,245.2 406.0,244.5 409.1,243.9 412.2,243.3 415.3,242.7 418.4,242.1 421.5,241.5 424.6,241.1 427.7,240.6 430.8,240.3 433.9,240.0 437.0,239.8 440.0,239.8 443.1,239.8 446.2,239.8 449.3,239.8 452.4,239.8 455.5,239.9 458.6,239.9 461.7,240.0 464.8,240.0 467.9,240.1 471.0,240.1 474.1,240.2 477.2,240.3 480.2,240.5 483.3,240.6 486.4,240.8 489.5,241.0 492.6,241.3 495.7,241.5 498.8,241.8 501.9,242.1 505.0,242.4 508.1,242.7 511.2,243.0 514.3,243.3 517.4,243.7 520.5,244.0 523.5,244.3 526.6,244.7 529.7,245.0 532.8,245.3 535.9,245.6 539.0,245.9 542.1,246.2 545.2,246.5 548.3,246.7 551.4,247.0 554.5,247.2 557.6,247.4 560.7,247.6 563.8,247.7 566.8,247.8 569.9,247.9 573.0,248.0 576.1,248.0 579.2,248.0 582.3,247.9 585.4,247.9 588.5,247.8 591.6,247.7 594.7,247.5 597.8,247.4 600.9,247.2 604.0,247.0 607.1,246.8 610.1,246.6 613.2,246.3 616.3,246.0 619.4,245.7 622.5,245.4 625.6,245.0 628.7,244.7 631.8,244.3 634.9,243.9 638.0,243.5 641.1,243.1 644.2,242.6 647.3,242.1 650.3,241.6 653.4,241.1 656.5,240.6 659.6,240.1 662.7,239.5 665.8,239.0 668.9,238.4 672.0,237.8 675.1,237.2 678.2,236.5 681.3,235.9" fill="none" stroke="#c85cf0" stroke-width="0.9" stroke-linejoin="round" />
<path d="M278.5,231.5 278.8,231.2 279.2,230.9 279.5,230.8 279.8,230.7 280.2,230.7 280.5,230.7 280.9,231.1 281.2,231.6 281.5,232.2 281.9,232.9 282.2,233.4 282.5,233.8 282.9,234.0 283.2,234.0 283.6,234.0 283.9,233.9 284.2,233.9 284.6,233.9 284.9,233.9 285.2,233.8 285.6,233.8 285.9,233.7 286.2,233.7 286.6,233.6 286.9,233.5 287.3,233.5 287.6,233.4 287.9,233.3 288.3,233.2 288.6,233.1 288.9,233.1 289.3,233.0 289.6,232.9 290.0,232.8 290.3,232.7 290.6,232.6 291.0,232.6 291.3,232.5 291.6,232.4 292.4,232.2 293.2,232.0 293.9,231.9 294.7,231.7 295.4,231.6 296.2,231.5 297.0,231.4 297.7,231.4 298.5,231.4 299.2,231.4 300.0,231.4 300.8,231.5 301.5,231.5 302.3,231.6 303.1,231.7 303.8,231.9 304.6,232.0 305.3,232.1 306.1,232.3 306.9,232.4 307.6,232.6 308.4,232.8 309.1,232.9 309.9,233.1 310.7,233.3 311.4,233.5 312.2,233.6 313.0,233.8 313.7,234.0 314.5,234.1 315.2,234.3 316.0,234.4 316.8,234.5 317.5,234.7 318.3,234.8 319.0,234.8 319.8,234.9 320.6,235.0 321.3,235.0 322.1,235.0 322.9,235.0 323.6,235.0 324.4,235.0 325.1,234.9 325.9,234.9 326.7,234.8 327.4,234.7 328.2,234.6 328.9,234.5 329.7,234.4 330.5,234.3 331.2,234.1 332.0,234.0 332.7,233.9 333.5,233.7 334.3,233.6 335.0,233.4 335.8,233.2 336.6,233.1 337.3,232.9 338.1,232.7 338.8,232.5 339.6,232.4 340.4,232.2 341.1,232.0 341.9,231.8 342.6,231.7 343.4,231.5 344.2,231.3 347.3,230.7 350.4,230.2 353.4,229.8 356.5,229.6 359.6,229.6 362.7,229.8 365.8,230.1 368.9,230.5 372.0,230.9 375.1,231.4 378.2,231.8 381.3,232.3 384.4,232.6 387.5,232.9 390.6,233.1 393.7,233.1 396.7,233.0 399.8,232.9 402.9,232.8 406.0,232.6 409.1,232.4 412.2,232.2 415.3,232.0 418.4,231.8 421.5,231.6 424.6,231.5 427.7,231.4 430.8,231.4 433.9,231.4 437.0,231.4 440.0,231.5 443.1,231.6 446.2,231.7 449.3,231.9 452.4,232.0 455.5,232.2 458.6,232.3 461.7,232.4 464.8,232.5 467.9,232.6 471.0,232.6 474.1,232.6 477.2,232.6 480.2,232.6 483.3,232.6 486.4,232.6 489.5,232.6 492.6,232.6 495.7,232.6 498.8,232.6 501.9,232.6 505.0,232.6 508.1,232.6 511.2,232.6 514.3,232.6 517.4,232.6 520.5,232.6 523.5,232.6 526.6,232.6 529.7,232.6 532.8,232.6 535.9,232.6 539.0,232.6 542.1,232.6 545.2,232.6 548.3,232.7 551.4,232.8 554.5,233.0 557.6,233.1 560.7,233.3 563.8,233.5 566.8,233.7 569.9,233.9 573.0,234.1 576.1,234.3 579.2,234.5 582.3,234.7 585.4,234.8 588.5,235.0 591.6,235.1 594.7,235.1 597.8,235.2 600.9,235.2 604.0,235.2 607.1,235.2 610.1,235.1 613.2,235.1 616.3,235.0 619.4,235.0 622.5,234.9 625.6,234.8 628.7,234.7 631.8,234.6 634.9,234.5 638.0,234.4 641.1,234.2 644.2,234.1 647.3,233.9 650.3,233.7 653.4,233.5 656.5,233.3 659.6,233.1 662.7,232.8 665.8,232.6 668.9,232.3 672.0,232.1 675.1,231.8 678.2,231.5 681.3,231.2" fill="none" stroke="#dc5cf0" stroke-width="0.9" stroke-linejoin="round" />
<path d="M278.5,225.8 278.8,222.7 279.2,219.8 279.5,217.0 279.8,214.3 280.2,211.8 280.5,209.4 280.9,207.1 281.2,204.5 281.5,201.9 281.9,199.6 282.2,197.9 282.5,196.9 282.9,198.6 283.2,206.0 283.6,215.8 283.9,224.2 284.2,227.3 284.6,227.3 284.9,227.2 285.2,227.1 285.6,227.0 285.9,226.8 286.2,226.6 286.6,226.4 286.9,226.2 287.3,225.9 287.6,225.6 287.9,225.4 288.3,225.1 288.6,224.8 288.9,224.5 289.3,224.2 289.6,223.9 290.0,223.6 290.3,223.3 290.6,223.1 291.0,222.8 291.3,222.6 291.6,222.4 292.4,222.1 293.2,221.9 293.9,221.9 294.7,221.9 295.4,221.9 296.2,222.0 297.0,222.0 297.7,222.1 298.5,222.1 299.2,222.2 300.0,222.3 300.8,222.3 301.5,222.4 302.3,222.5 303.1,222.6 303.8,222.7 304.6,222.8 305.3,222.9 306.1,223.1 306.9,223.2 307.6,223.3 308.4,223.4 309.1,223.5 309.9,223.7 310.7,223.8 311.4,223.9 312.2,224.0 313.0,224.2 313.7,224.3 314.5,224.4 315.2,224.5 316.0,224.6 316.8,224.8 317.5,224.9 318.3,225.0 319.0,225.1 319.8,225.2 320.6,225.3 321.3,225.3 322.1,225.4 322.9,225.5 323.6,225.6 324.4,225.6 325.1,225.7 325.9,225.7 326.7,225.7 327.4,225.7 328.2,225.7 328.9,225.7 329.7,225.7 330.5,225.7 331.2,225.7 332.0,225.6 332.7,225.6 333.5,225.5 334.3,225.4 335.0,225.4 335.8,225.3 336.6,225.2 337.3,225.1 338.1,225.0 338.8,224.9 339.6,224.8 340.4,224.7 341.1,224.6 341.9,224.5 342.6,224.4 343.4,224.3 344.2,224.2 347.3,223.7 350.4,223.4 353.4,223.2 356.5,223.1 359.6,223.1 362.7,223.1 365.8,223.2 368.9,223.2 372.0,223.2 375.1,223.3 378.2,223.3 381.3,223.4 384.4,223.4 387.5,223.5 390.6,223.5 393.7,223.6 396.7,223.6 399.8,223.7 402.9,223.7 406.0,223.7 409.1,223.8 412.2,223.8 415.3,223.8 418.4,223.8 421.5,223.8 424.6,223.8 427.7,223.8 430.8,223.8 433.9,223.8 437.0,223.8 440.0,223.8 443.1,223.7 446.2,223.7 449.3,223.7 452.4,223.7 455.5,223.7 458.6,223.7 461.7,223.7 464.8,223.7 467.9,223.7 471.0,223.7 474.1,223.7 477.2,223.7 480.2,223.8 483.3,223.9 486.4,224.0 489.5,224.2 492.6,224.3 495.7,224.5 498.8,224.6 501.9,224.8 505.0,225.0 508.1,225.1 511.2,225.3 514.3,225.5 517.4,225.6 520.5,225.8 523.5,225.9 526.6,226.0 529.7,226.1 532.8,226.2 535.9,226.3 539.0,226.3 542.1,226.3 545.2,226.2 548.3,226.2 551.4,226.1 554.5,226.1 557.6,226.0 560.7,225.8 563.8,225.7 566.8,225.6 569.9,225.5 573.0,225.3 576.1,225.2 579.2,225.0 582.3,224.8 585.4,224.7 588.5,224.5 591.6,224.4 594.7,224.2 597.8,224.1 600.9,224.0 604.0,223.8 607.1,223.7 610.1,223.6 613.2,223.4 616.3,223.3 619.4,223.1 622.5,223.0 625.6,222.8 628.7,222.7 631.8,222.6 634.9,222.4 638.0,222.3 641.1,222.1 644.2,221.9 647.3,221.8 650.3,221.6 653.4,221.5 656.5,221.3 659.6,221.2 662.7,221.0 665.8,220.8 668.9,220.7 672.0,220.5 675.1,220.3 678.2,220.1 681.3,220.0" fill="none" stroke="#ec5ce0" stroke-width="0.9" stroke-linejoin="round" />
<path d="M278.5,220.5 278.8,217.7 279.2,214.9 279.5,212.4 279.8,210.0 280.2,207.7 280.5,205.7 280.9,203.8 281.2,201.8 281.5,199.8 281.9,198.1 282.2,196.7 282.5,196.1 282.9,196.7 283.2,199.8 283.6,204.7 283.9,210.4 284.2,216.1 284.6,220.8 284.9,223.6 285.2,224.0 285.6,224.0 285.9,223.9 286.2,223.9 286.6,223.8 286.9,223.7 287.3,223.6 287.6,223.5 287.9,223.4 288.3,223.3 288.6,223.1 288.9,223.0 289.3,222.8 289.6,222.6 290.0,222.5 290.3,222.3 290.6,222.1 291.0,221.9 291.3,221.7 291.6,221.6 292.4,221.1 293.2,220.7 293.9,220.3 294.7,220.0 295.4,219.7 296.2,219.4 297.0,219.2 297.7,219.1 298.5,219.1 299.2,219.1 300.0,219.1 300.8,219.2 301.5,219.3 302.3,219.3 303.1,219.4 303.8,219.5 304.6,219.6 305.3,219.7 306.1,219.8 306.9,219.9 307.6,220.0 308.4,220.2 309.1,220.3 309.9,220.4 310.7,220.5 311.4,220.6 312.2,220.6 313.0,220.7 313.7,220.8 314.5,220.8 315.2,220.8 316.0,220.8 316.8,220.8 317.5,220.8 318.3,220.8 319.0,220.8 319.8,220.8 320.6,220.8 321.3,220.8 322.1,220.8 322.9,220.8 323.6,220.8 324.4,220.7 325.1,220.7 325.9,220.7 326.7,220.7 327.4,220.6 328.2,220.6 328.9,220.6 329.7,220.6 330.5,220.5 331.2,220.5 332.0,220.5 332.7,220.4 333.5,220.4 334.3,220.4 335.0,220.3 335.8,220.3 336.6,220.2 337.3,220.2 338.1,220.2 338.8,220.1 339.6,220.1 340.4,220.0 341.1,220.0 341.9,219.9 342.6,219.9 343.4,219.8 344.2,219.8 347.3,219.6 350.4,219.4 353.4,219.2 356.5,219.0 359.6,218.8 362.7,218.6 365.8,218.4 368.9,218.2 372.0,218.0 375.1,217.9 378.2,217.7 381.3,217.5 384.4,217.3 387.5,217.2 390.6,217.0 393.7,216.8 396.7,216.6 399.8,216.4 402.9,216.3 406.0,216.1 409.1,216.0 412.2,215.9 415.3,215.8 418.4,215.8 421.5,215.8 424.6,215.8 427.7,215.9 430.8,216.0 433.9,216.1 437.0,216.3 440.0,216.5 443.1,216.7 446.2,216.9 449.3,217.1 452.4,217.3 455.5,217.5 458.6,217.7 461.7,217.9 464.8,218.0 467.9,218.2 471.0,218.3 474.1,218.4 477.2,218.5 480.2,218.6 483.3,218.7 486.4,218.8 489.5,218.9 492.6,219.0 495.7,219.1 498.8,219.2 501.9,219.3 505.0,219.4 508.1,219.5 511.2,219.6 514.3,219.6 517.4,219.7 520.5,219.8 523.5,219.8 526.6,219.9 529.7,219.9 532.8,219.9 535.9,220.0 539.0,220.0 542.1,220.0 545.2,219.9 548.3,219.9 551.4,219.8 554.5,219.7 557.6,219.6 560.7,219.4 563.8,219.3 566.8,219.1 569.9,219.0 573.0,218.8 576.1,218.7 579.2,218.5 582.3,218.4 585.4,218.2 588.5,218.1 591.6,218.0 594.7,218.0 597.8,217.9 600.9,217.9 604.0,217.8 607.1,217.8 610.1,217.8 613.2,217.8 616.3,217.8 619.4,217.7 622.5,217.7 625.6,217.7 628.7,217.7 631.8,217.7 634.9,217.6 638.0,217.6 641.1,217.6 644.2,217.6 647.3,217.6 650.3,217.6 653.4,217.6 656.5,217.6 659.6,217.6 662.7,217.5 665.8,217.5 668.9,217.5 672.0,217.5 675.1,217.5 678.2,217.5 681.3,217.5" fill="none" stroke="#f060c0" stroke-width="0.9" stroke-linejoin="round" />
<path d="M278.5,213.5 278.8,211.4 279.2,209.5 279.5,207.6 279.8,205.9 280.2,204.3 280.5,202.8 280.9,201.4 281.2,200.0 281.5,198.6 281.9,197.3 282.2,196.4 282.5,195.9 282.9,196.0 283.2,196.8 283.6,198.1 283.9,200.0 284.2,202.1 284.6,204.6 284.9,207.1 285.2,209.7 285.6,212.1 285.9,214.4 286.2,216.4 286.6,217.9 286.9,218.9 287.3,219.3 287.6,219.3 287.9,219.3 288.3,219.2 288.6,219.2 288.9,219.1 289.3,219.1 289.6,219.0 290.0,219.0 290.3,218.9 290.6,218.8 291.0,218.7 291.3,218.6 291.6,218.5 292.4,218.2 293.2,217.9 293.9,217.6 294.7,217.3 295.4,217.0 296.2,216.7 297.0,216.3 297.7,216.0 298.5,215.7 299.2,215.4 300.0,215.1 300.8,214.8 301.5,214.6 302.3,214.4 303.1,214.2 303.8,214.1 304.6,214.0 305.3,214.0 306.1,214.0 306.9,214.1 307.6,214.1 308.4,214.2 309.1,214.3 309.9,214.4 310.7,214.6 311.4,214.7 312.2,214.9 313.0,215.0 313.7,215.2 314.5,215.4 315.2,215.6 316.0,215.7 316.8,215.9 317.5,216.1 318.3,216.3 319.0,216.5 319.8,216.7 320.6,216.9 321.3,217.0 322.1,217.2 322.9,217.3 323.6,217.4 324.4,217.6 325.1,217.7 325.9,217.7 326.7,217.8 327.4,217.9 328.2,217.9 328.9,217.9 329.7,217.9 330.5,217.9 331.2,217.8 332.0,217.8 332.7,217.8 333.5,217.8 334.3,217.7 335.0,217.7 335.8,217.7 336.6,217.6 337.3,217.6 338.1,217.5 338.8,217.5 339.6,217.4 340.4,217.4 341.1,217.3 341.9,217.3 342.6,217.2 343.4,217.2 344.2,217.1 347.3,216.9 350.4,216.6 353.4,216.3 356.5,216.1 359.6,215.8 362.7,215.5 365.8,215.2 368.9,214.9 372.0,214.6 375.1,214.3 378.2,214.0 381.3,213.7 384.4,213.4 387.5,213.2 390.6,212.9 393.7,212.7 396.7,212.4 399.8,212.2 402.9,211.9 406.0,211.7 409.1,211.5 412.2,211.4 415.3,211.3 418.4,211.2 421.5,211.2 424.6,211.3 427.7,211.3 430.8,211.4 433.9,211.4 437.0,211.5 440.0,211.7 443.1,211.8 446.2,211.9 449.3,212.1 452.4,212.2 455.5,212.3 458.6,212.5 461.7,212.6 464.8,212.8 467.9,212.9 471.0,213.0 474.1,213.2 477.2,213.3 480.2,213.5 483.3,213.6 486.4,213.8 489.5,214.0 492.6,214.2 495.7,214.4 498.8,214.5 501.9,214.7 505.0,214.9 508.1,215.1 511.2,215.2 514.3,215.4 517.4,215.6 520.5,215.7 523.5,215.8 526.6,215.9 529.7,216.0 532.8,216.1 535.9,216.1 539.0,216.1 542.1,216.1 545.2,216.1 548.3,216.0 551.4,216.0 554.5,215.9 557.6,215.8 560.7,215.7 563.8,215.6 566.8,215.5 569.9,215.3 573.0,215.2 576.1,215.0 579.2,214.9 582.3,214.8 585.4,214.6 588.5,214.5 591.6,214.3 594.7,214.2 597.8,214.1 600.9,214.0 604.0,213.9 607.1,213.8 610.1,213.7 613.2,213.6 616.3,213.5 619.4,213.4 622.5,213.3 625.6,213.2 628.7,213.1 631.8,213.0 634.9,212.9 638.0,212.8 641.1,212.7 644.2,212.6 647.3,212.5 650.3,212.4 653.4,212.3 656.5,212.2 659.6,212.1 662.7,212.0 665.8,211.9 668.9,211.8 672.0,211.7 675.1,211.6 678.2,211.5 681.3,211.4" fill="none" stroke="#f06098" stroke-width="0.9" stroke-linejoin="round" />
<path d="M278.5,207.4 278.8,206.0 279.2,204.7 279.5,203.5 279.8,202.3 280.2,201.3 280.5,200.3 280.9,199.4 281.2,198.4 281.5,197.5 281.9,196.6 282.2,196.0 282.5,195.7 282.9,195.7 283.2,195.9 283.6,196.4 283.9,197.0 284.2,197.8 284.6,198.6 284.9,199.7 285.2,200.8 285.6,201.9 285.9,203.2 286.2,204.4 286.6,205.7 286.9,207.0 287.3,208.2 287.6,209.4 287.9,210.6 288.3,211.6 288.6,212.6 288.9,213.4 289.3,214.1 289.6,214.6 290.0,214.9 290.3,215.1 290.6,215.1 291.0,215.0 291.3,215.0 291.6,215.0 292.4,214.8 293.2,214.6 293.9,214.3 294.7,214.0 295.4,213.6 296.2,213.2 297.0,212.8 297.7,212.3 298.5,211.9 299.2,211.4 300.0,210.8 300.8,210.3 301.5,209.8 302.3,209.3 303.1,208.8 303.8,208.3 304.6,207.9 305.3,207.5 306.1,207.1 306.9,206.7 307.6,206.4 308.4,206.2 309.1,206.0 309.9,205.9 310.7,205.8 311.4,205.8 312.2,205.8 313.0,205.8 313.7,205.9 314.5,205.9 315.2,206.0 316.0,206.0 316.8,206.1 317.5,206.1 318.3,206.2 319.0,206.3 319.8,206.4 320.6,206.5 321.3,206.6 322.1,206.7 322.9,206.8 323.6,207.0 324.4,207.1 325.1,207.2 325.9,207.3 326.7,207.5 327.4,207.6 328.2,207.8 328.9,207.9 329.7,208.0 330.5,208.2 331.2,208.3 332.0,208.5 332.7,208.6 333.5,208.8 334.3,208.9 335.0,209.1 335.8,209.2 336.6,209.4 337.3,209.5 338.1,209.7 338.8,209.8 339.6,210.0 340.4,210.1 341.1,210.2 341.9,210.4 342.6,210.5 343.4,210.6 344.2,210.7 347.3,211.2 350.4,211.5 353.4,211.7 356.5,211.7 359.6,211.7 362.7,211.5 365.8,211.2 368.9,210.9 372.0,210.5 375.1,210.1 378.2,209.7 381.3,209.4 384.4,209.0 387.5,208.7 390.6,208.3 393.7,207.9 396.7,207.5 399.8,207.1 402.9,206.6 406.0,206.2 409.1,205.7 412.2,205.3 415.3,204.9 418.4,204.5 421.5,204.1 424.6,203.8 427.7,203.5 430.8,203.3 433.9,203.1 437.0,203.0 440.0,203.0 443.1,203.1 446.2,203.3 449.3,203.7 452.4,204.1 455.5,204.7 458.6,205.3 461.7,205.9 464.8,206.6 467.9,207.3 471.0,208.0 474.1,208.7 477.2,209.3 480.2,209.9 483.3,210.3 486.4,210.7 489.5,210.9 492.6,211.0 495.7,211.0 498.8,211.0 501.9,211.0 505.0,210.9 508.1,210.8 511.2,210.8 514.3,210.7 517.4,210.6 520.5,210.5 523.5,210.4 526.6,210.3 529.7,210.2 532.8,210.0 535.9,209.9 539.0,209.8 542.1,209.8 545.2,209.7 548.3,209.5 551.4,209.4 554.5,209.3 557.6,209.2 560.7,209.0 563.8,208.9 566.8,208.8 569.9,208.6 573.0,208.5 576.1,208.4 579.2,208.3 582.3,208.2 585.4,208.1 588.5,208.0 591.6,208.0 594.7,207.9 597.8,207.9 600.9,207.9 604.0,207.9 607.1,207.9 610.1,207.9 613.2,208.0 616.3,208.0 619.4,208.0 622.5,208.1 625.6,208.1 628.7,208.2 631.8,208.2 634.9,208.3 638.0,208.4 641.1,208.5 644.2,208.6 647.3,208.7 650.3,208.8 653.4,208.9 656.5,209.0 659.6,209.2 662.7,209.3 665.8,209.4 668.9,209.6 672.0,209.8 675.1,210.0 678.2,210.2 681.3,210.4" fill="none" stroke="#f06478" stroke-width="0.9" stroke-linejoin="round" />
<path d="M278.5,197.8 278.8,197.7 279.2,197.6 279.5,197.5 279.8,197.4 280.2,197.3 280.5,197.1 280.9,197.0 281.2,196.7 281.5,196.3 281.9,195.9 282.2,195.7 282.5,195.5 282.9,195.5 283.2,195.6 283.6,195.7 283.9,196.0 284.2,196.3 284.6,196.6 284.9,197.0 285.2,197.5 285.6,198.0 285.9,198.5 286.2,199.1 286.6,199.6 286.9,200.3 287.3,200.9 287.6,201.6 287.9,202.2 288.3,202.9 288.6,203.5 288.9,204.2 289.3,204.8 289.6,205.5 290.0,206.1 290.3,206.7 290.6,207.2 291.0,207.8 291.3,208.3 291.6,208.7 292.4,209.5 293.2,210.0 293.9,210.2 294.7,210.1 295.4,210.0 296.2,209.9 297.0,209.6 297.7,209.4 298.5,209.1 299.2,208.7 300.0,208.4 300.8,207.9 301.5,207.5 302.3,207.1 303.1,206.6 303.8,206.2 304.6,205.7 305.3,205.2 306.1,204.8 306.9,204.3 307.6,203.9 308.4,203.5 309.1,203.1 309.9,202.8 310.7,202.5 311.4,202.2 312.2,202.0 313.0,201.9 313.7,201.8 314.5,201.8 315.2,201.8 316.0,201.8 316.8,201.8 317.5,201.8 318.3,201.8 319.0,201.8 319.8,201.9 320.6,201.9 321.3,201.9 322.1,201.9 322.9,202.0 323.6,202.0 324.4,202.0 325.1,202.1 325.9,202.1 326.7,202.2 327.4,202.2 328.2,202.3 328.9,202.3 329.7,202.4 330.5,202.4 331.2,202.5 332.0,202.5 332.7,202.6 333.5,202.6 334.3,202.7 335.0,202.7 335.8,202.8 336.6,202.8 337.3,202.9 338.1,203.0 338.8,203.0 339.6,203.1 340.4,203.1 341.1,203.2 341.9,203.2 342.6,203.3 343.4,203.3 344.2,203.4 347.3,203.6 350.4,203.8 353.4,203.9 356.5,204.1 359.6,204.2 362.7,204.3 365.8,204.4 368.9,204.5 372.0,204.6 375.1,204.7 378.2,204.7 381.3,204.7 384.4,204.7 387.5,204.7 390.6,204.7 393.7,204.6 396.7,204.6 399.8,204.5 402.9,204.4 406.0,204.2 409.1,204.1 412.2,204.0 415.3,203.9 418.4,203.8 421.5,203.6 424.6,203.5 427.7,203.3 430.8,203.1 433.9,202.9 437.0,202.7 440.0,202.4 443.1,202.1 446.2,201.9 449.3,201.6 452.4,201.3 455.5,201.1 458.6,200.8 461.7,200.6 464.8,200.3 467.9,200.1 471.0,199.9 474.1,199.7 477.2,199.6 480.2,199.5 483.3,199.4 486.4,199.3 489.5,199.3 492.6,199.4 495.7,199.7 498.8,200.0 501.9,200.5 505.0,201.0 508.1,201.5 511.2,202.1 514.3,202.7 517.4,203.4 520.5,204.0 523.5,204.5 526.6,205.0 529.7,205.5 532.8,205.8 535.9,206.0 539.0,206.1 542.1,206.1 545.2,206.1 548.3,206.1 551.4,206.1 554.5,206.1 557.6,206.1 560.7,206.0 563.8,206.0 566.8,206.0 569.9,205.9 573.0,205.9 576.1,205.9 579.2,205.8 582.3,205.8 585.4,205.7 588.5,205.7 591.6,205.6 594.7,205.6 597.8,205.5 600.9,205.4 604.0,205.3 607.1,205.2 610.1,205.1 613.2,205.0 616.3,204.8 619.4,204.6 622.5,204.4 625.6,204.2 628.7,204.0 631.8,203.7 634.9,203.5 638.0,203.2 641.1,202.9 644.2,202.6 647.3,202.3 650.3,201.9 653.4,201.6 656.5,201.2 659.6,200.9 662.7,200.5 665.8,200.1 668.9,199.7 672.0,199.3 675.1,198.9 678.2,198.5 681.3,198.1" fill="none" stroke="#f06c5c" stroke-width="0.9" stroke-linejoin="round" />
</g>
<circle cx="279.8" cy="290.2" r="1.3" fill="#4c7cf0"/>
<line x1="312.3" y1="286" x2="314.9" y2="284.2" stroke="#222" stroke-width="1.3" />
<line x1="315.7" y1="275.8" x2="318.3" y2="274" stroke="#222" stroke-width="1.3" />
<line x1="320.5" y1="264.8" x2="323.1" y2="263" stroke="#222" stroke-width="1.3" />
<line x1="325.9" y1="254.6" x2="328.5" y2="252.8" stroke="#222" stroke-width="1.3" />
<line x1="331.4" y1="245.8" x2="334" y2="244" stroke="#222" stroke-width="1.3" />
<line x1="338.9" y1="239.6" x2="341.5" y2="237.8" stroke="#222" stroke-width="1.3" />
<line x1="351.6" y1="231" x2="354.2" y2="229.2" stroke="#222" stroke-width="1.3" />
<line x1="359.9" y1="226.2" x2="362.5" y2="224.4" stroke="#222" stroke-width="1.3" />
<line x1="375.1" y1="220.4" x2="377.7" y2="218.6" stroke="#222" stroke-width="1.3" />
<line x1="393.2" y1="214.8" x2="395.8" y2="213" stroke="#222" stroke-width="1.3" />
<line x1="422" y1="208.8" x2="424.6" y2="207" stroke="#222" stroke-width="1.3" />
<line x1="437.4" y1="205.2" x2="440" y2="203.4" stroke="#222" stroke-width="1.3" />
<line x1="452" y1="202.8" x2="454.6" y2="201" stroke="#222" stroke-width="1.3" />
<line x1="469.8" y1="200.8" x2="472.4" y2="199" stroke="#222" stroke-width="1.3" />
<line x1="498" y1="199.1" x2="500.6" y2="197.3" stroke="#222" stroke-width="1.3" />
<line x1="310.3" y1="300" x2="310.3" y2="290" stroke="#f01818" stroke-width="1.4" />
<path d="M310.3,286.4 L308.4,291.5 L312.2,291.5 Z" fill="#f01818" stroke="none" stroke-width="0"/>
<text x="304.9" y="311.1" font-family="Liberation Sans" font-size="13.5" font-weight="bold" font-style="italic" fill="#f01818">B<tspan font-size="9" dy="-7">*</tspan></text>
<rect x="656" y="297" width="16.5" height="21.5" fill="#bcd3ea"/>
<text x="658.6" y="314.4" font-family="Liberation Serif" font-size="17.5" text-anchor="start" font-style="italic" fill="#000" >&#952;</text>
<line x1="672.5" y1="296.5" x2="672.5" y2="318.5" stroke="#3a3a3a" stroke-width="1" />
<line x1="656" y1="318.5" x2="673" y2="318.5" stroke="#3a3a3a" stroke-width="1" />
<text x="424.4" y="299.7" font-family="Liberation Sans" font-size="10.5" text-anchor="middle" fill="#000" >5&#176;</text>
<text x="441.5" y="291" font-family="Liberation Sans" font-size="10.5" text-anchor="middle" fill="#000" >10&#176;</text>
<text x="462.5" y="283" font-family="Liberation Sans" font-size="10.5" text-anchor="middle" fill="#000" >20&#176;</text>
<text x="485.8" y="274.2" font-family="Liberation Sans" font-size="10.5" text-anchor="middle" fill="#000" >30&#176;</text>
<text x="501" y="264.7" font-family="Liberation Sans" font-size="10.5" text-anchor="middle" fill="#000" >40&#176;</text>
<text x="519.7" y="255.7" font-family="Liberation Sans" font-size="10.5" text-anchor="middle" fill="#000" >50&#176;</text>
<text x="539.5" y="243.1" font-family="Liberation Sans" font-size="10.5" text-anchor="middle" fill="#000" >60&#176;</text>
<text x="557" y="233.7" font-family="Liberation Sans" font-size="10.5" text-anchor="middle" fill="#000" >70&#176;</text>
<text x="392.5" y="201.1" font-family="Liberation Sans" font-size="10.5" text-anchor="middle" fill="#000" >75&#176;</text>
<text x="421" y="218.4" font-family="Liberation Sans" font-size="10.5" text-anchor="middle" fill="#000" >80&#176;</text>
<text x="455" y="212.7" font-family="Liberation Sans" font-size="10.5" text-anchor="middle" fill="#000" >84&#176;</text>
<text x="502" y="210.7" font-family="Liberation Sans" font-size="10.5" text-anchor="middle" fill="#000" >88&#176;</text>
<line x1="390" y1="203" x2="390" y2="214" stroke="#444" stroke-width="0.6" />
<rect x="44.5" y="361.5" width="338" height="129" fill="none" stroke="#333" stroke-width="1"/>
<line x1="69.2" y1="490.5" x2="69.2" y2="487.5" stroke="#3a3a3a" stroke-width="1" />
<line x1="69.2" y1="361.5" x2="69.2" y2="364.5" stroke="#3a3a3a" stroke-width="1" />
<line x1="93.9" y1="490.5" x2="93.9" y2="487.5" stroke="#3a3a3a" stroke-width="1" />
<line x1="93.9" y1="361.5" x2="93.9" y2="364.5" stroke="#3a3a3a" stroke-width="1" />
<line x1="118.6" y1="490.5" x2="118.6" y2="487.5" stroke="#3a3a3a" stroke-width="1" />
<line x1="118.6" y1="361.5" x2="118.6" y2="364.5" stroke="#3a3a3a" stroke-width="1" />
<line x1="143.3" y1="490.5" x2="143.3" y2="487.5" stroke="#3a3a3a" stroke-width="1" />
<line x1="143.3" y1="361.5" x2="143.3" y2="364.5" stroke="#3a3a3a" stroke-width="1" />
<line x1="56.85" y1="490.5" x2="56.85" y2="488.5" stroke="#3a3a3a" stroke-width="1" />
<line x1="56.85" y1="361.5" x2="56.85" y2="363.5" stroke="#3a3a3a" stroke-width="1" />
<line x1="81.55" y1="490.5" x2="81.55" y2="488.5" stroke="#3a3a3a" stroke-width="1" />
<line x1="81.55" y1="361.5" x2="81.55" y2="363.5" stroke="#3a3a3a" stroke-width="1" />
<line x1="106.25" y1="490.5" x2="106.25" y2="488.5" stroke="#3a3a3a" stroke-width="1" />
<line x1="106.25" y1="361.5" x2="106.25" y2="363.5" stroke="#3a3a3a" stroke-width="1" />
<line x1="130.95" y1="490.5" x2="130.95" y2="488.5" stroke="#3a3a3a" stroke-width="1" />
<line x1="130.95" y1="361.5" x2="130.95" y2="363.5" stroke="#3a3a3a" stroke-width="1" />
<line x1="44.5" y1="469" x2="47.5" y2="469" stroke="#3a3a3a" stroke-width="1" />
<line x1="44.5" y1="447.5" x2="47.5" y2="447.5" stroke="#3a3a3a" stroke-width="1" />
<line x1="44.5" y1="426" x2="47.5" y2="426" stroke="#3a3a3a" stroke-width="1" />
<line x1="44.5" y1="404.5" x2="47.5" y2="404.5" stroke="#3a3a3a" stroke-width="1" />
<line x1="44.5" y1="383" x2="47.5" y2="383" stroke="#3a3a3a" stroke-width="1" />
<line x1="44.5" y1="479.75" x2="46.5" y2="479.75" stroke="#3a3a3a" stroke-width="1" />
<line x1="44.5" y1="458.25" x2="46.5" y2="458.25" stroke="#3a3a3a" stroke-width="1" />
<line x1="44.5" y1="436.75" x2="46.5" y2="436.75" stroke="#3a3a3a" stroke-width="1" />
<line x1="44.5" y1="415.25" x2="46.5" y2="415.25" stroke="#3a3a3a" stroke-width="1" />
<line x1="44.5" y1="393.75" x2="46.5" y2="393.75" stroke="#3a3a3a" stroke-width="1" />
<line x1="44.5" y1="372.25" x2="46.5" y2="372.25" stroke="#3a3a3a" stroke-width="1" />
<text x="44.5" y="504.8" font-family="Liberation Sans" font-size="13.5" text-anchor="middle" fill="#000" >0</text>
<text x="69.2" y="504.8" font-family="Liberation Sans" font-size="13.5" text-anchor="middle" fill="#000" >2</text>
<text x="93.9" y="504.8" font-family="Liberation Sans" font-size="13.5" text-anchor="middle" fill="#000" >4</text>
<text x="118.6" y="504.8" font-family="Liberation Sans" font-size="13.5" text-anchor="middle" fill="#000" >6</text>
<text x="143.3" y="504.8" font-family="Liberation Sans" font-size="13.5" text-anchor="middle" fill="#000" >8</text>
<line x1="181.4" y1="490.5" x2="181.4" y2="487.5" stroke="#3a3a3a" stroke-width="1" />
<line x1="181.4" y1="361.5" x2="181.4" y2="364.5" stroke="#3a3a3a" stroke-width="1" />
<line x1="206.3" y1="490.5" x2="206.3" y2="487.5" stroke="#3a3a3a" stroke-width="1" />
<line x1="206.3" y1="361.5" x2="206.3" y2="364.5" stroke="#3a3a3a" stroke-width="1" />
<line x1="231.2" y1="490.5" x2="231.2" y2="487.5" stroke="#3a3a3a" stroke-width="1" />
<line x1="231.2" y1="361.5" x2="231.2" y2="364.5" stroke="#3a3a3a" stroke-width="1" />
<line x1="256.1" y1="490.5" x2="256.1" y2="487.5" stroke="#3a3a3a" stroke-width="1" />
<line x1="256.1" y1="361.5" x2="256.1" y2="364.5" stroke="#3a3a3a" stroke-width="1" />
<line x1="168.95" y1="490.5" x2="168.95" y2="488.5" stroke="#3a3a3a" stroke-width="1" />
<line x1="168.95" y1="361.5" x2="168.95" y2="363.5" stroke="#3a3a3a" stroke-width="1" />
<line x1="193.85" y1="490.5" x2="193.85" y2="488.5" stroke="#3a3a3a" stroke-width="1" />
<line x1="193.85" y1="361.5" x2="193.85" y2="363.5" stroke="#3a3a3a" stroke-width="1" />
<line x1="218.75" y1="490.5" x2="218.75" y2="488.5" stroke="#3a3a3a" stroke-width="1" />
<line x1="218.75" y1="361.5" x2="218.75" y2="363.5" stroke="#3a3a3a" stroke-width="1" />
<line x1="243.65" y1="490.5" x2="243.65" y2="488.5" stroke="#3a3a3a" stroke-width="1" />
<line x1="243.65" y1="361.5" x2="243.65" y2="363.5" stroke="#3a3a3a" stroke-width="1" />
<line x1="157" y1="469" x2="159.5" y2="469" stroke="#3a3a3a" stroke-width="1" />
<line x1="157" y1="447.5" x2="159.5" y2="447.5" stroke="#3a3a3a" stroke-width="1" />
<line x1="157" y1="426" x2="159.5" y2="426" stroke="#3a3a3a" stroke-width="1" />
<line x1="157" y1="404.5" x2="159.5" y2="404.5" stroke="#3a3a3a" stroke-width="1" />
<line x1="157" y1="383" x2="159.5" y2="383" stroke="#3a3a3a" stroke-width="1" />
<line x1="157" y1="479.75" x2="158.5" y2="479.75" stroke="#3a3a3a" stroke-width="1" />
<line x1="157" y1="458.25" x2="158.5" y2="458.25" stroke="#3a3a3a" stroke-width="1" />
<line x1="157" y1="436.75" x2="158.5" y2="436.75" stroke="#3a3a3a" stroke-width="1" />
<line x1="157" y1="415.25" x2="158.5" y2="415.25" stroke="#3a3a3a" stroke-width="1" />
<line x1="157" y1="393.75" x2="158.5" y2="393.75" stroke="#3a3a3a" stroke-width="1" />
<line x1="157" y1="372.25" x2="158.5" y2="372.25" stroke="#3a3a3a" stroke-width="1" />
<text x="156.5" y="504.8" font-family="Liberation Sans" font-size="13.5" text-anchor="middle" fill="#000" >0</text>
<text x="181.4" y="504.8" font-family="Liberation Sans" font-size="13.5" text-anchor="middle" fill="#000" >2</text>
<text x="206.3" y="504.8" font-family="Liberation Sans" font-size="13.5" text-anchor="middle" fill="#000" >4</text>
<text x="231.2" y="504.8" font-family="Liberation Sans" font-size="13.5" text-anchor="middle" fill="#000" >6</text>
<text x="256.1" y="504.8" font-family="Liberation Sans" font-size="13.5" text-anchor="middle" fill="#000" >8</text>
<line x1="306.48" y1="490.5" x2="306.48" y2="487.5" stroke="#3a3a3a" stroke-width="1" />
<line x1="306.48" y1="361.5" x2="306.48" y2="364.5" stroke="#3a3a3a" stroke-width="1" />
<line x1="344.46" y1="490.5" x2="344.46" y2="487.5" stroke="#3a3a3a" stroke-width="1" />
<line x1="344.46" y1="361.5" x2="344.46" y2="364.5" stroke="#3a3a3a" stroke-width="1" />
<line x1="287.49" y1="490.5" x2="287.49" y2="488.5" stroke="#3a3a3a" stroke-width="1" />
<line x1="287.49" y1="361.5" x2="287.49" y2="363.5" stroke="#3a3a3a" stroke-width="1" />
<line x1="325.47" y1="490.5" x2="325.47" y2="488.5" stroke="#3a3a3a" stroke-width="1" />
<line x1="325.47" y1="361.5" x2="325.47" y2="363.5" stroke="#3a3a3a" stroke-width="1" />
<line x1="363.45" y1="490.5" x2="363.45" y2="488.5" stroke="#3a3a3a" stroke-width="1" />
<line x1="363.45" y1="361.5" x2="363.45" y2="363.5" stroke="#3a3a3a" stroke-width="1" />
<line x1="269" y1="469" x2="271.5" y2="469" stroke="#3a3a3a" stroke-width="1" />
<line x1="269" y1="447.5" x2="271.5" y2="447.5" stroke="#3a3a3a" stroke-width="1" />
<line x1="269" y1="426" x2="271.5" y2="426" stroke="#3a3a3a" stroke-width="1" />
<line x1="269" y1="404.5" x2="271.5" y2="404.5" stroke="#3a3a3a" stroke-width="1" />
<line x1="269" y1="383" x2="271.5" y2="383" stroke="#3a3a3a" stroke-width="1" />
<line x1="269" y1="479.75" x2="270.5" y2="479.75" stroke="#3a3a3a" stroke-width="1" />
<line x1="269" y1="458.25" x2="270.5" y2="458.25" stroke="#3a3a3a" stroke-width="1" />
<line x1="269" y1="436.75" x2="270.5" y2="436.75" stroke="#3a3a3a" stroke-width="1" />
<line x1="269" y1="415.25" x2="270.5" y2="415.25" stroke="#3a3a3a" stroke-width="1" />
<line x1="269" y1="393.75" x2="270.5" y2="393.75" stroke="#3a3a3a" stroke-width="1" />
<line x1="269" y1="372.25" x2="270.5" y2="372.25" stroke="#3a3a3a" stroke-width="1" />
<line x1="382.5" y1="469" x2="379.5" y2="469" stroke="#3a3a3a" stroke-width="1" />
<line x1="382.5" y1="447.5" x2="379.5" y2="447.5" stroke="#3a3a3a" stroke-width="1" />
<line x1="382.5" y1="426" x2="379.5" y2="426" stroke="#3a3a3a" stroke-width="1" />
<line x1="382.5" y1="404.5" x2="379.5" y2="404.5" stroke="#3a3a3a" stroke-width="1" />
<line x1="382.5" y1="383" x2="379.5" y2="383" stroke="#3a3a3a" stroke-width="1" />
<line x1="382.5" y1="479.75" x2="380.5" y2="479.75" stroke="#3a3a3a" stroke-width="1" />
<line x1="382.5" y1="458.25" x2="380.5" y2="458.25" stroke="#3a3a3a" stroke-width="1" />
<line x1="382.5" y1="436.75" x2="380.5" y2="436.75" stroke="#3a3a3a" stroke-width="1" />
<line x1="382.5" y1="415.25" x2="380.5" y2="415.25" stroke="#3a3a3a" stroke-width="1" />
<line x1="382.5" y1="393.75" x2="380.5" y2="393.75" stroke="#3a3a3a" stroke-width="1" />
<line x1="382.5" y1="372.25" x2="380.5" y2="372.25" stroke="#3a3a3a" stroke-width="1" />
<text x="268.5" y="504.8" font-family="Liberation Sans" font-size="13.5" text-anchor="middle" fill="#000" >0</text>
<text x="306.48" y="504.8" font-family="Liberation Sans" font-size="13.5" text-anchor="middle" fill="#000" >6</text>
<text x="344.46" y="504.8" font-family="Liberation Sans" font-size="13.5" text-anchor="middle" fill="#000" >12</text>
<text x="382.44" y="504.8" font-family="Liberation Sans" font-size="13.5" text-anchor="middle" fill="#000" >18</text>
<line x1="156.5" y1="361.5" x2="156.5" y2="490.5" stroke="#a0a0a0" stroke-width="1.7" />
<line x1="268.5" y1="361.5" x2="268.5" y2="490.5" stroke="#555" stroke-width="1.1" />
<text x="42" y="495.1" font-family="Liberation Sans" font-size="13.5" text-anchor="end" fill="#000" >n</text>
<text x="42" y="473.6" font-family="Liberation Sans" font-size="13.5" text-anchor="end" fill="#000" >n+1</text>
<text x="42" y="452.1" font-family="Liberation Sans" font-size="13.5" text-anchor="end" fill="#000" >n+2</text>
<text x="42" y="430.6" font-family="Liberation Sans" font-size="13.5" text-anchor="end" fill="#000" >n+3</text>
<text x="42" y="409.1" font-family="Liberation Sans" font-size="13.5" text-anchor="end" fill="#000" >n+4</text>
<text x="42" y="387.6" font-family="Liberation Sans" font-size="13.5" text-anchor="end" fill="#000" >n+5</text>
<text x="42" y="366.1" font-family="Liberation Sans" font-size="13.5" text-anchor="end" fill="#000" >n+6</text>
<text x="4.2" y="369.8" font-family="Liberation Sans" font-size="19.5" text-anchor="start" font-weight="bold" fill="#000" >d</text>
<text x="161.4" y="375.4" font-family="Liberation Sans" font-size="19.5" text-anchor="start" font-weight="bold" fill="#000" >e</text>
<text x="278.8" y="378.5" font-family="Liberation Sans" font-size="19.5" text-anchor="start" font-weight="bold" fill="#000" >f</text>
<text x="0" y="0" font-family="Liberation Sans" font-size="17" text-anchor="middle" transform="translate(13.6 419.7) rotate(-90)">n (arb. units)</text>
<text x="78.4" y="522.6" font-family="Liberation Sans" font-size="17.2"><tspan font-style="italic">B</tspan><tspan font-size="12.5" dy="4.2">n</tspan><tspan dy="-4.2"> (T)</tspan></text>
<text x="190.4" y="522.6" font-family="Liberation Sans" font-size="17.2"><tspan font-style="italic">B</tspan><tspan font-size="12.5" dy="4.2">n</tspan><tspan dy="-4.2"> (T)</tspan></text>
<text x="302.4" y="522.6" font-family="Liberation Sans" font-size="17.2"><tspan font-style="italic">B</tspan><tspan font-size="12.5" dy="4.2">n</tspan><tspan dy="-4.2"> (T)</tspan></text>
<text x="236.6" y="484.9" font-family="Liberation Sans" font-size="15.8" text-anchor="start" fill="#000" >S75</text>
<text x="122.6" y="484.9" font-family="Liberation Sans" font-size="15.8" text-anchor="start" fill="#000" >S75</text>
<text x="351.2" y="485.6" font-family="Liberation Sans" font-size="15.8" text-anchor="start" fill="#000" >S74</text>
<text x="133" y="377.6" font-family="Liberation Sans" font-size="10">&#916;&#961;<tspan font-size="7.5" dy="2">xx</tspan></text>
<text x="245.5" y="377.6" font-family="Liberation Serif" font-size="10">&#916;&#963;<tspan font-size="7.5" dy="2">xx</tspan></text>
<text x="360.3" y="375.8" font-family="Liberation Serif" font-size="10">&#916;&#963;<tspan font-size="7.5" dy="2">xx</tspan></text>
<ellipse cx="331.2" cy="409" rx="52" ry="7.6" transform="rotate(-32.3 331.2 409)" fill="#7c7cf0" opacity="0.75"/>
<path d="M269.9,480.2 269.9,479.9 270.0,479.6 270.0,479.3 270.1,479.0 270.1,478.7 270.2,478.4 270.2,478.1 270.2,477.8 270.3,477.5 270.3,477.2 270.4,476.9 270.4,476.6 270.5,476.3 270.5,476.0 270.6,475.7 270.6,475.4 270.6,475.1 270.7,474.9 270.7,474.6 270.8,474.3 270.8,474.0 270.9,473.7 270.9,473.4 270.9,473.2 271.0,472.9 271.0,472.6 271.1,472.3 271.1,472.1 271.2,471.8 271.2,471.5 271.3,471.3 271.3,471.0 271.3,470.7 271.4,470.5 271.4,470.2 271.5,470.0 271.5,469.7 271.6,469.5 271.6,469.2 271.7,468.7 271.8,468.2 271.8,467.8 271.9,467.3 272.0,466.8 272.1,466.3 272.2,465.8 272.3,465.3 272.3,464.9 272.4,464.4 272.5,463.9 272.6,463.5 272.7,463.0 272.8,462.6 272.8,462.1 272.9,461.7 273.0,461.3 273.1,460.9 273.2,460.5 273.2,460.1 273.3,459.7 273.4,459.4 273.5,459.0 273.6,458.7 273.7,458.4 273.7,458.2 273.8,457.9 273.9,457.6 274.0,457.3 274.1,457.1 274.2,456.8 274.2,456.6 274.3,456.3 274.4,456.1 274.5,455.8 274.6,455.6 274.6,455.3 274.7,455.1 274.8,454.9 274.9,454.7 275.0,454.4 275.1,454.2 275.1,454.0 275.2,453.8 275.3,453.6 275.4,453.4 275.5,453.1 275.6,452.9 275.6,452.7 275.7,452.5 275.8,452.3 275.9,452.2 276.0,452.0 276.1,451.8 276.1,451.6 276.2,451.4 276.3,451.2 276.4,451.1 276.5,450.9 276.5,450.7 276.6,450.5 276.7,450.4 276.8,450.2 276.9,450.1 277.0,449.9 277.0,449.7 277.1,449.6 277.2,449.4 277.3,449.3 277.4,449.1 277.5,449.0 277.5,448.8 277.6,448.7 277.7,448.5 277.8,448.4 277.9,448.3 277.9,448.1 278.0,448.0 278.1,447.9 278.2,447.7 278.3,447.6 278.4,447.5 278.4,447.3 278.5,447.2 278.6,447.1 278.7,447.0 278.8,446.8 278.9,446.7 278.9,446.6 279.0,446.4 279.1,446.3 279.2,446.2 279.3,446.1 279.3,445.9 279.4,445.8 279.5,445.7 279.6,445.6 279.7,445.4 279.8,445.3 279.8,445.2 279.9,445.1 280.0,445.0 280.1,444.8 280.2,444.7 280.3,444.6 280.3,444.5 280.4,444.3 280.5,444.2 280.6,444.1 280.7,444.0 280.7,443.9 280.8,443.7 280.9,443.6 281.0,443.5 281.1,443.4 281.2,443.3 281.2,443.2 281.3,443.0 281.4,442.9 281.5,442.8 281.6,442.7 281.7,442.6 281.7,442.5 281.8,442.4 281.9,442.3 282.0,442.1 282.1,442.0 282.1,441.9 282.2,441.8 282.3,441.7 282.4,441.6 282.5,441.5 282.6,441.4 282.6,441.3 282.7,441.2 282.8,441.1 282.9,441.0 283.0,440.9 283.1,440.8 283.1,440.7 283.2,440.6 283.3,440.5 283.4,440.4 283.5,440.3 283.5,440.2 283.6,440.1 283.7,440.0 283.8,439.9 283.9,439.8 284.0,439.8 284.0,439.7 284.1,439.6 284.2,439.5 284.3,439.4 284.4,439.3 284.5,439.2 284.6,439.1 284.7,439.0 284.8,438.9 284.9,438.8 285.0,438.8 285.0,438.7 285.1,438.6 285.2,438.5 285.3,438.5 285.4,438.4 285.4,438.3 285.5,438.3 285.6,438.2 285.7,438.1 285.8,438.1 285.9,438.0 285.9,437.9 286.0,437.9 286.1,437.8 286.2,437.8 286.3,437.7 286.4,437.7 286.4,437.6 286.5,437.6 286.6,437.5 286.7,437.5 286.8,437.4 286.9,437.3 287.0,437.3 287.1,437.2 287.2,437.2 287.3,437.2 287.3,437.1 287.4,437.1 287.5,437.1 287.6,437.0 287.7,437.0 287.8,437.0 287.8,436.9 287.9,436.9 288.0,436.9 369.6,382.4" fill="none" stroke="#f01c1c" stroke-width="1.3" stroke-linejoin="round" />
<clipPath id="cell"><ellipse cx="331.2" cy="409" rx="52" ry="7.6" transform="rotate(-32.3 331.2 409)"/></clipPath>
<g clip-path="url(#cell)">
<path d="M269.9,480.2 269.9,479.9 270.0,479.6 270.0,479.3 270.1,479.0 270.1,478.7 270.2,478.4 270.2,478.1 270.2,477.8 270.3,477.5 270.3,477.2 270.4,476.9 270.4,476.6 270.5,476.3 270.5,476.0 270.6,475.7 270.6,475.4 270.6,475.1 270.7,474.9 270.7,474.6 270.8,474.3 270.8,474.0 270.9,473.7 270.9,473.4 270.9,473.2 271.0,472.9 271.0,472.6 271.1,472.3 271.1,472.1 271.2,471.8 271.2,471.5 271.3,471.3 271.3,471.0 271.3,470.7 271.4,470.5 271.4,470.2 271.5,470.0 271.5,469.7 271.6,469.5 271.6,469.2 271.7,468.7 271.8,468.2 271.8,467.8 271.9,467.3 272.0,466.8 272.1,466.3 272.2,465.8 272.3,465.3 272.3,464.9 272.4,464.4 272.5,463.9 272.6,463.5 272.7,463.0 272.8,462.6 272.8,462.1 272.9,461.7 273.0,461.3 273.1,460.9 273.2,460.5 273.2,460.1 273.3,459.7 273.4,459.4 273.5,459.0 273.6,458.7 273.7,458.4 273.7,458.2 273.8,457.9 273.9,457.6 274.0,457.3 274.1,457.1 274.2,456.8 274.2,456.6 274.3,456.3 274.4,456.1 274.5,455.8 274.6,455.6 274.6,455.3 274.7,455.1 274.8,454.9 274.9,454.7 275.0,454.4 275.1,454.2 275.1,454.0 275.2,453.8 275.3,453.6 275.4,453.4 275.5,453.1 275.6,452.9 275.6,452.7 275.7,452.5 275.8,452.3 275.9,452.2 276.0,452.0 276.1,451.8 276.1,451.6 276.2,451.4 276.3,451.2 276.4,451.1 276.5,450.9 276.5,450.7 276.6,450.5 276.7,450.4 276.8,450.2 276.9,450.1 277.0,449.9 277.0,449.7 277.1,449.6 277.2,449.4 277.3,449.3 277.4,449.1 277.5,449.0 277.5,448.8 277.6,448.7 277.7,448.5 277.8,448.4 277.9,448.3 277.9,448.1 278.0,448.0 278.1,447.9 278.2,447.7 278.3,447.6 278.4,447.5 278.4,447.3 278.5,447.2 278.6,447.1 278.7,447.0 278.8,446.8 278.9,446.7 278.9,446.6 279.0,446.4 279.1,446.3 279.2,446.2 279.3,446.1 279.3,445.9 279.4,445.8 279.5,445.7 279.6,445.6 279.7,445.4 279.8,445.3 279.8,445.2 279.9,445.1 280.0,445.0 280.1,444.8 280.2,444.7 280.3,444.6 280.3,444.5 280.4,444.3 280.5,444.2 280.6,444.1 280.7,444.0 280.7,443.9 280.8,443.7 280.9,443.6 281.0,443.5 281.1,443.4 281.2,443.3 281.2,443.2 281.3,443.0 281.4,442.9 281.5,442.8 281.6,442.7 281.7,442.6 281.7,442.5 281.8,442.4 281.9,442.3 282.0,442.1 282.1,442.0 282.1,441.9 282.2,441.8 282.3,441.7 282.4,441.6 282.5,441.5 282.6,441.4 282.6,441.3 282.7,441.2 282.8,441.1 282.9,441.0 283.0,440.9 283.1,440.8 283.1,440.7 283.2,440.6 283.3,440.5 283.4,440.4 283.5,440.3 283.5,440.2 283.6,440.1 283.7,440.0 283.8,439.9 283.9,439.8 284.0,439.8 284.0,439.7 284.1,439.6 284.2,439.5 284.3,439.4 284.4,439.3 284.5,439.2 284.6,439.1 284.7,439.0 284.8,438.9 284.9,438.8 285.0,438.8 285.0,438.7 285.1,438.6 285.2,438.5 285.3,438.5 285.4,438.4 285.4,438.3 285.5,438.3 285.6,438.2 285.7,438.1 285.8,438.1 285.9,438.0 285.9,437.9 286.0,437.9 286.1,437.8 286.2,437.8 286.3,437.7 286.4,437.7 286.4,437.6 286.5,437.6 286.6,437.5 286.7,437.5 286.8,437.4 286.9,437.3 287.0,437.3 287.1,437.2 287.2,437.2 287.3,437.2 287.3,437.1 287.4,437.1 287.5,437.1 287.6,437.0 287.7,437.0 287.8,437.0 287.8,436.9 287.9,436.9 288.0,436.9 369.6,382.4" fill="none" stroke="#b01860" stroke-width="1.3" stroke-linejoin="round" />
</g>
<circle cx="47" cy="480.2" r="2.7" fill="#000"/>
<circle cx="46.5" cy="479.5" r="1.08" fill="#999" opacity="0.7"/>
<circle cx="49.7" cy="469.4" r="2.7" fill="#000"/>
<circle cx="49.2" cy="468.7" r="1.08" fill="#999" opacity="0.7"/>
<circle cx="53" cy="458.7" r="2.7" fill="#000"/>
<circle cx="52.5" cy="458" r="1.08" fill="#999" opacity="0.7"/>
<circle cx="61.1" cy="447.6" r="2.7" fill="#000"/>
<circle cx="60.6" cy="446.9" r="1.08" fill="#999" opacity="0.7"/>
<circle cx="75.3" cy="436.6" r="2.7" fill="#000"/>
<circle cx="74.8" cy="435.9" r="1.08" fill="#999" opacity="0.7"/>
<circle cx="107.5" cy="425.8" r="2.7" fill="#000"/>
<circle cx="107" cy="425.1" r="1.08" fill="#999" opacity="0.7"/>
<circle cx="159.7" cy="480" r="2.7" fill="#000"/>
<circle cx="159.2" cy="479.3" r="1.08" fill="#999" opacity="0.7"/>
<circle cx="161.5" cy="469.2" r="2.7" fill="#000"/>
<circle cx="161" cy="468.5" r="1.08" fill="#999" opacity="0.7"/>
<circle cx="164.7" cy="458.5" r="2.7" fill="#000"/>
<circle cx="164.2" cy="457.8" r="1.08" fill="#999" opacity="0.7"/>
<circle cx="172.4" cy="447.8" r="2.7" fill="#000"/>
<circle cx="171.9" cy="447.1" r="1.08" fill="#999" opacity="0.7"/>
<circle cx="187.8" cy="436.8" r="2.7" fill="#000"/>
<circle cx="187.3" cy="436.1" r="1.08" fill="#999" opacity="0.7"/>
<circle cx="216.4" cy="426.1" r="2.7" fill="#000"/>
<circle cx="215.9" cy="425.4" r="1.08" fill="#999" opacity="0.7"/>
<circle cx="250" cy="415.3" r="2.7" fill="#000"/>
<circle cx="249.5" cy="414.6" r="1.08" fill="#999" opacity="0.7"/>
<path d="M47.0,480.4 47.1,480.0 47.1,479.6 47.2,479.2 47.3,478.7 47.4,478.3 47.4,477.9 47.5,477.4 47.6,477.0 47.7,476.6 47.8,476.1 47.9,475.7 48.0,475.2 48.1,474.8 48.2,474.4 48.3,473.9 48.4,473.5 48.5,473.0 48.6,472.6 48.7,472.1 48.8,471.6 48.9,471.2 49.0,470.7 49.2,470.3 49.3,469.8 49.4,469.3 49.6,468.9 49.7,468.4 49.8,467.9 50.0,467.5 50.1,467.0 50.3,466.5 50.5,466.1 50.6,465.6 50.8,465.1 51.0,464.6 51.1,464.1 51.3,463.7 51.5,463.2 51.7,462.7 51.9,462.2 52.1,461.7 52.3,461.2 52.5,460.7 52.7,460.3 53.0,459.8 53.2,459.3 53.4,458.8 53.7,458.3 53.9,457.8 54.2,457.3 54.5,456.8 54.7,456.3 55.0,455.8 55.3,455.3 55.6,454.8 55.9,454.3 56.2,453.8 56.5,453.3 56.9,452.8 57.2,452.3 57.6,451.8 57.9,451.3 58.3,450.9 58.7,450.4 59.1,449.9 59.5,449.4 59.9,448.9 60.3,448.4 60.7,447.9 61.2,447.4 61.6,446.9 62.1,446.4 62.6,445.9 63.1,445.4 63.6,444.9 64.1,444.4 64.7,443.9 65.2,443.4 65.8,442.9 66.4,442.4 67.0,441.9 67.6,441.5 68.2,441.0 68.9,440.5 69.6,440.0 70.2,439.5 71.0,439.1 71.7,438.6 72.4,438.1 73.2,437.7 74.0,437.2 74.8,436.7 75.6,436.3 76.5,435.8 77.4,435.3 78.3,434.9 79.2,434.4 80.1,434.0 81.1,433.6 82.1,433.1 83.2,432.7 84.2,432.3 85.3,431.8 86.4,431.4 87.6,431.0 88.8,430.6 90.0,430.2 91.3,429.8 92.5,429.4 93.9,429.0 95.2,428.6 96.6,428.3 98.0,427.9 99.5,427.5 101.0,427.2 102.6,426.8 104.2,426.5 105.8,426.2 107.5,425.9" fill="none" stroke="#1c1cf0" stroke-width="1.5" stroke-linejoin="round" />
<path d="M159.7,480.0 159.8,479.2 159.9,478.5 160.0,477.8 160.1,477.1 160.2,476.4 160.3,475.7 160.4,475.0 160.5,474.3 160.6,473.6 160.7,472.9 160.9,472.2 161.0,471.6 161.1,470.9 161.3,470.2 161.4,469.6 161.5,468.9 161.7,468.3 161.8,467.7 162.0,467.1 162.1,466.4 162.3,465.8 162.5,465.2 162.6,464.6 162.8,464.0 163.0,463.4 163.2,462.9 163.4,462.3 163.6,461.7 163.8,461.1 164.0,460.6 164.2,460.0 164.4,459.5 164.7,458.9 164.9,458.4 165.1,457.8 165.4,457.3 165.6,456.8 165.9,456.3 166.2,455.7 166.4,455.2 166.7,454.7 167.0,454.2 167.3,453.7 167.6,453.2 168.0,452.7 168.3,452.3 168.6,451.8 169.0,451.3 169.3,450.8 169.7,450.4 170.1,449.9 170.5,449.4 170.9,449.0 171.3,448.5 171.7,448.1 172.2,447.6 172.6,447.2 173.1,446.7 173.6,446.3 174.0,445.8 174.5,445.4 175.1,445.0 175.6,444.5 176.2,444.1 176.7,443.7 177.3,443.2 177.9,442.8 178.5,442.4 179.1,442.0 179.8,441.5 180.5,441.1 181.2,440.7 181.9,440.3 182.6,439.8 183.3,439.4 184.1,439.0 184.9,438.6 185.7,438.1 186.6,437.7 187.4,437.3 188.3,436.8 189.2,436.4 190.2,436.0 191.2,435.5 192.1,435.1 193.2,434.6 194.2,434.2 195.3,433.7 196.4,433.3 197.6,432.8 198.8,432.3 200.0,431.9 201.2,431.4 202.5,430.9 203.8,430.4 205.2,429.9 206.6,429.4 208.0,428.9 209.5,428.4 211.1,427.8 212.6,427.3 214.2,426.7 215.9,426.2 217.6,425.6 219.4,425.0 221.2,424.4 223.0,423.8 224.9,423.2 226.9,422.6 228.9,421.9 231.0,421.2 233.2,420.6 235.4,419.9 237.6,419.2 240.0,418.4 242.4,417.7 244.8,416.9 247.4,416.1 250.0,415.3" fill="none" stroke="#f01c1c" stroke-width="1.5" stroke-linejoin="round" />
<line x1="301.5" y1="425.6" x2="308.5" y2="425.6" stroke="#222" stroke-width="0.7" />
<line x1="301.5" y1="424.4" x2="301.5" y2="426.8" stroke="#222" stroke-width="0.6" />
<line x1="308.5" y1="424.4" x2="308.5" y2="426.8" stroke="#222" stroke-width="0.6" />
<line x1="317.9" y1="414.7" x2="324.9" y2="414.7" stroke="#222" stroke-width="0.7" />
<line x1="317.9" y1="413.5" x2="317.9" y2="415.9" stroke="#222" stroke-width="0.6" />
<line x1="324.9" y1="413.5" x2="324.9" y2="415.9" stroke="#222" stroke-width="0.6" />
<line x1="330.5" y1="403.8" x2="337.5" y2="403.8" stroke="#222" stroke-width="0.7" />
<line x1="330.5" y1="402.6" x2="330.5" y2="405" stroke="#222" stroke-width="0.6" />
<line x1="337.5" y1="402.6" x2="337.5" y2="405" stroke="#222" stroke-width="0.6" />
<line x1="347.5" y1="393.3" x2="354.5" y2="393.3" stroke="#222" stroke-width="0.7" />
<line x1="347.5" y1="392.1" x2="347.5" y2="394.5" stroke="#222" stroke-width="0.6" />
<line x1="354.5" y1="392.1" x2="354.5" y2="394.5" stroke="#222" stroke-width="0.6" />
<line x1="365.6" y1="382.7" x2="372.6" y2="382.7" stroke="#222" stroke-width="0.7" />
<line x1="365.6" y1="381.5" x2="365.6" y2="383.9" stroke="#222" stroke-width="0.6" />
<line x1="372.6" y1="381.5" x2="372.6" y2="383.9" stroke="#222" stroke-width="0.6" />
<circle cx="269.9" cy="480.2" r="2.7" fill="#000"/>
<circle cx="269.4" cy="479.5" r="1.08" fill="#999" opacity="0.7"/>
<circle cx="271.6" cy="469.2" r="2.7" fill="#000"/>
<circle cx="271.1" cy="468.5" r="1.08" fill="#999" opacity="0.7"/>
<circle cx="273.7" cy="458.3" r="2.7" fill="#000"/>
<circle cx="273.2" cy="457.6" r="1.08" fill="#999" opacity="0.7"/>
<circle cx="278.4" cy="447.4" r="2.7" fill="#000"/>
<circle cx="277.9" cy="446.7" r="1.08" fill="#999" opacity="0.7"/>
<circle cx="288" cy="436.9" r="2.7" fill="#000"/>
<circle cx="287.5" cy="436.2" r="1.08" fill="#999" opacity="0.7"/>
<circle cx="305" cy="425.6" r="2.7" fill="#1a1a9a"/>
<circle cx="304.5" cy="424.9" r="1.08" fill="#8888dd" opacity="0.7"/>
<circle cx="321.4" cy="414.7" r="2.7" fill="#1a1a9a"/>
<circle cx="320.9" cy="414" r="1.08" fill="#8888dd" opacity="0.7"/>
<circle cx="334" cy="403.8" r="2.7" fill="#1a1a9a"/>
<circle cx="333.5" cy="403.1" r="1.08" fill="#8888dd" opacity="0.7"/>
<circle cx="351" cy="393.3" r="2.7" fill="#1a1a9a"/>
<circle cx="350.5" cy="392.6" r="1.08" fill="#8888dd" opacity="0.7"/>
<circle cx="369.1" cy="382.7" r="2.7" fill="#1a1a9a"/>
<circle cx="368.6" cy="382" r="1.08" fill="#8888dd" opacity="0.7"/>
<text x="53.4" y="407.5" font-family="Liberation Serif" font-size="15.5" font-style="italic">n</text>
<text x="65.6" y="409" font-family="Liberation Serif" font-size="19">~</text>
<text x="79.5" y="397" font-family="Liberation Serif" font-size="15.5" font-style="italic">C<tspan font-size="11" font-style="normal" dy="2.5">0</tspan></text>
<line x1="79.3" y1="403" x2="94.6" y2="403" stroke="#111" stroke-width="0.9" />
<text x="81.4" y="417.1" font-family="Liberation Serif" font-size="15.5" font-style="italic">B</text>
<text x="97.6" y="409.6" font-family="Liberation Serif" font-size="18.5">+</text>
<text x="112.6" y="407.5" font-family="Liberation Serif" font-size="15.5" font-style="italic">C<tspan font-size="11" font-style="normal" dy="2.5">1</tspan></text>
<text x="132" y="411.5" font-family="Liberation Serif" font-size="17">*</text>
<text x="142.5" y="407.5" font-family="Liberation Serif" font-size="15.5" font-style="italic">B</text>
<line x1="99.4" y1="413.9" x2="74.5" y2="435.8" stroke="#111" stroke-width="0.8" />
<line x1="132.3" y1="413.9" x2="198.4" y2="428.4" stroke="#111" stroke-width="0.8" />
<text x="321.8" y="428.6" font-family="Liberation Serif" font-size="18">&#8733;</text>
<text x="337.6" y="428.3" font-family="Liberation Serif" font-size="15.5" font-style="italic">C<tspan font-size="11" font-style="normal" dy="2.5">1</tspan></text>
<text x="353" y="432" font-family="Liberation Serif" font-size="17">*</text>
<text x="363" y="428.3" font-family="Liberation Serif" font-size="15.5" font-style="italic">B</text>
<line x1="354.2" y1="399.3" x2="362.8" y2="418.9" stroke="#111" stroke-width="0.8" />
<path d="M433.5,361.5 H672.5 V490.5 H433.5" fill="none" stroke="#333" stroke-width="1"/>
<line x1="433.5" y1="361.5" x2="433.5" y2="490.5" stroke="#a0a0a0" stroke-width="1.2" />
<line x1="433.5" y1="458" x2="436.5" y2="458" stroke="#3a3a3a" stroke-width="1" />
<line x1="672.5" y1="458" x2="669.5" y2="458" stroke="#3a3a3a" stroke-width="1" />
<line x1="433.5" y1="425.5" x2="436.5" y2="425.5" stroke="#3a3a3a" stroke-width="1" />
<line x1="672.5" y1="425.5" x2="669.5" y2="425.5" stroke="#3a3a3a" stroke-width="1" />
<line x1="433.5" y1="393" x2="436.5" y2="393" stroke="#3a3a3a" stroke-width="1" />
<line x1="672.5" y1="393" x2="669.5" y2="393" stroke="#3a3a3a" stroke-width="1" />
<line x1="433.5" y1="474.25" x2="435.5" y2="474.25" stroke="#3a3a3a" stroke-width="1" />
<line x1="672.5" y1="474.25" x2="670.5" y2="474.25" stroke="#3a3a3a" stroke-width="1" />
<line x1="433.5" y1="441.75" x2="435.5" y2="441.75" stroke="#3a3a3a" stroke-width="1" />
<line x1="672.5" y1="441.75" x2="670.5" y2="441.75" stroke="#3a3a3a" stroke-width="1" />
<line x1="433.5" y1="409.25" x2="435.5" y2="409.25" stroke="#3a3a3a" stroke-width="1" />
<line x1="672.5" y1="409.25" x2="670.5" y2="409.25" stroke="#3a3a3a" stroke-width="1" />
<line x1="433.5" y1="376.75" x2="435.5" y2="376.75" stroke="#3a3a3a" stroke-width="1" />
<line x1="672.5" y1="376.75" x2="670.5" y2="376.75" stroke="#3a3a3a" stroke-width="1" />
<line x1="516.8" y1="490.5" x2="516.8" y2="487.5" stroke="#3a3a3a" stroke-width="1" />
<line x1="516.8" y1="361.5" x2="516.8" y2="364.5" stroke="#3a3a3a" stroke-width="1" />
<line x1="481.1" y1="490.5" x2="481.1" y2="487.5" stroke="#3a3a3a" stroke-width="1" />
<line x1="481.1" y1="361.5" x2="481.1" y2="364.5" stroke="#3a3a3a" stroke-width="1" />
<line x1="445.4" y1="490.5" x2="445.4" y2="487.5" stroke="#3a3a3a" stroke-width="1" />
<line x1="445.4" y1="361.5" x2="445.4" y2="364.5" stroke="#3a3a3a" stroke-width="1" />
<line x1="588.2" y1="490.5" x2="588.2" y2="487.5" stroke="#3a3a3a" stroke-width="1" />
<line x1="588.2" y1="361.5" x2="588.2" y2="364.5" stroke="#3a3a3a" stroke-width="1" />
<line x1="623.9" y1="490.5" x2="623.9" y2="487.5" stroke="#3a3a3a" stroke-width="1" />
<line x1="623.9" y1="361.5" x2="623.9" y2="364.5" stroke="#3a3a3a" stroke-width="1" />
<line x1="659.6" y1="490.5" x2="659.6" y2="487.5" stroke="#3a3a3a" stroke-width="1" />
<line x1="659.6" y1="361.5" x2="659.6" y2="364.5" stroke="#3a3a3a" stroke-width="1" />
<line x1="534.65" y1="490.5" x2="534.65" y2="488.5" stroke="#3a3a3a" stroke-width="1" />
<line x1="534.65" y1="361.5" x2="534.65" y2="363.5" stroke="#3a3a3a" stroke-width="1" />
<line x1="498.95" y1="490.5" x2="498.95" y2="488.5" stroke="#3a3a3a" stroke-width="1" />
<line x1="498.95" y1="361.5" x2="498.95" y2="363.5" stroke="#3a3a3a" stroke-width="1" />
<line x1="463.25" y1="490.5" x2="463.25" y2="488.5" stroke="#3a3a3a" stroke-width="1" />
<line x1="463.25" y1="361.5" x2="463.25" y2="363.5" stroke="#3a3a3a" stroke-width="1" />
<line x1="570.35" y1="490.5" x2="570.35" y2="488.5" stroke="#3a3a3a" stroke-width="1" />
<line x1="570.35" y1="361.5" x2="570.35" y2="363.5" stroke="#3a3a3a" stroke-width="1" />
<line x1="606.05" y1="490.5" x2="606.05" y2="488.5" stroke="#3a3a3a" stroke-width="1" />
<line x1="606.05" y1="361.5" x2="606.05" y2="363.5" stroke="#3a3a3a" stroke-width="1" />
<line x1="641.75" y1="490.5" x2="641.75" y2="488.5" stroke="#3a3a3a" stroke-width="1" />
<line x1="641.75" y1="361.5" x2="641.75" y2="363.5" stroke="#3a3a3a" stroke-width="1" />
<line x1="551.5" y1="474.25" x2="550.3" y2="474.25" stroke="#3a3a3a" stroke-width="1" />
<line x1="551.5" y1="458" x2="549.5" y2="458" stroke="#3a3a3a" stroke-width="1" />
<line x1="551.5" y1="441.75" x2="550.3" y2="441.75" stroke="#3a3a3a" stroke-width="1" />
<line x1="551.5" y1="425.5" x2="549.5" y2="425.5" stroke="#3a3a3a" stroke-width="1" />
<line x1="551.5" y1="409.25" x2="550.3" y2="409.25" stroke="#3a3a3a" stroke-width="1" />
<line x1="551.5" y1="393" x2="549.5" y2="393" stroke="#3a3a3a" stroke-width="1" />
<line x1="551.5" y1="376.75" x2="550.3" y2="376.75" stroke="#3a3a3a" stroke-width="1" />
<line x1="552.6" y1="361.5" x2="552.6" y2="490.5" stroke="#a8a8a8" stroke-width="1.5" />
<text x="430.5" y="495.1" font-family="Liberation Sans" font-size="13.5" text-anchor="end" fill="#000" >0</text>
<text x="430.5" y="462.6" font-family="Liberation Sans" font-size="13.5" text-anchor="end" fill="#000" >2</text>
<text x="430.5" y="430.1" font-family="Liberation Sans" font-size="13.5" text-anchor="end" fill="#000" >4</text>
<text x="430.5" y="397.6" font-family="Liberation Sans" font-size="13.5" text-anchor="end" fill="#000" >6</text>
<text x="430.5" y="365.1" font-family="Liberation Sans" font-size="13.5" text-anchor="end" fill="#000" >8</text>
<text x="445.4" y="504.3" font-family="Liberation Sans" font-size="13.5" text-anchor="middle" fill="#000" >90</text>
<text x="481.1" y="504.3" font-family="Liberation Sans" font-size="13.5" text-anchor="middle" fill="#000" >60</text>
<text x="516.8" y="504.3" font-family="Liberation Sans" font-size="13.5" text-anchor="middle" fill="#000" >30</text>
<text x="552.5" y="504.3" font-family="Liberation Sans" font-size="13.5" text-anchor="middle" fill="#000" >0</text>
<text x="588.2" y="504.3" font-family="Liberation Sans" font-size="13.5" text-anchor="middle" fill="#000" >30</text>
<text x="623.9" y="504.3" font-family="Liberation Sans" font-size="13.5" text-anchor="middle" fill="#000" >60</text>
<text x="659.6" y="504.3" font-family="Liberation Sans" font-size="13.5" text-anchor="middle" fill="#000" >90</text>
<text x="405.4" y="369.9" font-family="Liberation Sans" font-size="19.5" text-anchor="start" font-weight="bold" fill="#000" >i</text>
<text x="679.2" y="365.3" font-family="Liberation Sans" font-size="19.5" text-anchor="start" font-weight="bold" fill="#000" >j</text>
<text x="523.2" y="376.8" font-family="Liberation Sans" font-size="15.8" text-anchor="start" fill="#000" >S75</text>
<text x="0" y="0" font-family="Liberation Sans" font-size="16.5" text-anchor="middle" transform="translate(415 419.6) rotate(-90)"><tspan font-style="italic">B</tspan><tspan font-size="10" dy="-6">*</tspan><tspan dy="6"> (T)</tspan></text>
<text x="477.3" y="522.8" font-family="Liberation Sans" font-size="18.3">&#981; (<tspan font-size="11.5" dy="-6.8">o</tspan><tspan dy="6.8">)</tspan></text>
<text x="597.3" y="522.8" font-family="Liberation Sans" font-size="18.3">&#952; (<tspan font-size="11.5" dy="-6.8">o</tspan><tspan dy="6.8">)</tspan></text>
<g clip-path="url(#ci)">
<path d="M552.5,479.3 552.2,479.3 551.8,479.3 551.5,479.3 551.1,479.3 550.8,479.3 550.4,479.3 550.1,479.3 549.8,479.3 549.4,479.3 549.1,479.3 548.7,479.3 548.4,479.3 548.1,479.3 547.7,479.3 547.4,479.3 547.0,479.3 546.7,479.2 546.3,479.2 546.0,479.2 545.7,479.2 545.3,479.2 545.0,479.2 544.6,479.2 544.3,479.2 543.9,479.2 543.6,479.2 543.3,479.2 542.9,479.2 542.6,479.2 542.2,479.2 541.9,479.2 541.5,479.1 541.2,479.1 540.9,479.1 540.5,479.1 540.2,479.1 539.8,479.1 539.5,479.1 539.2,479.1 538.8,479.1 538.5,479.0 538.1,479.0 537.8,479.0 537.4,479.0 537.1,479.0 536.8,479.0 536.4,479.0 536.1,479.0 535.7,478.9 535.4,478.9 535.0,478.9 534.7,478.9 534.4,478.9 534.0,478.9 533.7,478.8 533.3,478.8 533.0,478.8 532.6,478.8 532.3,478.8 532.0,478.8 531.6,478.7 531.3,478.7 530.9,478.7 530.6,478.7 530.3,478.7 529.9,478.6 529.6,478.6 529.2,478.6 528.9,478.6 528.5,478.6 528.2,478.5 527.9,478.5 527.5,478.5 527.2,478.5 526.8,478.4 526.5,478.4 526.1,478.4 525.8,478.4 525.5,478.3 525.1,478.3 524.8,478.3 524.4,478.3 524.1,478.2 523.7,478.2 523.4,478.2 523.1,478.2 522.7,478.1 522.4,478.1 522.0,478.1 521.7,478.0 521.4,478.0 521.0,478.0 520.7,477.9 520.3,477.9 520.0,477.9 519.6,477.8 519.3,477.8 519.0,477.8 518.6,477.7 518.3,477.7 517.9,477.7 517.6,477.6 517.2,477.6 516.9,477.6 516.6,477.5 516.2,477.5 515.9,477.4 515.5,477.4 515.2,477.4 514.8,477.3 514.5,477.3 514.2,477.2 513.8,477.2 513.5,477.2 513.1,477.1 512.8,477.1 512.5,477.0 512.1,477.0 511.8,476.9 511.4,476.9 511.1,476.8 510.7,476.8 510.4,476.7 510.1,476.7 509.7,476.6 509.4,476.6 509.0,476.5 508.7,476.5 508.3,476.4 508.0,476.4 507.7,476.3 507.3,476.3 507.0,476.2 506.6,476.2 506.3,476.1 506.0,476.0 505.6,476.0 505.3,475.9 504.9,475.9 504.6,475.8 504.2,475.7 503.9,475.7 503.6,475.6 503.2,475.5 502.9,475.5 502.5,475.4 502.2,475.3 501.8,475.3 501.5,475.2 501.2,475.1 500.8,475.1 500.5,475.0 500.1,474.9 499.8,474.8 499.4,474.8 499.1,474.7 498.8,474.6 498.4,474.5 498.1,474.4 497.7,474.4 497.4,474.3 497.1,474.2 496.7,474.1 496.4,474.0 496.0,473.9 495.7,473.8 495.3,473.7 495.0,473.6 494.7,473.5 494.3,473.4 494.0,473.3 493.6,473.2 493.3,473.1 492.9,473.0 492.6,472.9 492.3,472.8 491.9,472.7 491.6,472.6 491.2,472.5 490.9,472.4 490.5,472.3 490.2,472.1 489.9,472.0 489.5,471.9 489.2,471.8 488.8,471.7 488.5,471.5 488.2,471.4 487.8,471.3 487.5,471.1 487.1,471.0 486.8,470.8 486.4,470.7 486.1,470.6 485.8,470.4 485.4,470.3 485.1,470.1 484.7,469.9 484.4,469.8 484.0,469.6 483.7,469.5 483.4,469.3 483.0,469.1 482.7,468.9 482.3,468.8 482.0,468.6 481.6,468.4 481.3,468.2 481.0,468.0 480.6,467.8 480.3,467.6 479.9,467.4 479.6,467.2 479.3,467.0 478.9,466.7 478.6,466.5 478.2,466.3 477.9,466.1 477.5,465.8 477.2,465.6 476.9,465.3 476.5,465.1 476.2,464.8 475.8,464.5 475.5,464.2 475.1,464.0 474.8,463.7 474.5,463.4 474.1,463.1 473.8,462.8 473.4,462.4 473.1,462.1 472.8,461.8 472.4,461.4 472.1,461.1 471.7,460.7 471.4,460.4 471.0,460.0 470.7,459.6 470.4,459.2 470.0,458.8 469.7,458.3 469.3,457.9 469.0,457.4 468.6,457.0 468.3,456.5 468.0,456.0 467.6,455.5 467.3,454.9 466.9,454.4 466.6,453.8 466.2,453.3 465.9,452.6 465.6,452.0 465.2,451.4 464.9,450.7 464.5,450.0 464.2,449.3 463.9,448.6 463.5,447.8 463.2,447.0 462.8,446.1 462.5,445.3 462.1,444.4 461.8,443.4 461.5,442.4 461.1,441.4 460.8,440.3 460.4,439.2 460.1,438.0 459.7,436.8 459.4,435.5 459.1,434.2 458.7,432.7 458.4,431.2 458.0,429.6 457.7,428.0 457.3,426.2 457.0,424.3 456.7,422.3 456.3,420.2 456.0,417.9 455.6,415.5 455.3,413.0 455.0,410.2 454.6,407.2 454.3,404.0 453.9,400.6 453.6,396.8 453.2,392.8 452.9,388.3 452.6,383.5 452.2,378.1 451.9,372.2 451.5,365.6 451.2,358.2 450.8,349.9 450.5,340.5 450.2,329.8" fill="none" stroke="#f02828" stroke-width="1.1" stroke-linejoin="round" />
</g><g clip-path="url(#cj)">
<path d="M552.5,477.5 552.8,477.5 553.2,477.5 553.5,477.5 553.9,477.5 554.2,477.5 554.6,477.5 554.9,477.5 555.2,477.5 555.6,477.5 555.9,477.5 556.3,477.5 556.6,477.5 556.9,477.5 557.3,477.5 557.6,477.5 558.0,477.5 558.3,477.5 558.7,477.4 559.0,477.4 559.3,477.4 559.7,477.4 560.0,477.4 560.4,477.4 560.7,477.4 561.1,477.4 561.4,477.4 561.7,477.4 562.1,477.4 562.4,477.4 562.8,477.4 563.1,477.3 563.5,477.3 563.8,477.3 564.1,477.3 564.5,477.3 564.8,477.3 565.2,477.3 565.5,477.3 565.8,477.2 566.2,477.2 566.5,477.2 566.9,477.2 567.2,477.2 567.6,477.2 567.9,477.2 568.2,477.1 568.6,477.1 568.9,477.1 569.3,477.1 569.6,477.1 570.0,477.1 570.3,477.0 570.6,477.0 571.0,477.0 571.3,477.0 571.7,477.0 572.0,476.9 572.4,476.9 572.7,476.9 573.0,476.9 573.4,476.9 573.7,476.8 574.1,476.8 574.4,476.8 574.7,476.8 575.1,476.8 575.4,476.7 575.8,476.7 576.1,476.7 576.5,476.7 576.8,476.6 577.1,476.6 577.5,476.6 577.8,476.5 578.2,476.5 578.5,476.5 578.9,476.5 579.2,476.4 579.5,476.4 579.9,476.4 580.2,476.3 580.6,476.3 580.9,476.3 581.3,476.3 581.6,476.2 581.9,476.2 582.3,476.2 582.6,476.1 583.0,476.1 583.3,476.1 583.6,476.0 584.0,476.0 584.3,475.9 584.7,475.9 585.0,475.9 585.4,475.8 585.7,475.8 586.0,475.8 586.4,475.7 586.7,475.7 587.1,475.6 587.4,475.6 587.8,475.5 588.1,475.5 588.4,475.5 588.8,475.4 589.1,475.4 589.5,475.3 589.8,475.3 590.2,475.2 590.5,475.2 590.8,475.1 591.2,475.1 591.5,475.0 591.9,475.0 592.2,474.9 592.5,474.9 592.9,474.8 593.2,474.8 593.6,474.7 593.9,474.7 594.3,474.6 594.6,474.6 594.9,474.5 595.3,474.4 595.6,474.4 596.0,474.3 596.3,474.3 596.7,474.2 597.0,474.1 597.3,474.1 597.7,474.0 598.0,473.9 598.4,473.9 598.7,473.8 599.0,473.7 599.4,473.7 599.7,473.6 600.1,473.5 600.4,473.5 600.8,473.4 601.1,473.3 601.4,473.2 601.8,473.2 602.1,473.1 602.5,473.0 602.8,472.9 603.2,472.8 603.5,472.8 603.8,472.7 604.2,472.6 604.5,472.5 604.9,472.4 605.2,472.3 605.6,472.2 605.9,472.2 606.2,472.1 606.6,472.0 606.9,471.9 607.3,471.8 607.6,471.7 607.9,471.6 608.3,471.5 608.6,471.4 609.0,471.3 609.3,471.2 609.7,471.1 610.0,470.9 610.3,470.8 610.7,470.7 611.0,470.6 611.4,470.5 611.7,470.4 612.1,470.3 612.4,470.1 612.7,470.0 613.1,469.9 613.4,469.8 613.8,469.6 614.1,469.5 614.5,469.4 614.8,469.2 615.1,469.1 615.5,468.9 615.8,468.8 616.2,468.6 616.5,468.5 616.8,468.3 617.2,468.2 617.5,468.0 617.9,467.9 618.2,467.7 618.6,467.5 618.9,467.4 619.2,467.2 619.6,467.0 619.9,466.8 620.3,466.7 620.6,466.5 621.0,466.3 621.3,466.1 621.6,465.9 622.0,465.7 622.3,465.5 622.7,465.3 623.0,465.1 623.4,464.9 623.7,464.6 624.0,464.4 624.4,464.2 624.7,463.9 625.1,463.7 625.4,463.5 625.7,463.2 626.1,463.0 626.4,462.7 626.8,462.4 627.1,462.2 627.5,461.9 627.8,461.6 628.1,461.3 628.5,461.0 628.8,460.7 629.2,460.4 629.5,460.1 629.9,459.7 630.2,459.4 630.5,459.1 630.9,458.7 631.2,458.3 631.6,458.0 631.9,457.6 632.2,457.2 632.6,456.8 632.9,456.4 633.3,456.0 633.6,455.5 634.0,455.1 634.3,454.6 634.6,454.2 635.0,453.7 635.3,453.2 635.7,452.7 636.0,452.2 636.4,451.6 636.7,451.1 637.0,450.5 637.4,449.9 637.7,449.3 638.1,448.6 638.4,448.0 638.8,447.3 639.1,446.6 639.4,445.9 639.8,445.1 640.1,444.4 640.5,443.6 640.8,442.7 641.1,441.9 641.5,441.0 641.8,440.0 642.2,439.1 642.5,438.1 642.9,437.0 643.2,435.9 643.5,434.8 643.9,433.6 644.2,432.3 644.6,431.0 644.9,429.7 645.3,428.2 645.6,426.7 645.9,425.2 646.3,423.5 646.6,421.8 647.0,419.9 647.3,418.0 647.7,415.9 648.0,413.8 648.3,411.4 648.7,409.0 649.0,406.4 649.4,403.6 649.7,400.6 650.0,397.4 650.4,394.0 650.7,390.3 651.1,386.3 651.4,381.9 651.8,377.2 652.1,372.1 652.4,366.4 652.8,360.2 653.1,353.3 653.5,345.7 653.8,337.1 654.2,327.5 654.5,316.6 654.8,304.1" fill="none" stroke="#f02828" stroke-width="1.1" stroke-linejoin="round" />
</g>
<defs><radialGradient id="bd" cx="0.45" cy="0.4" r="0.6"><stop offset="0" stop-color="#b0b8ff"/><stop offset="0.5" stop-color="#3030f0"/><stop offset="1" stop-color="#1010c0"/></radialGradient></defs>
<g clip-path="url(#cij)">
<circle cx="442.6" cy="383.6" r="2.4" fill="url(#bd)"/>
<circle cx="444.8" cy="392.3" r="2.4" fill="url(#bd)"/>
<circle cx="447.1" cy="401.4" r="2.4" fill="url(#bd)"/>
<circle cx="449.4" cy="417.5" r="2.4" fill="url(#bd)"/>
<circle cx="452.2" cy="431.6" r="2.4" fill="url(#bd)"/>
<circle cx="454.4" cy="438.9" r="2.4" fill="url(#bd)"/>
<circle cx="457" cy="444.8" r="2.4" fill="url(#bd)"/>
<circle cx="462.9" cy="454.1" r="2.4" fill="url(#bd)"/>
<circle cx="468.8" cy="460.9" r="2.4" fill="url(#bd)"/>
<circle cx="481" cy="470.2" r="2.4" fill="url(#bd)"/>
<circle cx="492.8" cy="474.2" r="2.4" fill="url(#bd)"/>
<circle cx="504.7" cy="476.7" r="2.4" fill="url(#bd)"/>
<circle cx="516.8" cy="477.9" r="2.4" fill="url(#bd)"/>
<circle cx="528.9" cy="479" r="2.4" fill="url(#bd)"/>
<circle cx="540.8" cy="479" r="2.4" fill="url(#bd)"/>
<circle cx="547" cy="479.3" r="2.4" fill="url(#bd)"/>
<circle cx="553.2" cy="479" r="2.4" fill="url(#bd)"/>
<circle cx="559.4" cy="478.7" r="2.4" fill="url(#bd)"/>
<circle cx="565.5" cy="477.1" r="2.4" fill="url(#bd)"/>
<circle cx="571.2" cy="476" r="2.4" fill="url(#bd)"/>
<circle cx="577.4" cy="475.1" r="2.4" fill="url(#bd)"/>
<circle cx="583.3" cy="474.3" r="2.4" fill="url(#bd)"/>
<circle cx="589.5" cy="473.4" r="2.4" fill="url(#bd)"/>
<circle cx="595.2" cy="472.8" r="2.4" fill="url(#bd)"/>
<circle cx="601.4" cy="472.3" r="2.4" fill="url(#bd)"/>
<circle cx="607.3" cy="471.4" r="2.4" fill="url(#bd)"/>
<circle cx="613.3" cy="469.5" r="2.4" fill="url(#bd)"/>
<circle cx="619.2" cy="465.8" r="2.4" fill="url(#bd)"/>
<circle cx="625.1" cy="463.8" r="2.4" fill="url(#bd)"/>
<circle cx="631" cy="460.4" r="2.4" fill="url(#bd)"/>
<circle cx="637" cy="455.1" r="2.4" fill="url(#bd)"/>
<circle cx="642.6" cy="446.9" r="2.4" fill="url(#bd)"/>
<circle cx="648.8" cy="437" r="2.4" fill="url(#bd)"/>
<circle cx="651.1" cy="434.2" r="2.4" fill="url(#bd)"/>
<circle cx="653.4" cy="426.8" r="2.4" fill="url(#bd)"/>
<circle cx="655.9" cy="422.9" r="2.4" fill="url(#bd)"/>
<circle cx="658.2" cy="411.6" r="2.4" fill="url(#bd)"/>
<circle cx="660.7" cy="407.3" r="2.4" fill="url(#bd)"/>
<circle cx="666.6" cy="411.6" r="2.4" fill="url(#bd)"/>
<circle cx="672.3" cy="423.4" r="2.4" fill="url(#bd)"/>
</g>
<text x="497.3" y="413.5" font-family="Liberation Serif" font-size="15" text-anchor="middle">1</text>
<line x1="480.7" y1="419.2" x2="514.6" y2="419.2" stroke="#111" stroke-width="0.9" />
<text x="497.3" y="434.5" font-family="Liberation Serif" font-size="15" font-style="italic" text-anchor="middle">cos&#966;</text>
<line x1="477.9" y1="428.2" x2="459.5" y2="433.3" stroke="#111" stroke-width="0.8" />
<text x="600.8" y="413.5" font-family="Liberation Serif" font-size="15" text-anchor="middle">1</text>
<line x1="585.3" y1="418.9" x2="616.4" y2="418.9" stroke="#111" stroke-width="0.9" />
<text x="600.8" y="434.3" font-family="Liberation Serif" font-size="15" font-style="italic" text-anchor="middle">cos&#952;</text>
<line x1="620.6" y1="426.8" x2="642.6" y2="433.6" stroke="#111" stroke-width="0.8" />
</svg></body></html>
